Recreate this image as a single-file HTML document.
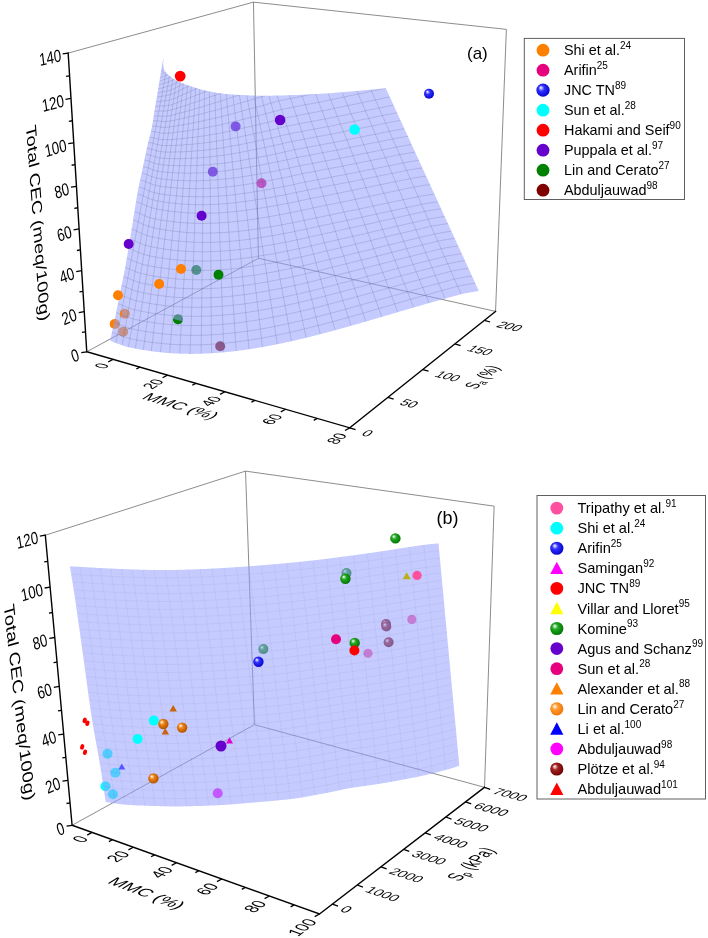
<!DOCTYPE html><html><head><meta charset="utf-8"><style>html,body{margin:0;padding:0;background:#fff;width:708px;height:938px;overflow:hidden;position:relative}</style></head><body><svg width="708" height="938" viewBox="0 0 708 938" style="position:absolute;left:0;top:0;will-change:transform">
<defs>
<radialGradient id="gBlue" cx="0.45" cy="0.45" r="0.6" fx="0.33" fy="0.3"><stop offset="0" stop-color="#fff"/><stop offset="0.38" stop-color="#3030ff"/><stop offset="1" stop-color="#0000c8"/></radialGradient>
<radialGradient id="gGreen" cx="0.45" cy="0.45" r="0.6" fx="0.33" fy="0.3"><stop offset="0" stop-color="#fff"/><stop offset="0.38" stop-color="#20a820"/><stop offset="1" stop-color="#007000"/></radialGradient>
<radialGradient id="gOrange" cx="0.45" cy="0.45" r="0.6" fx="0.33" fy="0.3"><stop offset="0" stop-color="#fff"/><stop offset="0.38" stop-color="#f08010"/><stop offset="1" stop-color="#a85000"/></radialGradient>
<radialGradient id="gDRed" cx="0.45" cy="0.45" r="0.6" fx="0.33" fy="0.3"><stop offset="0" stop-color="#fff"/><stop offset="0.38" stop-color="#a02020"/><stop offset="1" stop-color="#680000"/></radialGradient>
<radialGradient id="gOrangeL" cx="0.45" cy="0.45" r="0.6" fx="0.33" fy="0.3"><stop offset="0" stop-color="#fff"/><stop offset="0.38" stop-color="#ff9a30"/><stop offset="1" stop-color="#ee7000"/></radialGradient>
</defs>
<path d="M68.17,53.09 L253.45,2.15 L506.37,29.37 L495.56,311.39 M258.42,258.28 L253.45,2.15 M86.75,351.78 L258.42,258.28 L495.56,311.39" fill="none" stroke="#666666" stroke-width="0.75"/>
<circle cx="235.60" cy="126.40" r="5.00" fill="#6600cc" />
<circle cx="212.80" cy="171.80" r="5.00" fill="#6600cc" />
<circle cx="261.50" cy="183.30" r="5.00" fill="#e6007e" />
<circle cx="196.30" cy="270.00" r="5.00" fill="#008000" />
<circle cx="124.80" cy="313.80" r="5.00" fill="#ff8000" />
<circle cx="114.80" cy="324.00" r="5.00" fill="#ff8000" />
<circle cx="123.20" cy="331.80" r="5.00" fill="#ff8000" />
<circle cx="178.00" cy="319.20" r="5.00" fill="#008000" />
<circle cx="220.20" cy="346.20" r="5.00" fill="#800000" />
<clipPath id="clipA"><path d="M110.1,340.7 110.4,340.8 110.8,341.0 111.2,341.1 111.7,341.3 112.2,341.5 112.7,341.7 113.3,342.0 113.9,342.2 114.5,342.4 115.1,342.7 115.8,342.9 116.5,343.2 117.2,343.5 117.9,343.7 118.6,344.0 119.3,344.3 120.0,344.6 120.7,344.8 121.4,345.1 122.1,345.3 122.8,345.6 123.5,345.8 124.2,346.0 124.8,346.2 125.5,346.4 126.1,346.6 126.7,346.7 127.3,346.9 127.9,347.1 128.5,347.2 129.2,347.3 129.8,347.5 130.4,347.6 131.0,347.8 131.6,347.9 132.2,348.0 132.8,348.1 133.5,348.3 134.1,348.4 134.7,348.5 135.3,348.6 135.9,348.7 136.5,348.8 137.1,348.9 137.8,349.0 138.4,349.2 139.0,349.3 139.6,349.4 140.2,349.5 140.8,349.6 141.4,349.7 142.1,349.8 142.7,349.9 143.3,350.0 143.9,350.1 144.5,350.2 145.1,350.3 145.8,350.4 146.4,350.5 147.0,350.6 147.6,350.7 148.2,350.8 148.8,350.9 149.4,351.0 150.1,351.1 150.7,351.1 151.3,351.2 151.9,351.3 152.5,351.4 153.1,351.5 153.7,351.5 154.4,351.6 155.0,351.7 155.6,351.8 156.2,351.8 156.8,351.9 157.4,352.0 158.0,352.1 158.7,352.1 159.3,352.2 159.9,352.3 160.5,352.3 161.1,352.4 161.7,352.4 162.3,352.5 163.0,352.6 163.6,352.6 164.2,352.7 164.8,352.7 165.4,352.8 166.0,352.8 166.6,352.9 167.3,352.9 167.9,353.0 168.5,353.0 169.1,353.1 169.7,353.1 170.3,353.2 171.0,353.2 171.6,353.2 172.2,353.3 172.8,353.3 173.4,353.4 174.0,353.4 174.6,353.4 175.3,353.5 175.9,353.5 176.5,353.5 177.1,353.5 177.7,353.6 178.3,353.6 178.9,353.6 179.6,353.6 180.2,353.7 180.8,353.7 181.4,353.7 182.0,353.7 182.6,353.7 183.2,353.8 183.9,353.8 184.5,353.8 185.1,353.8 185.7,353.8 186.3,353.8 186.9,353.8 187.5,353.8 188.2,353.8 188.8,353.9 189.4,353.9 190.0,353.9 190.6,353.9 191.2,353.9 191.9,353.9 192.5,353.9 193.1,353.9 193.7,353.9 194.3,353.8 194.9,353.8 195.5,353.8 196.2,353.8 196.8,353.8 197.4,353.8 198.0,353.8 198.6,353.8 199.2,353.8 199.8,353.7 200.5,353.7 201.1,353.7 201.7,353.7 202.3,353.7 202.9,353.7 203.5,353.6 204.1,353.6 204.8,353.6 205.4,353.6 206.0,353.5 206.6,353.5 207.2,353.5 207.8,353.5 208.4,353.4 209.1,353.4 209.7,353.4 210.3,353.3 210.9,353.3 211.5,353.3 212.1,353.2 212.7,353.2 213.4,353.1 214.0,353.1 214.6,353.1 215.2,353.0 215.8,353.0 216.4,352.9 217.1,352.9 217.7,352.8 218.3,352.8 218.9,352.7 219.5,352.7 220.1,352.6 220.7,352.6 221.4,352.5 222.0,352.5 222.6,352.4 223.2,352.4 223.8,352.3 224.4,352.3 225.0,352.2 225.7,352.2 226.3,352.1 226.9,352.0 227.5,352.0 228.1,351.9 228.7,351.8 229.3,351.8 230.0,351.7 230.6,351.7 231.2,351.6 231.8,351.5 232.4,351.5 233.0,351.4 233.6,351.3 234.3,351.2 234.9,351.2 235.5,351.1 236.1,351.0 236.7,350.9 237.3,350.9 238.0,350.8 238.6,350.7 239.2,350.6 239.8,350.6 240.4,350.5 241.0,350.4 241.6,350.3 242.3,350.2 242.9,350.2 243.5,350.1 244.1,350.0 244.7,349.9 245.3,349.8 245.9,349.7 246.6,349.6 247.2,349.5 247.8,349.5 248.4,349.4 249.0,349.3 249.6,349.2 250.2,349.1 250.9,349.0 251.5,348.9 252.1,348.8 252.7,348.7 253.3,348.6 253.9,348.5 254.5,348.4 255.2,348.3 255.8,348.2 256.4,348.1 257.0,348.0 257.6,347.9 258.2,347.8 258.8,347.7 259.5,347.6 260.1,347.5 260.7,347.4 261.3,347.3 261.9,347.2 262.5,347.1 263.2,347.0 263.8,346.9 264.4,346.7 265.0,346.6 265.6,346.5 266.2,346.4 266.8,346.3 267.5,346.2 268.1,346.1 268.7,345.9 269.3,345.8 269.9,345.7 270.5,345.6 271.1,345.5 271.8,345.4 272.4,345.2 273.0,345.1 273.6,345.0 274.2,344.9 274.8,344.8 275.4,344.6 276.1,344.5 276.7,344.4 277.3,344.3 277.9,344.1 278.5,344.0 279.1,343.9 279.7,343.8 280.4,343.6 281.0,343.5 281.6,343.4 282.2,343.3 282.8,343.1 283.4,343.0 284.1,342.9 284.7,342.7 285.3,342.6 285.9,342.5 286.5,342.3 287.1,342.2 287.7,342.1 288.4,341.9 289.0,341.8 289.6,341.7 290.2,341.5 290.8,341.4 291.4,341.2 292.0,341.1 292.7,341.0 293.3,340.8 293.9,340.7 294.5,340.5 295.1,340.4 295.7,340.3 296.3,340.1 297.0,340.0 297.6,339.8 298.2,339.7 298.8,339.5 299.4,339.4 300.0,339.3 300.6,339.1 301.3,339.0 301.9,338.8 302.5,338.7 303.1,338.5 303.7,338.4 304.3,338.2 304.9,338.1 305.6,337.9 306.2,337.8 306.8,337.6 307.4,337.5 308.0,337.3 308.6,337.2 309.3,337.0 309.9,336.9 310.5,336.7 311.1,336.6 311.7,336.4 312.3,336.3 312.9,336.1 313.6,335.9 314.2,335.8 314.8,335.6 315.4,335.5 316.0,335.3 316.6,335.2 317.2,335.0 317.9,334.8 318.5,334.7 319.1,334.5 319.7,334.4 320.3,334.2 320.9,334.0 321.5,333.9 322.2,333.7 322.8,333.6 323.4,333.4 324.0,333.2 324.6,333.1 325.2,332.9 325.8,332.8 326.5,332.6 327.1,332.4 327.7,332.3 328.3,332.1 328.9,331.9 329.5,331.8 330.2,331.6 330.8,331.4 331.4,331.3 332.0,331.1 332.6,330.9 333.2,330.8 333.8,330.6 334.5,330.4 335.1,330.3 335.7,330.1 336.3,329.9 336.9,329.8 337.5,329.6 338.1,329.4 338.8,329.3 339.4,329.1 340.0,328.9 340.6,328.7 341.2,328.6 341.8,328.4 342.4,328.2 343.1,328.1 343.7,327.9 344.3,327.7 344.9,327.5 345.5,327.4 346.1,327.2 346.7,327.0 347.4,326.9 348.0,326.7 348.6,326.5 349.2,326.3 349.8,326.2 350.4,326.0 351.0,325.8 351.7,325.6 352.3,325.5 352.9,325.3 353.5,325.1 354.1,324.9 354.7,324.8 355.4,324.6 356.0,324.4 356.6,324.2 357.2,324.1 357.8,323.9 358.4,323.7 359.0,323.5 359.7,323.4 360.3,323.2 360.9,323.0 361.5,322.8 362.1,322.6 362.7,322.5 363.3,322.3 364.0,322.1 364.6,321.9 365.2,321.7 365.8,321.6 366.4,321.4 367.0,321.2 367.6,321.0 368.3,320.9 368.9,320.7 369.5,320.5 370.1,320.3 370.7,320.1 371.3,320.0 371.9,319.8 372.6,319.6 373.2,319.4 373.8,319.2 374.4,319.1 375.0,318.9 375.6,318.7 376.3,318.5 376.9,318.3 377.5,318.2 378.1,318.0 378.7,317.8 379.3,317.6 379.9,317.4 380.6,317.3 381.2,317.1 381.8,316.9 382.4,316.7 383.0,316.5 383.6,316.3 384.2,316.2 384.9,316.0 385.5,315.8 386.1,315.6 386.7,315.4 387.3,315.3 387.9,315.1 388.5,314.9 389.2,314.7 389.8,314.5 390.4,314.4 391.0,314.2 391.6,314.0 392.2,313.8 392.8,313.6 393.5,313.5 394.1,313.3 394.7,313.1 395.3,312.9 395.9,312.7 396.5,312.5 397.1,312.4 397.8,312.2 398.4,312.0 399.0,311.8 399.6,311.6 400.2,311.5 400.8,311.3 401.5,311.1 402.1,310.9 402.7,310.7 403.3,310.6 403.9,310.4 404.5,310.2 405.1,310.0 405.8,309.8 406.4,309.7 407.0,309.5 407.6,309.3 408.2,309.1 408.8,308.9 409.4,308.8 410.1,308.6 410.7,308.4 411.3,308.2 411.9,308.0 412.5,307.9 413.1,307.7 413.7,307.5 414.4,307.3 415.0,307.1 415.6,307.0 416.2,306.8 416.8,306.6 417.4,306.4 418.0,306.2 418.7,306.1 419.3,305.9 419.9,305.7 420.5,305.5 421.1,305.4 421.7,305.2 422.4,305.0 423.0,304.8 423.6,304.7 424.2,304.5 424.8,304.3 425.4,304.1 426.0,303.9 426.7,303.8 427.3,303.6 427.9,303.4 428.5,303.2 429.1,303.1 429.7,302.9 430.3,302.7 431.0,302.5 431.6,302.4 432.2,302.2 432.8,302.0 433.4,301.8 434.0,301.7 434.6,301.5 435.3,301.3 435.9,301.2 436.5,301.0 437.1,300.8 437.7,300.6 438.3,300.5 438.9,300.3 439.6,300.1 440.2,300.0 440.8,299.8 441.4,299.6 442.0,299.4 442.6,299.3 443.2,299.1 443.9,298.9 444.5,298.8 445.1,298.6 445.7,298.4 446.3,298.3 446.9,298.1 447.6,297.9 448.2,297.8 448.8,297.6 449.4,297.4 450.0,297.2 450.6,297.1 451.2,296.9 451.9,296.7 452.5,296.6 453.1,296.4 453.7,296.2 454.3,296.0 454.9,295.9 455.5,295.7 456.2,295.5 456.8,295.4 457.4,295.2 458.0,295.0 458.6,294.9 459.2,294.7 459.8,294.5 460.5,294.4 461.1,294.2 461.7,294.1 462.3,293.9 462.9,293.8 463.5,293.7 464.2,293.5 464.8,293.4 465.5,293.3 466.2,293.1 466.9,293.0 467.6,292.9 468.3,292.7 469.0,292.6 469.7,292.5 470.4,292.4 471.1,292.2 471.8,292.1 472.5,292.0 473.2,291.9 473.9,291.8 474.5,291.7 475.1,291.6 475.7,291.5 476.3,291.4 476.8,291.3 477.3,291.3 477.8,291.2 478.2,291.1 478.6,291.1 478.9,291.0 478.7,290.7 478.6,290.3 478.4,290.0 478.3,289.6 478.1,289.2 477.9,288.9 477.7,288.5 477.6,288.1 477.4,287.7 477.2,287.3 477.0,286.9 476.8,286.5 476.6,286.1 476.4,285.6 476.2,285.2 476.0,284.8 475.8,284.3 475.6,283.9 475.4,283.4 475.2,283.0 475.0,282.5 474.8,282.0 474.6,281.6 474.3,281.1 474.1,280.6 473.9,280.1 473.7,279.6 473.4,279.1 473.2,278.6 473.0,278.1 472.7,277.6 472.5,277.0 472.2,276.5 472.0,276.0 471.7,275.4 471.5,274.9 471.2,274.3 471.0,273.8 470.7,273.2 470.5,272.6 470.2,272.1 469.9,271.5 469.7,270.9 469.4,270.3 469.1,269.7 468.9,269.1 468.6,268.5 468.3,267.9 468.0,267.3 467.7,266.7 467.5,266.1 467.2,265.4 466.9,264.8 466.6,264.2 466.3,263.6 466.0,262.9 465.7,262.3 465.4,261.6 465.1,261.0 464.8,260.3 464.5,259.6 464.2,259.0 463.9,258.3 463.6,257.6 463.3,257.0 463.0,256.3 462.6,255.6 462.3,254.9 462.0,254.2 461.7,253.5 461.4,252.8 461.0,252.1 460.7,251.4 460.4,250.7 460.1,250.0 459.7,249.3 459.4,248.5 459.1,247.8 458.7,247.1 458.4,246.4 458.1,245.6 457.7,244.9 457.4,244.2 457.1,243.4 456.7,242.7 456.4,241.9 456.0,241.2 455.7,240.4 455.3,239.7 455.0,238.9 454.6,238.1 454.3,237.4 453.9,236.6 453.6,235.8 453.2,235.1 452.9,234.3 452.5,233.5 452.2,232.7 451.8,232.0 451.4,231.2 451.1,230.4 450.7,229.6 450.3,228.8 450.0,228.0 449.6,227.2 449.3,226.4 448.9,225.6 448.5,224.8 448.2,224.0 447.8,223.2 447.4,222.4 447.0,221.6 446.7,220.8 446.3,220.0 445.9,219.2 445.5,218.4 445.2,217.5 444.8,216.7 444.4,215.9 444.0,215.1 443.7,214.3 443.3,213.4 442.9,212.6 442.5,211.8 442.2,211.0 441.8,210.1 441.4,209.3 441.0,208.5 440.6,207.6 440.2,206.8 439.9,206.0 439.5,205.1 439.1,204.3 438.7,203.5 438.3,202.6 437.9,201.8 437.6,201.0 437.2,200.1 436.8,199.3 436.4,198.4 436.0,197.6 435.6,196.8 435.2,195.9 434.9,195.1 434.5,194.2 434.1,193.4 433.7,192.5 433.3,191.7 432.9,190.9 432.5,190.0 432.2,189.2 431.8,188.3 431.4,187.5 431.0,186.7 430.6,185.8 430.2,185.0 429.8,184.1 429.5,183.3 429.1,182.4 428.7,181.6 428.3,180.8 427.9,179.9 427.5,179.1 427.1,178.2 426.8,177.4 426.4,176.6 426.0,175.7 425.6,174.9 425.2,174.1 424.8,173.2 424.5,172.4 424.1,171.6 423.7,170.7 423.3,169.9 422.9,169.1 422.5,168.2 422.2,167.4 421.8,166.6 421.4,165.8 421.0,164.9 420.7,164.1 420.3,163.3 419.9,162.5 419.5,161.7 419.2,160.8 418.8,160.0 418.4,159.2 418.0,158.4 417.7,157.6 417.3,156.8 416.9,156.0 416.5,155.2 416.2,154.4 415.8,153.6 415.4,152.8 415.1,152.0 414.7,151.2 414.4,150.4 414.0,149.6 413.6,148.8 413.3,148.0 412.9,147.2 412.5,146.5 412.2,145.7 411.8,144.9 411.5,144.1 411.1,143.4 410.8,142.6 410.4,141.8 410.1,141.1 409.7,140.3 409.4,139.5 409.0,138.8 408.7,138.0 408.3,137.3 408.0,136.5 407.6,135.8 407.3,135.0 407.0,134.3 406.6,133.6 406.3,132.8 406.0,132.1 405.6,131.4 405.3,130.7 405.0,129.9 404.6,129.2 404.3,128.5 404.0,127.8 403.7,127.1 403.3,126.4 403.0,125.7 402.7,125.0 402.4,124.3 402.1,123.6 401.7,122.9 401.4,122.2 401.1,121.6 400.8,120.9 400.5,120.2 400.2,119.6 399.9,118.9 399.6,118.2 399.3,117.6 399.0,116.9 398.7,116.3 398.4,115.6 398.1,115.0 397.8,114.4 397.5,113.8 397.2,113.1 397.0,112.5 396.7,111.9 396.4,111.3 396.1,110.7 395.8,110.1 395.6,109.5 395.3,108.9 395.0,108.3 394.8,107.7 394.5,107.1 394.2,106.6 394.0,106.0 393.7,105.4 393.5,104.9 393.2,104.3 393.0,103.8 392.7,103.2 392.5,102.7 392.2,102.2 392.0,101.6 391.7,101.1 391.5,100.6 391.3,100.1 391.0,99.6 390.8,99.1 390.6,98.6 390.4,98.1 390.1,97.6 389.9,97.2 389.7,96.7 389.5,96.2 389.3,95.8 389.1,95.3 388.9,94.9 388.7,94.4 388.5,94.0 388.3,93.6 388.1,93.1 387.9,92.7 387.7,92.3 387.5,91.9 387.3,91.5 387.1,91.1 387.0,90.7 386.8,90.3 386.6,90.0 386.4,89.6 386.3,89.2 386.1,88.9 386.0,88.5 385.8,88.2 385.0,88.3 384.0,88.4 383.0,88.4 381.9,88.5 380.8,88.7 379.5,88.8 378.2,88.9 376.9,89.0 375.5,89.2 374.0,89.3 372.5,89.4 370.9,89.6 369.3,89.7 367.6,89.9 365.9,90.1 364.2,90.2 362.4,90.4 360.6,90.5 358.8,90.7 357.0,90.9 355.2,91.0 353.3,91.2 351.4,91.4 349.6,91.5 347.7,91.7 345.8,91.9 344.0,92.0 342.1,92.2 340.3,92.3 338.5,92.5 336.7,92.6 334.9,92.8 333.2,92.9 331.5,93.0 329.8,93.2 328.1,93.3 326.5,93.4 325.0,93.5 323.5,93.6 321.9,93.7 320.4,93.8 318.8,93.9 317.3,94.0 315.7,94.1 314.1,94.1 312.6,94.2 311.0,94.3 309.4,94.4 307.9,94.4 306.3,94.5 304.7,94.6 303.2,94.7 301.6,94.7 300.1,94.8 298.5,94.9 297.0,94.9 295.5,95.0 294.0,95.0 292.5,95.1 291.0,95.1 289.5,95.2 288.0,95.2 286.6,95.3 285.2,95.3 283.8,95.4 282.4,95.4 281.1,95.4 279.7,95.5 278.4,95.5 277.1,95.5 275.9,95.6 274.6,95.6 273.4,95.6 272.3,95.7 271.1,95.7 270.0,95.7 268.9,95.7 267.9,95.7 266.8,95.7 265.9,95.8 264.9,95.8 264.0,95.8 263.0,95.8 262.1,95.8 261.3,95.7 260.4,95.7 259.6,95.7 258.8,95.7 258.0,95.7 257.2,95.7 256.5,95.7 255.8,95.6 255.0,95.6 254.3,95.6 253.7,95.6 253.0,95.5 252.3,95.5 251.6,95.5 251.0,95.5 250.4,95.4 249.7,95.4 249.1,95.4 248.5,95.3 247.9,95.3 247.3,95.3 246.7,95.2 246.1,95.2 245.5,95.2 244.9,95.1 244.2,95.1 243.6,95.1 243.0,95.1 242.4,95.0 241.8,95.0 241.2,95.0 240.6,94.9 240.0,94.9 239.4,94.9 238.8,94.9 238.2,94.8 237.7,94.8 237.1,94.8 236.5,94.7 236.0,94.7 235.4,94.7 234.9,94.6 234.4,94.6 233.9,94.6 233.3,94.5 232.8,94.5 232.3,94.5 231.8,94.4 231.3,94.4 230.9,94.4 230.4,94.3 229.9,94.3 229.4,94.2 229.0,94.2 228.5,94.2 228.0,94.1 227.6,94.1 227.1,94.0 226.7,94.0 226.2,94.0 225.8,93.9 225.4,93.9 224.9,93.8 224.5,93.8 224.1,93.7 223.6,93.7 223.2,93.6 222.8,93.6 222.4,93.6 222.0,93.5 221.6,93.5 221.2,93.4 220.8,93.4 220.4,93.3 220.0,93.3 219.6,93.2 219.3,93.1 218.9,93.1 218.5,93.0 218.2,93.0 217.8,92.9 217.5,92.9 217.1,92.8 216.8,92.8 216.4,92.7 216.1,92.6 215.8,92.6 215.4,92.5 215.1,92.5 214.8,92.4 214.5,92.4 214.2,92.3 213.8,92.2 213.5,92.2 213.2,92.1 212.9,92.1 212.6,92.0 212.3,91.9 212.0,91.9 211.7,91.8 211.4,91.8 211.1,91.7 210.9,91.7 210.6,91.6 210.3,91.6 210.0,91.5 209.7,91.4 209.4,91.4 209.2,91.3 208.9,91.3 208.6,91.2 208.4,91.2 208.1,91.1 207.9,91.1 207.6,91.0 207.4,91.0 207.2,90.9 206.9,90.9 206.7,90.8 206.5,90.8 206.3,90.7 206.0,90.7 205.8,90.6 205.6,90.6 205.4,90.5 205.2,90.5 204.9,90.4 204.7,90.4 204.5,90.3 204.3,90.3 204.1,90.2 203.9,90.2 203.7,90.1 203.4,90.1 203.2,90.0 203.0,90.0 202.8,89.9 202.6,89.9 202.3,89.8 202.1,89.7 201.9,89.7 201.7,89.6 201.4,89.6 201.2,89.5 201.0,89.4 200.7,89.4 200.5,89.3 200.2,89.2 200.0,89.2 199.8,89.1 199.5,89.0 199.3,89.0 199.0,88.9 198.8,88.8 198.6,88.7 198.3,88.7 198.1,88.6 197.8,88.5 197.6,88.5 197.3,88.4 197.1,88.3 196.8,88.2 196.6,88.1 196.3,88.1 196.1,88.0 195.9,87.9 195.6,87.8 195.4,87.8 195.1,87.7 194.9,87.6 194.7,87.5 194.4,87.5 194.2,87.4 193.9,87.3 193.7,87.2 193.5,87.2 193.2,87.1 193.0,87.0 192.8,86.9 192.6,86.8 192.3,86.8 192.1,86.7 191.9,86.6 191.7,86.6 191.4,86.5 191.2,86.4 191.0,86.3 190.8,86.3 190.6,86.2 190.3,86.1 190.1,86.0 189.9,86.0 189.7,85.9 189.5,85.8 189.3,85.7 189.0,85.7 188.8,85.6 188.6,85.5 188.4,85.4 188.2,85.4 188.0,85.3 187.8,85.2 187.6,85.2 187.4,85.1 187.2,85.0 187.0,84.9 186.8,84.9 186.6,84.8 186.4,84.7 186.2,84.6 186.0,84.6 185.8,84.5 185.6,84.4 185.4,84.3 185.2,84.3 185.0,84.2 184.8,84.1 184.6,84.0 184.4,84.0 184.2,83.9 184.0,83.8 183.8,83.8 183.6,83.7 183.4,83.6 183.3,83.5 183.1,83.5 182.9,83.4 182.7,83.3 182.5,83.2 182.3,83.2 182.1,83.1 182.0,83.0 181.8,83.0 181.6,82.9 181.4,82.8 181.2,82.8 181.1,82.7 180.9,82.6 180.7,82.5 180.5,82.5 180.4,82.4 180.2,82.3 180.0,82.2 179.8,82.2 179.7,82.1 179.5,82.0 179.3,82.0 179.2,81.9 179.0,81.8 178.8,81.7 178.7,81.7 178.5,81.6 178.3,81.5 178.2,81.4 178.0,81.3 177.8,81.3 177.7,81.2 177.5,81.1 177.3,81.0 177.2,80.9 177.0,80.9 176.9,80.8 176.7,80.7 176.5,80.6 176.4,80.5 176.2,80.4 176.1,80.3 175.9,80.3 175.7,80.2 175.6,80.1 175.4,80.0 175.3,79.9 175.1,79.8 175.0,79.7 174.8,79.6 174.7,79.6 174.5,79.5 174.4,79.4 174.2,79.3 174.1,79.2 173.9,79.1 173.8,79.0 173.6,78.9 173.5,78.8 173.3,78.7 173.2,78.6 173.0,78.5 172.9,78.5 172.8,78.4 172.6,78.3 172.5,78.2 172.3,78.1 172.2,78.0 172.1,77.9 171.9,77.8 171.8,77.7 171.7,77.6 171.5,77.5 171.4,77.4 171.3,77.3 171.1,77.2 171.0,77.1 170.9,77.0 170.7,76.9 170.6,76.8 170.5,76.7 170.4,76.6 170.2,76.5 170.1,76.4 170.0,76.3 169.9,76.2 169.7,76.1 169.6,76.0 169.5,75.9 169.4,75.8 169.2,75.7 169.1,75.6 169.0,75.5 168.9,75.4 168.8,75.3 168.7,75.2 168.5,75.1 168.4,75.0 168.3,74.9 168.2,74.8 168.1,74.7 168.0,74.6 167.9,74.5 167.8,74.4 167.7,74.3 167.6,74.2 167.5,74.1 167.4,74.0 167.3,73.9 167.2,73.8 167.1,73.7 167.0,73.6 166.9,73.5 166.8,73.5 166.8,73.4 166.7,73.3 166.6,73.2 166.5,73.1 166.4,73.1 166.3,73.0 166.3,72.9 166.2,72.8 166.1,72.7 166.0,72.7 166.0,72.6 165.9,72.5 165.8,72.4 165.7,72.3 165.7,72.3 165.6,72.2 165.5,72.1 165.5,72.0 165.4,72.0 165.3,71.9 165.3,71.8 165.2,71.7 165.2,71.6 165.1,71.6 165.0,71.5 165.0,71.4 164.9,71.3 164.9,71.2 164.8,71.2 164.8,71.1 164.7,71.0 164.7,70.9 164.6,70.8 164.5,70.7 164.5,70.6 164.5,70.5 164.4,70.4 164.4,70.3 164.3,70.3 164.3,70.2 164.2,70.1 164.2,70.0 164.1,69.9 164.1,69.8 164.1,69.7 164.0,69.6 164.0,69.5 164.0,69.4 163.9,69.3 163.9,69.2 163.9,69.1 163.8,69.0 163.8,68.9 163.8,68.8 163.8,68.7 163.7,68.6 163.7,68.5 163.7,68.4 163.6,68.3 163.6,68.2 163.6,68.1 163.6,68.0 163.6,67.9 163.5,67.8 163.5,67.7 163.5,67.6 163.5,67.5 163.5,67.3 163.4,67.2 163.4,67.1 163.4,67.0 163.4,66.9 163.4,66.8 163.4,66.6 163.3,66.5 163.3,66.4 163.3,66.3 163.3,66.2 163.3,66.0 163.3,65.9 163.3,65.8 163.3,65.7 163.3,65.5 163.2,65.4 163.2,65.3 163.2,65.2 163.2,65.0 163.2,64.9 163.2,64.8 163.2,64.6 163.2,64.5 163.2,64.4 163.2,64.2 163.2,64.1 163.2,64.0 163.2,63.8 163.2,63.7 163.2,63.5 163.2,63.4 163.2,63.3 163.2,63.1 163.2,63.0 163.3,62.9 163.3,62.7 163.3,62.6 163.3,62.4 163.3,62.3 163.3,62.1 163.3,62.0 163.3,61.9 163.3,61.7 163.3,61.5 163.4,61.4 163.4,61.2 163.4,61.1 163.4,60.9 163.4,60.7 163.4,60.5 163.5,60.4 163.5,60.2 163.5,60.0 163.5,59.8 163.6,59.6 163.6,59.5 163.6,59.3 163.6,59.1 163.7,58.9 163.7,58.7 163.7,58.6 163.7,58.4 163.8,58.2 163.8,58.0 163.8,57.9 163.9,57.7 163.9,57.6 163.9,57.4 163.9,57.3 163.9,57.1 164.0,57.0 164.0,56.8 164.0,56.7 164.0,56.6 164.0,56.5 164.1,56.4 164.1,56.3 164.1,56.2 164.1,56.1 164.1,56.2 164.1,56.3 164.0,56.4 164.0,56.5 164.0,56.6 163.9,56.8 163.9,56.9 163.9,57.0 163.8,57.1 163.8,57.3 163.8,57.4 163.7,57.6 163.7,57.7 163.6,57.9 163.6,58.1 163.5,58.2 163.5,58.4 163.5,58.6 163.4,58.8 163.4,58.9 163.3,59.1 163.3,59.3 163.2,59.5 163.2,59.7 163.1,59.9 163.1,60.1 163.0,60.3 163.0,60.5 162.9,60.8 162.9,61.0 162.8,61.2 162.8,61.4 162.7,61.7 162.7,61.9 162.6,62.1 162.6,62.4 162.5,62.6 162.5,62.8 162.4,63.1 162.3,63.3 162.3,63.6 162.2,63.8 162.2,64.1 162.2,64.4 162.1,64.6 162.1,64.9 162.0,65.2 162.0,65.4 161.9,65.7 161.9,66.0 161.8,66.3 161.8,66.6 161.7,66.9 161.7,67.2 161.6,67.5 161.6,67.8 161.5,68.1 161.4,68.5 161.4,68.8 161.3,69.1 161.3,69.4 161.2,69.8 161.2,70.1 161.1,70.4 161.1,70.8 161.0,71.1 161.0,71.4 160.9,71.8 160.9,72.1 160.8,72.5 160.8,72.8 160.7,73.2 160.6,73.5 160.6,73.9 160.5,74.2 160.5,74.6 160.4,75.0 160.4,75.3 160.3,75.7 160.3,76.0 160.2,76.4 160.1,76.8 160.1,77.1 160.0,77.5 160.0,77.8 159.9,78.2 159.8,78.6 159.8,78.9 159.7,79.3 159.7,79.7 159.6,80.0 159.5,80.4 159.5,80.8 159.4,81.2 159.3,81.6 159.3,82.0 159.2,82.3 159.2,82.7 159.1,83.1 159.0,83.5 159.0,83.9 158.9,84.3 158.8,84.7 158.8,85.1 158.7,85.5 158.6,85.9 158.6,86.3 158.5,86.7 158.4,87.1 158.4,87.5 158.3,87.9 158.2,88.3 158.2,88.8 158.1,89.2 158.0,89.6 158.0,90.0 157.9,90.4 157.8,90.8 157.8,91.2 157.7,91.6 157.6,92.0 157.6,92.4 157.5,92.8 157.4,93.2 157.4,93.6 157.3,94.0 157.2,94.4 157.2,94.8 157.1,95.2 157.0,95.6 157.0,96.0 156.9,96.4 156.8,96.8 156.8,97.2 156.7,97.6 156.6,98.0 156.6,98.3 156.5,98.7 156.4,99.1 156.4,99.5 156.3,99.9 156.3,100.3 156.2,100.7 156.1,101.1 156.1,101.5 156.0,101.9 155.9,102.3 155.9,102.7 155.8,103.1 155.7,103.5 155.7,103.8 155.6,104.2 155.5,104.6 155.5,105.0 155.4,105.4 155.3,105.8 155.3,106.2 155.2,106.6 155.1,107.0 155.1,107.4 155.0,107.8 155.0,108.2 154.9,108.6 154.8,109.0 154.8,109.3 154.7,109.7 154.6,110.1 154.6,110.5 154.5,110.9 154.4,111.3 154.4,111.7 154.3,112.1 154.2,112.5 154.2,112.9 154.1,113.3 154.0,113.7 154.0,114.1 153.9,114.5 153.9,114.9 153.8,115.3 153.7,115.7 153.7,116.1 153.6,116.5 153.5,116.9 153.5,117.3 153.4,117.7 153.4,118.1 153.3,118.5 153.2,118.9 153.2,119.3 153.1,119.7 153.0,120.1 153.0,120.5 152.9,120.9 152.9,121.3 152.8,121.7 152.7,122.1 152.7,122.5 152.6,122.9 152.5,123.3 152.5,123.7 152.4,124.1 152.3,124.5 152.3,124.9 152.2,125.3 152.1,125.7 152.1,126.1 152.0,126.5 151.9,126.8 151.9,127.2 151.8,127.6 151.7,128.0 151.6,128.4 151.6,128.7 151.5,129.1 151.4,129.5 151.3,129.8 151.3,130.2 151.2,130.5 151.1,130.8 151.1,131.2 151.0,131.5 150.9,131.8 150.8,132.1 150.8,132.4 150.7,132.7 150.6,133.0 150.5,133.3 150.5,133.6 150.4,133.9 150.3,134.1 150.2,134.4 150.2,134.7 150.1,135.0 150.0,135.3 149.9,135.6 149.8,135.9 149.8,136.2 149.7,136.5 149.6,136.8 149.5,137.1 149.4,137.4 149.3,137.8 149.2,138.1 149.1,138.5 149.1,138.8 149.0,139.2 148.9,139.5 148.8,139.9 148.7,140.3 148.6,140.7 148.5,141.2 148.4,141.6 148.3,142.0 148.1,142.5 148.0,143.0 147.9,143.5 147.8,144.0 147.7,144.5 147.6,145.1 147.4,145.7 147.3,146.2 147.2,146.9 147.0,147.5 146.9,148.1 146.7,148.8 146.6,149.4 146.5,150.1 146.3,150.8 146.2,151.5 146.0,152.2 145.8,153.0 145.7,153.7 145.5,154.4 145.4,155.2 145.2,155.9 145.0,156.7 144.9,157.5 144.7,158.2 144.6,159.0 144.4,159.8 144.2,160.5 144.1,161.3 143.9,162.1 143.7,162.8 143.6,163.6 143.4,164.4 143.3,165.1 143.1,165.9 143.0,166.6 142.8,167.3 142.6,168.0 142.5,168.8 142.4,169.5 142.2,170.2 142.1,170.8 141.9,171.5 141.8,172.1 141.7,172.8 141.5,173.4 141.4,174.0 141.3,174.6 141.2,175.1 141.0,175.7 140.9,176.2 140.8,176.7 140.7,177.2 140.6,177.7 140.5,178.2 140.4,178.6 140.3,179.1 140.2,179.5 140.1,179.9 140.0,180.4 139.9,180.8 139.8,181.2 139.7,181.6 139.7,182.0 139.6,182.4 139.5,182.8 139.4,183.2 139.3,183.6 139.2,184.0 139.1,184.4 139.0,184.8 139.0,185.2 138.9,185.7 138.8,186.1 138.7,186.5 138.6,187.0 138.5,187.4 138.4,187.9 138.3,188.4 138.2,188.9 138.1,189.4 138.0,190.0 137.9,190.5 137.8,191.1 137.7,191.7 137.6,192.3 137.5,192.9 137.3,193.6 137.2,194.3 137.1,195.0 137.0,195.7 136.8,196.5 136.7,197.3 136.6,198.1 136.4,198.9 136.3,199.8 136.1,200.7 136.0,201.5 135.9,202.5 135.7,203.4 135.6,204.3 135.4,205.3 135.2,206.3 135.1,207.2 134.9,208.2 134.8,209.2 134.6,210.2 134.5,211.3 134.3,212.3 134.1,213.3 134.0,214.4 133.8,215.4 133.6,216.5 133.5,217.5 133.3,218.6 133.2,219.6 133.0,220.7 132.8,221.7 132.7,222.7 132.5,223.8 132.3,224.8 132.2,225.8 132.0,226.8 131.9,227.8 131.7,228.8 131.5,229.8 131.4,230.8 131.2,231.7 131.1,232.7 130.9,233.6 130.8,234.5 130.6,235.4 130.5,236.3 130.4,237.2 130.2,238.0 130.1,238.9 129.9,239.7 129.8,240.6 129.7,241.4 129.5,242.2 129.4,243.1 129.2,243.9 129.1,244.7 129.0,245.6 128.8,246.4 128.7,247.2 128.6,248.0 128.4,248.8 128.3,249.6 128.1,250.4 128.0,251.2 127.9,251.9 127.7,252.7 127.6,253.5 127.5,254.3 127.4,255.0 127.2,255.8 127.1,256.5 127.0,257.3 126.8,258.0 126.7,258.8 126.6,259.5 126.4,260.3 126.3,261.0 126.2,261.7 126.1,262.4 125.9,263.2 125.8,263.9 125.7,264.6 125.6,265.3 125.4,266.0 125.3,266.7 125.2,267.4 125.0,268.0 124.9,268.7 124.8,269.4 124.7,270.1 124.6,270.7 124.4,271.4 124.3,272.0 124.2,272.7 124.1,273.3 123.9,273.9 123.8,274.5 123.7,275.1 123.6,275.7 123.5,276.3 123.4,276.9 123.2,277.5 123.1,278.1 123.0,278.7 122.9,279.2 122.8,279.8 122.7,280.4 122.5,280.9 122.4,281.5 122.3,282.0 122.2,282.6 122.1,283.1 122.0,283.7 121.9,284.2 121.7,284.8 121.6,285.3 121.5,285.9 121.4,286.4 121.3,287.0 121.2,287.5 121.1,288.1 120.9,288.6 120.8,289.2 120.7,289.7 120.6,290.3 120.5,290.8 120.4,291.4 120.3,291.9 120.1,292.5 120.0,293.1 119.9,293.6 119.8,294.2 119.7,294.8 119.6,295.4 119.5,295.9 119.3,296.5 119.2,297.1 119.1,297.7 119.0,298.3 118.9,298.9 118.7,299.4 118.6,300.0 118.5,300.6 118.4,301.2 118.3,301.8 118.2,302.4 118.0,303.0 117.9,303.6 117.8,304.2 117.7,304.7 117.6,305.3 117.5,305.9 117.3,306.5 117.2,307.1 117.1,307.7 117.0,308.3 116.9,308.8 116.8,309.4 116.6,310.0 116.5,310.6 116.4,311.2 116.3,311.7 116.2,312.3 116.1,312.9 115.9,313.4 115.8,314.0 115.7,314.6 115.6,315.1 115.5,315.7 115.4,316.3 115.3,316.8 115.1,317.4 115.0,317.9 114.9,318.5 114.8,319.0 114.7,319.5 114.6,320.1 114.5,320.7 114.3,321.2 114.2,321.8 114.1,322.4 114.0,323.0 113.8,323.5 113.7,324.1 113.6,324.7 113.5,325.3 113.3,325.9 113.2,326.5 113.1,327.1 113.0,327.7 112.8,328.2 112.7,328.8 112.6,329.4 112.4,330.0 112.3,330.6 112.2,331.1 112.1,331.7 112.0,332.2 111.8,332.8 111.7,333.3 111.6,333.8 111.5,334.4 111.4,334.9 111.3,335.4 111.2,335.8 111.1,336.3 111.0,336.8 110.9,337.2 110.8,337.6 110.7,338.0 110.6,338.4 110.5,338.8 110.4,339.2 110.4,339.5 110.3,339.8 110.2,340.2 110.2,340.4 110.1,340.7 Z"/></clipPath>
<path d="M110.1,340.7 110.4,340.8 110.8,341.0 111.2,341.1 111.7,341.3 112.2,341.5 112.7,341.7 113.3,342.0 113.9,342.2 114.5,342.4 115.1,342.7 115.8,342.9 116.5,343.2 117.2,343.5 117.9,343.7 118.6,344.0 119.3,344.3 120.0,344.6 120.7,344.8 121.4,345.1 122.1,345.3 122.8,345.6 123.5,345.8 124.2,346.0 124.8,346.2 125.5,346.4 126.1,346.6 126.7,346.7 127.3,346.9 127.9,347.1 128.5,347.2 129.2,347.3 129.8,347.5 130.4,347.6 131.0,347.8 131.6,347.9 132.2,348.0 132.8,348.1 133.5,348.3 134.1,348.4 134.7,348.5 135.3,348.6 135.9,348.7 136.5,348.8 137.1,348.9 137.8,349.0 138.4,349.2 139.0,349.3 139.6,349.4 140.2,349.5 140.8,349.6 141.4,349.7 142.1,349.8 142.7,349.9 143.3,350.0 143.9,350.1 144.5,350.2 145.1,350.3 145.8,350.4 146.4,350.5 147.0,350.6 147.6,350.7 148.2,350.8 148.8,350.9 149.4,351.0 150.1,351.1 150.7,351.1 151.3,351.2 151.9,351.3 152.5,351.4 153.1,351.5 153.7,351.5 154.4,351.6 155.0,351.7 155.6,351.8 156.2,351.8 156.8,351.9 157.4,352.0 158.0,352.1 158.7,352.1 159.3,352.2 159.9,352.3 160.5,352.3 161.1,352.4 161.7,352.4 162.3,352.5 163.0,352.6 163.6,352.6 164.2,352.7 164.8,352.7 165.4,352.8 166.0,352.8 166.6,352.9 167.3,352.9 167.9,353.0 168.5,353.0 169.1,353.1 169.7,353.1 170.3,353.2 171.0,353.2 171.6,353.2 172.2,353.3 172.8,353.3 173.4,353.4 174.0,353.4 174.6,353.4 175.3,353.5 175.9,353.5 176.5,353.5 177.1,353.5 177.7,353.6 178.3,353.6 178.9,353.6 179.6,353.6 180.2,353.7 180.8,353.7 181.4,353.7 182.0,353.7 182.6,353.7 183.2,353.8 183.9,353.8 184.5,353.8 185.1,353.8 185.7,353.8 186.3,353.8 186.9,353.8 187.5,353.8 188.2,353.8 188.8,353.9 189.4,353.9 190.0,353.9 190.6,353.9 191.2,353.9 191.9,353.9 192.5,353.9 193.1,353.9 193.7,353.9 194.3,353.8 194.9,353.8 195.5,353.8 196.2,353.8 196.8,353.8 197.4,353.8 198.0,353.8 198.6,353.8 199.2,353.8 199.8,353.7 200.5,353.7 201.1,353.7 201.7,353.7 202.3,353.7 202.9,353.7 203.5,353.6 204.1,353.6 204.8,353.6 205.4,353.6 206.0,353.5 206.6,353.5 207.2,353.5 207.8,353.5 208.4,353.4 209.1,353.4 209.7,353.4 210.3,353.3 210.9,353.3 211.5,353.3 212.1,353.2 212.7,353.2 213.4,353.1 214.0,353.1 214.6,353.1 215.2,353.0 215.8,353.0 216.4,352.9 217.1,352.9 217.7,352.8 218.3,352.8 218.9,352.7 219.5,352.7 220.1,352.6 220.7,352.6 221.4,352.5 222.0,352.5 222.6,352.4 223.2,352.4 223.8,352.3 224.4,352.3 225.0,352.2 225.7,352.2 226.3,352.1 226.9,352.0 227.5,352.0 228.1,351.9 228.7,351.8 229.3,351.8 230.0,351.7 230.6,351.7 231.2,351.6 231.8,351.5 232.4,351.5 233.0,351.4 233.6,351.3 234.3,351.2 234.9,351.2 235.5,351.1 236.1,351.0 236.7,350.9 237.3,350.9 238.0,350.8 238.6,350.7 239.2,350.6 239.8,350.6 240.4,350.5 241.0,350.4 241.6,350.3 242.3,350.2 242.9,350.2 243.5,350.1 244.1,350.0 244.7,349.9 245.3,349.8 245.9,349.7 246.6,349.6 247.2,349.5 247.8,349.5 248.4,349.4 249.0,349.3 249.6,349.2 250.2,349.1 250.9,349.0 251.5,348.9 252.1,348.8 252.7,348.7 253.3,348.6 253.9,348.5 254.5,348.4 255.2,348.3 255.8,348.2 256.4,348.1 257.0,348.0 257.6,347.9 258.2,347.8 258.8,347.7 259.5,347.6 260.1,347.5 260.7,347.4 261.3,347.3 261.9,347.2 262.5,347.1 263.2,347.0 263.8,346.9 264.4,346.7 265.0,346.6 265.6,346.5 266.2,346.4 266.8,346.3 267.5,346.2 268.1,346.1 268.7,345.9 269.3,345.8 269.9,345.7 270.5,345.6 271.1,345.5 271.8,345.4 272.4,345.2 273.0,345.1 273.6,345.0 274.2,344.9 274.8,344.8 275.4,344.6 276.1,344.5 276.7,344.4 277.3,344.3 277.9,344.1 278.5,344.0 279.1,343.9 279.7,343.8 280.4,343.6 281.0,343.5 281.6,343.4 282.2,343.3 282.8,343.1 283.4,343.0 284.1,342.9 284.7,342.7 285.3,342.6 285.9,342.5 286.5,342.3 287.1,342.2 287.7,342.1 288.4,341.9 289.0,341.8 289.6,341.7 290.2,341.5 290.8,341.4 291.4,341.2 292.0,341.1 292.7,341.0 293.3,340.8 293.9,340.7 294.5,340.5 295.1,340.4 295.7,340.3 296.3,340.1 297.0,340.0 297.6,339.8 298.2,339.7 298.8,339.5 299.4,339.4 300.0,339.3 300.6,339.1 301.3,339.0 301.9,338.8 302.5,338.7 303.1,338.5 303.7,338.4 304.3,338.2 304.9,338.1 305.6,337.9 306.2,337.8 306.8,337.6 307.4,337.5 308.0,337.3 308.6,337.2 309.3,337.0 309.9,336.9 310.5,336.7 311.1,336.6 311.7,336.4 312.3,336.3 312.9,336.1 313.6,335.9 314.2,335.8 314.8,335.6 315.4,335.5 316.0,335.3 316.6,335.2 317.2,335.0 317.9,334.8 318.5,334.7 319.1,334.5 319.7,334.4 320.3,334.2 320.9,334.0 321.5,333.9 322.2,333.7 322.8,333.6 323.4,333.4 324.0,333.2 324.6,333.1 325.2,332.9 325.8,332.8 326.5,332.6 327.1,332.4 327.7,332.3 328.3,332.1 328.9,331.9 329.5,331.8 330.2,331.6 330.8,331.4 331.4,331.3 332.0,331.1 332.6,330.9 333.2,330.8 333.8,330.6 334.5,330.4 335.1,330.3 335.7,330.1 336.3,329.9 336.9,329.8 337.5,329.6 338.1,329.4 338.8,329.3 339.4,329.1 340.0,328.9 340.6,328.7 341.2,328.6 341.8,328.4 342.4,328.2 343.1,328.1 343.7,327.9 344.3,327.7 344.9,327.5 345.5,327.4 346.1,327.2 346.7,327.0 347.4,326.9 348.0,326.7 348.6,326.5 349.2,326.3 349.8,326.2 350.4,326.0 351.0,325.8 351.7,325.6 352.3,325.5 352.9,325.3 353.5,325.1 354.1,324.9 354.7,324.8 355.4,324.6 356.0,324.4 356.6,324.2 357.2,324.1 357.8,323.9 358.4,323.7 359.0,323.5 359.7,323.4 360.3,323.2 360.9,323.0 361.5,322.8 362.1,322.6 362.7,322.5 363.3,322.3 364.0,322.1 364.6,321.9 365.2,321.7 365.8,321.6 366.4,321.4 367.0,321.2 367.6,321.0 368.3,320.9 368.9,320.7 369.5,320.5 370.1,320.3 370.7,320.1 371.3,320.0 371.9,319.8 372.6,319.6 373.2,319.4 373.8,319.2 374.4,319.1 375.0,318.9 375.6,318.7 376.3,318.5 376.9,318.3 377.5,318.2 378.1,318.0 378.7,317.8 379.3,317.6 379.9,317.4 380.6,317.3 381.2,317.1 381.8,316.9 382.4,316.7 383.0,316.5 383.6,316.3 384.2,316.2 384.9,316.0 385.5,315.8 386.1,315.6 386.7,315.4 387.3,315.3 387.9,315.1 388.5,314.9 389.2,314.7 389.8,314.5 390.4,314.4 391.0,314.2 391.6,314.0 392.2,313.8 392.8,313.6 393.5,313.5 394.1,313.3 394.7,313.1 395.3,312.9 395.9,312.7 396.5,312.5 397.1,312.4 397.8,312.2 398.4,312.0 399.0,311.8 399.6,311.6 400.2,311.5 400.8,311.3 401.5,311.1 402.1,310.9 402.7,310.7 403.3,310.6 403.9,310.4 404.5,310.2 405.1,310.0 405.8,309.8 406.4,309.7 407.0,309.5 407.6,309.3 408.2,309.1 408.8,308.9 409.4,308.8 410.1,308.6 410.7,308.4 411.3,308.2 411.9,308.0 412.5,307.9 413.1,307.7 413.7,307.5 414.4,307.3 415.0,307.1 415.6,307.0 416.2,306.8 416.8,306.6 417.4,306.4 418.0,306.2 418.7,306.1 419.3,305.9 419.9,305.7 420.5,305.5 421.1,305.4 421.7,305.2 422.4,305.0 423.0,304.8 423.6,304.7 424.2,304.5 424.8,304.3 425.4,304.1 426.0,303.9 426.7,303.8 427.3,303.6 427.9,303.4 428.5,303.2 429.1,303.1 429.7,302.9 430.3,302.7 431.0,302.5 431.6,302.4 432.2,302.2 432.8,302.0 433.4,301.8 434.0,301.7 434.6,301.5 435.3,301.3 435.9,301.2 436.5,301.0 437.1,300.8 437.7,300.6 438.3,300.5 438.9,300.3 439.6,300.1 440.2,300.0 440.8,299.8 441.4,299.6 442.0,299.4 442.6,299.3 443.2,299.1 443.9,298.9 444.5,298.8 445.1,298.6 445.7,298.4 446.3,298.3 446.9,298.1 447.6,297.9 448.2,297.8 448.8,297.6 449.4,297.4 450.0,297.2 450.6,297.1 451.2,296.9 451.9,296.7 452.5,296.6 453.1,296.4 453.7,296.2 454.3,296.0 454.9,295.9 455.5,295.7 456.2,295.5 456.8,295.4 457.4,295.2 458.0,295.0 458.6,294.9 459.2,294.7 459.8,294.5 460.5,294.4 461.1,294.2 461.7,294.1 462.3,293.9 462.9,293.8 463.5,293.7 464.2,293.5 464.8,293.4 465.5,293.3 466.2,293.1 466.9,293.0 467.6,292.9 468.3,292.7 469.0,292.6 469.7,292.5 470.4,292.4 471.1,292.2 471.8,292.1 472.5,292.0 473.2,291.9 473.9,291.8 474.5,291.7 475.1,291.6 475.7,291.5 476.3,291.4 476.8,291.3 477.3,291.3 477.8,291.2 478.2,291.1 478.6,291.1 478.9,291.0 478.7,290.7 478.6,290.3 478.4,290.0 478.3,289.6 478.1,289.2 477.9,288.9 477.7,288.5 477.6,288.1 477.4,287.7 477.2,287.3 477.0,286.9 476.8,286.5 476.6,286.1 476.4,285.6 476.2,285.2 476.0,284.8 475.8,284.3 475.6,283.9 475.4,283.4 475.2,283.0 475.0,282.5 474.8,282.0 474.6,281.6 474.3,281.1 474.1,280.6 473.9,280.1 473.7,279.6 473.4,279.1 473.2,278.6 473.0,278.1 472.7,277.6 472.5,277.0 472.2,276.5 472.0,276.0 471.7,275.4 471.5,274.9 471.2,274.3 471.0,273.8 470.7,273.2 470.5,272.6 470.2,272.1 469.9,271.5 469.7,270.9 469.4,270.3 469.1,269.7 468.9,269.1 468.6,268.5 468.3,267.9 468.0,267.3 467.7,266.7 467.5,266.1 467.2,265.4 466.9,264.8 466.6,264.2 466.3,263.6 466.0,262.9 465.7,262.3 465.4,261.6 465.1,261.0 464.8,260.3 464.5,259.6 464.2,259.0 463.9,258.3 463.6,257.6 463.3,257.0 463.0,256.3 462.6,255.6 462.3,254.9 462.0,254.2 461.7,253.5 461.4,252.8 461.0,252.1 460.7,251.4 460.4,250.7 460.1,250.0 459.7,249.3 459.4,248.5 459.1,247.8 458.7,247.1 458.4,246.4 458.1,245.6 457.7,244.9 457.4,244.2 457.1,243.4 456.7,242.7 456.4,241.9 456.0,241.2 455.7,240.4 455.3,239.7 455.0,238.9 454.6,238.1 454.3,237.4 453.9,236.6 453.6,235.8 453.2,235.1 452.9,234.3 452.5,233.5 452.2,232.7 451.8,232.0 451.4,231.2 451.1,230.4 450.7,229.6 450.3,228.8 450.0,228.0 449.6,227.2 449.3,226.4 448.9,225.6 448.5,224.8 448.2,224.0 447.8,223.2 447.4,222.4 447.0,221.6 446.7,220.8 446.3,220.0 445.9,219.2 445.5,218.4 445.2,217.5 444.8,216.7 444.4,215.9 444.0,215.1 443.7,214.3 443.3,213.4 442.9,212.6 442.5,211.8 442.2,211.0 441.8,210.1 441.4,209.3 441.0,208.5 440.6,207.6 440.2,206.8 439.9,206.0 439.5,205.1 439.1,204.3 438.7,203.5 438.3,202.6 437.9,201.8 437.6,201.0 437.2,200.1 436.8,199.3 436.4,198.4 436.0,197.6 435.6,196.8 435.2,195.9 434.9,195.1 434.5,194.2 434.1,193.4 433.7,192.5 433.3,191.7 432.9,190.9 432.5,190.0 432.2,189.2 431.8,188.3 431.4,187.5 431.0,186.7 430.6,185.8 430.2,185.0 429.8,184.1 429.5,183.3 429.1,182.4 428.7,181.6 428.3,180.8 427.9,179.9 427.5,179.1 427.1,178.2 426.8,177.4 426.4,176.6 426.0,175.7 425.6,174.9 425.2,174.1 424.8,173.2 424.5,172.4 424.1,171.6 423.7,170.7 423.3,169.9 422.9,169.1 422.5,168.2 422.2,167.4 421.8,166.6 421.4,165.8 421.0,164.9 420.7,164.1 420.3,163.3 419.9,162.5 419.5,161.7 419.2,160.8 418.8,160.0 418.4,159.2 418.0,158.4 417.7,157.6 417.3,156.8 416.9,156.0 416.5,155.2 416.2,154.4 415.8,153.6 415.4,152.8 415.1,152.0 414.7,151.2 414.4,150.4 414.0,149.6 413.6,148.8 413.3,148.0 412.9,147.2 412.5,146.5 412.2,145.7 411.8,144.9 411.5,144.1 411.1,143.4 410.8,142.6 410.4,141.8 410.1,141.1 409.7,140.3 409.4,139.5 409.0,138.8 408.7,138.0 408.3,137.3 408.0,136.5 407.6,135.8 407.3,135.0 407.0,134.3 406.6,133.6 406.3,132.8 406.0,132.1 405.6,131.4 405.3,130.7 405.0,129.9 404.6,129.2 404.3,128.5 404.0,127.8 403.7,127.1 403.3,126.4 403.0,125.7 402.7,125.0 402.4,124.3 402.1,123.6 401.7,122.9 401.4,122.2 401.1,121.6 400.8,120.9 400.5,120.2 400.2,119.6 399.9,118.9 399.6,118.2 399.3,117.6 399.0,116.9 398.7,116.3 398.4,115.6 398.1,115.0 397.8,114.4 397.5,113.8 397.2,113.1 397.0,112.5 396.7,111.9 396.4,111.3 396.1,110.7 395.8,110.1 395.6,109.5 395.3,108.9 395.0,108.3 394.8,107.7 394.5,107.1 394.2,106.6 394.0,106.0 393.7,105.4 393.5,104.9 393.2,104.3 393.0,103.8 392.7,103.2 392.5,102.7 392.2,102.2 392.0,101.6 391.7,101.1 391.5,100.6 391.3,100.1 391.0,99.6 390.8,99.1 390.6,98.6 390.4,98.1 390.1,97.6 389.9,97.2 389.7,96.7 389.5,96.2 389.3,95.8 389.1,95.3 388.9,94.9 388.7,94.4 388.5,94.0 388.3,93.6 388.1,93.1 387.9,92.7 387.7,92.3 387.5,91.9 387.3,91.5 387.1,91.1 387.0,90.7 386.8,90.3 386.6,90.0 386.4,89.6 386.3,89.2 386.1,88.9 386.0,88.5 385.8,88.2 385.0,88.3 384.0,88.4 383.0,88.4 381.9,88.5 380.8,88.7 379.5,88.8 378.2,88.9 376.9,89.0 375.5,89.2 374.0,89.3 372.5,89.4 370.9,89.6 369.3,89.7 367.6,89.9 365.9,90.1 364.2,90.2 362.4,90.4 360.6,90.5 358.8,90.7 357.0,90.9 355.2,91.0 353.3,91.2 351.4,91.4 349.6,91.5 347.7,91.7 345.8,91.9 344.0,92.0 342.1,92.2 340.3,92.3 338.5,92.5 336.7,92.6 334.9,92.8 333.2,92.9 331.5,93.0 329.8,93.2 328.1,93.3 326.5,93.4 325.0,93.5 323.5,93.6 321.9,93.7 320.4,93.8 318.8,93.9 317.3,94.0 315.7,94.1 314.1,94.1 312.6,94.2 311.0,94.3 309.4,94.4 307.9,94.4 306.3,94.5 304.7,94.6 303.2,94.7 301.6,94.7 300.1,94.8 298.5,94.9 297.0,94.9 295.5,95.0 294.0,95.0 292.5,95.1 291.0,95.1 289.5,95.2 288.0,95.2 286.6,95.3 285.2,95.3 283.8,95.4 282.4,95.4 281.1,95.4 279.7,95.5 278.4,95.5 277.1,95.5 275.9,95.6 274.6,95.6 273.4,95.6 272.3,95.7 271.1,95.7 270.0,95.7 268.9,95.7 267.9,95.7 266.8,95.7 265.9,95.8 264.9,95.8 264.0,95.8 263.0,95.8 262.1,95.8 261.3,95.7 260.4,95.7 259.6,95.7 258.8,95.7 258.0,95.7 257.2,95.7 256.5,95.7 255.8,95.6 255.0,95.6 254.3,95.6 253.7,95.6 253.0,95.5 252.3,95.5 251.6,95.5 251.0,95.5 250.4,95.4 249.7,95.4 249.1,95.4 248.5,95.3 247.9,95.3 247.3,95.3 246.7,95.2 246.1,95.2 245.5,95.2 244.9,95.1 244.2,95.1 243.6,95.1 243.0,95.1 242.4,95.0 241.8,95.0 241.2,95.0 240.6,94.9 240.0,94.9 239.4,94.9 238.8,94.9 238.2,94.8 237.7,94.8 237.1,94.8 236.5,94.7 236.0,94.7 235.4,94.7 234.9,94.6 234.4,94.6 233.9,94.6 233.3,94.5 232.8,94.5 232.3,94.5 231.8,94.4 231.3,94.4 230.9,94.4 230.4,94.3 229.9,94.3 229.4,94.2 229.0,94.2 228.5,94.2 228.0,94.1 227.6,94.1 227.1,94.0 226.7,94.0 226.2,94.0 225.8,93.9 225.4,93.9 224.9,93.8 224.5,93.8 224.1,93.7 223.6,93.7 223.2,93.6 222.8,93.6 222.4,93.6 222.0,93.5 221.6,93.5 221.2,93.4 220.8,93.4 220.4,93.3 220.0,93.3 219.6,93.2 219.3,93.1 218.9,93.1 218.5,93.0 218.2,93.0 217.8,92.9 217.5,92.9 217.1,92.8 216.8,92.8 216.4,92.7 216.1,92.6 215.8,92.6 215.4,92.5 215.1,92.5 214.8,92.4 214.5,92.4 214.2,92.3 213.8,92.2 213.5,92.2 213.2,92.1 212.9,92.1 212.6,92.0 212.3,91.9 212.0,91.9 211.7,91.8 211.4,91.8 211.1,91.7 210.9,91.7 210.6,91.6 210.3,91.6 210.0,91.5 209.7,91.4 209.4,91.4 209.2,91.3 208.9,91.3 208.6,91.2 208.4,91.2 208.1,91.1 207.9,91.1 207.6,91.0 207.4,91.0 207.2,90.9 206.9,90.9 206.7,90.8 206.5,90.8 206.3,90.7 206.0,90.7 205.8,90.6 205.6,90.6 205.4,90.5 205.2,90.5 204.9,90.4 204.7,90.4 204.5,90.3 204.3,90.3 204.1,90.2 203.9,90.2 203.7,90.1 203.4,90.1 203.2,90.0 203.0,90.0 202.8,89.9 202.6,89.9 202.3,89.8 202.1,89.7 201.9,89.7 201.7,89.6 201.4,89.6 201.2,89.5 201.0,89.4 200.7,89.4 200.5,89.3 200.2,89.2 200.0,89.2 199.8,89.1 199.5,89.0 199.3,89.0 199.0,88.9 198.8,88.8 198.6,88.7 198.3,88.7 198.1,88.6 197.8,88.5 197.6,88.5 197.3,88.4 197.1,88.3 196.8,88.2 196.6,88.1 196.3,88.1 196.1,88.0 195.9,87.9 195.6,87.8 195.4,87.8 195.1,87.7 194.9,87.6 194.7,87.5 194.4,87.5 194.2,87.4 193.9,87.3 193.7,87.2 193.5,87.2 193.2,87.1 193.0,87.0 192.8,86.9 192.6,86.8 192.3,86.8 192.1,86.7 191.9,86.6 191.7,86.6 191.4,86.5 191.2,86.4 191.0,86.3 190.8,86.3 190.6,86.2 190.3,86.1 190.1,86.0 189.9,86.0 189.7,85.9 189.5,85.8 189.3,85.7 189.0,85.7 188.8,85.6 188.6,85.5 188.4,85.4 188.2,85.4 188.0,85.3 187.8,85.2 187.6,85.2 187.4,85.1 187.2,85.0 187.0,84.9 186.8,84.9 186.6,84.8 186.4,84.7 186.2,84.6 186.0,84.6 185.8,84.5 185.6,84.4 185.4,84.3 185.2,84.3 185.0,84.2 184.8,84.1 184.6,84.0 184.4,84.0 184.2,83.9 184.0,83.8 183.8,83.8 183.6,83.7 183.4,83.6 183.3,83.5 183.1,83.5 182.9,83.4 182.7,83.3 182.5,83.2 182.3,83.2 182.1,83.1 182.0,83.0 181.8,83.0 181.6,82.9 181.4,82.8 181.2,82.8 181.1,82.7 180.9,82.6 180.7,82.5 180.5,82.5 180.4,82.4 180.2,82.3 180.0,82.2 179.8,82.2 179.7,82.1 179.5,82.0 179.3,82.0 179.2,81.9 179.0,81.8 178.8,81.7 178.7,81.7 178.5,81.6 178.3,81.5 178.2,81.4 178.0,81.3 177.8,81.3 177.7,81.2 177.5,81.1 177.3,81.0 177.2,80.9 177.0,80.9 176.9,80.8 176.7,80.7 176.5,80.6 176.4,80.5 176.2,80.4 176.1,80.3 175.9,80.3 175.7,80.2 175.6,80.1 175.4,80.0 175.3,79.9 175.1,79.8 175.0,79.7 174.8,79.6 174.7,79.6 174.5,79.5 174.4,79.4 174.2,79.3 174.1,79.2 173.9,79.1 173.8,79.0 173.6,78.9 173.5,78.8 173.3,78.7 173.2,78.6 173.0,78.5 172.9,78.5 172.8,78.4 172.6,78.3 172.5,78.2 172.3,78.1 172.2,78.0 172.1,77.9 171.9,77.8 171.8,77.7 171.7,77.6 171.5,77.5 171.4,77.4 171.3,77.3 171.1,77.2 171.0,77.1 170.9,77.0 170.7,76.9 170.6,76.8 170.5,76.7 170.4,76.6 170.2,76.5 170.1,76.4 170.0,76.3 169.9,76.2 169.7,76.1 169.6,76.0 169.5,75.9 169.4,75.8 169.2,75.7 169.1,75.6 169.0,75.5 168.9,75.4 168.8,75.3 168.7,75.2 168.5,75.1 168.4,75.0 168.3,74.9 168.2,74.8 168.1,74.7 168.0,74.6 167.9,74.5 167.8,74.4 167.7,74.3 167.6,74.2 167.5,74.1 167.4,74.0 167.3,73.9 167.2,73.8 167.1,73.7 167.0,73.6 166.9,73.5 166.8,73.5 166.8,73.4 166.7,73.3 166.6,73.2 166.5,73.1 166.4,73.1 166.3,73.0 166.3,72.9 166.2,72.8 166.1,72.7 166.0,72.7 166.0,72.6 165.9,72.5 165.8,72.4 165.7,72.3 165.7,72.3 165.6,72.2 165.5,72.1 165.5,72.0 165.4,72.0 165.3,71.9 165.3,71.8 165.2,71.7 165.2,71.6 165.1,71.6 165.0,71.5 165.0,71.4 164.9,71.3 164.9,71.2 164.8,71.2 164.8,71.1 164.7,71.0 164.7,70.9 164.6,70.8 164.5,70.7 164.5,70.6 164.5,70.5 164.4,70.4 164.4,70.3 164.3,70.3 164.3,70.2 164.2,70.1 164.2,70.0 164.1,69.9 164.1,69.8 164.1,69.7 164.0,69.6 164.0,69.5 164.0,69.4 163.9,69.3 163.9,69.2 163.9,69.1 163.8,69.0 163.8,68.9 163.8,68.8 163.8,68.7 163.7,68.6 163.7,68.5 163.7,68.4 163.6,68.3 163.6,68.2 163.6,68.1 163.6,68.0 163.6,67.9 163.5,67.8 163.5,67.7 163.5,67.6 163.5,67.5 163.5,67.3 163.4,67.2 163.4,67.1 163.4,67.0 163.4,66.9 163.4,66.8 163.4,66.6 163.3,66.5 163.3,66.4 163.3,66.3 163.3,66.2 163.3,66.0 163.3,65.9 163.3,65.8 163.3,65.7 163.3,65.5 163.2,65.4 163.2,65.3 163.2,65.2 163.2,65.0 163.2,64.9 163.2,64.8 163.2,64.6 163.2,64.5 163.2,64.4 163.2,64.2 163.2,64.1 163.2,64.0 163.2,63.8 163.2,63.7 163.2,63.5 163.2,63.4 163.2,63.3 163.2,63.1 163.2,63.0 163.3,62.9 163.3,62.7 163.3,62.6 163.3,62.4 163.3,62.3 163.3,62.1 163.3,62.0 163.3,61.9 163.3,61.7 163.3,61.5 163.4,61.4 163.4,61.2 163.4,61.1 163.4,60.9 163.4,60.7 163.4,60.5 163.5,60.4 163.5,60.2 163.5,60.0 163.5,59.8 163.6,59.6 163.6,59.5 163.6,59.3 163.6,59.1 163.7,58.9 163.7,58.7 163.7,58.6 163.7,58.4 163.8,58.2 163.8,58.0 163.8,57.9 163.9,57.7 163.9,57.6 163.9,57.4 163.9,57.3 163.9,57.1 164.0,57.0 164.0,56.8 164.0,56.7 164.0,56.6 164.0,56.5 164.1,56.4 164.1,56.3 164.1,56.2 164.1,56.1 164.1,56.2 164.1,56.3 164.0,56.4 164.0,56.5 164.0,56.6 163.9,56.8 163.9,56.9 163.9,57.0 163.8,57.1 163.8,57.3 163.8,57.4 163.7,57.6 163.7,57.7 163.6,57.9 163.6,58.1 163.5,58.2 163.5,58.4 163.5,58.6 163.4,58.8 163.4,58.9 163.3,59.1 163.3,59.3 163.2,59.5 163.2,59.7 163.1,59.9 163.1,60.1 163.0,60.3 163.0,60.5 162.9,60.8 162.9,61.0 162.8,61.2 162.8,61.4 162.7,61.7 162.7,61.9 162.6,62.1 162.6,62.4 162.5,62.6 162.5,62.8 162.4,63.1 162.3,63.3 162.3,63.6 162.2,63.8 162.2,64.1 162.2,64.4 162.1,64.6 162.1,64.9 162.0,65.2 162.0,65.4 161.9,65.7 161.9,66.0 161.8,66.3 161.8,66.6 161.7,66.9 161.7,67.2 161.6,67.5 161.6,67.8 161.5,68.1 161.4,68.5 161.4,68.8 161.3,69.1 161.3,69.4 161.2,69.8 161.2,70.1 161.1,70.4 161.1,70.8 161.0,71.1 161.0,71.4 160.9,71.8 160.9,72.1 160.8,72.5 160.8,72.8 160.7,73.2 160.6,73.5 160.6,73.9 160.5,74.2 160.5,74.6 160.4,75.0 160.4,75.3 160.3,75.7 160.3,76.0 160.2,76.4 160.1,76.8 160.1,77.1 160.0,77.5 160.0,77.8 159.9,78.2 159.8,78.6 159.8,78.9 159.7,79.3 159.7,79.7 159.6,80.0 159.5,80.4 159.5,80.8 159.4,81.2 159.3,81.6 159.3,82.0 159.2,82.3 159.2,82.7 159.1,83.1 159.0,83.5 159.0,83.9 158.9,84.3 158.8,84.7 158.8,85.1 158.7,85.5 158.6,85.9 158.6,86.3 158.5,86.7 158.4,87.1 158.4,87.5 158.3,87.9 158.2,88.3 158.2,88.8 158.1,89.2 158.0,89.6 158.0,90.0 157.9,90.4 157.8,90.8 157.8,91.2 157.7,91.6 157.6,92.0 157.6,92.4 157.5,92.8 157.4,93.2 157.4,93.6 157.3,94.0 157.2,94.4 157.2,94.8 157.1,95.2 157.0,95.6 157.0,96.0 156.9,96.4 156.8,96.8 156.8,97.2 156.7,97.6 156.6,98.0 156.6,98.3 156.5,98.7 156.4,99.1 156.4,99.5 156.3,99.9 156.3,100.3 156.2,100.7 156.1,101.1 156.1,101.5 156.0,101.9 155.9,102.3 155.9,102.7 155.8,103.1 155.7,103.5 155.7,103.8 155.6,104.2 155.5,104.6 155.5,105.0 155.4,105.4 155.3,105.8 155.3,106.2 155.2,106.6 155.1,107.0 155.1,107.4 155.0,107.8 155.0,108.2 154.9,108.6 154.8,109.0 154.8,109.3 154.7,109.7 154.6,110.1 154.6,110.5 154.5,110.9 154.4,111.3 154.4,111.7 154.3,112.1 154.2,112.5 154.2,112.9 154.1,113.3 154.0,113.7 154.0,114.1 153.9,114.5 153.9,114.9 153.8,115.3 153.7,115.7 153.7,116.1 153.6,116.5 153.5,116.9 153.5,117.3 153.4,117.7 153.4,118.1 153.3,118.5 153.2,118.9 153.2,119.3 153.1,119.7 153.0,120.1 153.0,120.5 152.9,120.9 152.9,121.3 152.8,121.7 152.7,122.1 152.7,122.5 152.6,122.9 152.5,123.3 152.5,123.7 152.4,124.1 152.3,124.5 152.3,124.9 152.2,125.3 152.1,125.7 152.1,126.1 152.0,126.5 151.9,126.8 151.9,127.2 151.8,127.6 151.7,128.0 151.6,128.4 151.6,128.7 151.5,129.1 151.4,129.5 151.3,129.8 151.3,130.2 151.2,130.5 151.1,130.8 151.1,131.2 151.0,131.5 150.9,131.8 150.8,132.1 150.8,132.4 150.7,132.7 150.6,133.0 150.5,133.3 150.5,133.6 150.4,133.9 150.3,134.1 150.2,134.4 150.2,134.7 150.1,135.0 150.0,135.3 149.9,135.6 149.8,135.9 149.8,136.2 149.7,136.5 149.6,136.8 149.5,137.1 149.4,137.4 149.3,137.8 149.2,138.1 149.1,138.5 149.1,138.8 149.0,139.2 148.9,139.5 148.8,139.9 148.7,140.3 148.6,140.7 148.5,141.2 148.4,141.6 148.3,142.0 148.1,142.5 148.0,143.0 147.9,143.5 147.8,144.0 147.7,144.5 147.6,145.1 147.4,145.7 147.3,146.2 147.2,146.9 147.0,147.5 146.9,148.1 146.7,148.8 146.6,149.4 146.5,150.1 146.3,150.8 146.2,151.5 146.0,152.2 145.8,153.0 145.7,153.7 145.5,154.4 145.4,155.2 145.2,155.9 145.0,156.7 144.9,157.5 144.7,158.2 144.6,159.0 144.4,159.8 144.2,160.5 144.1,161.3 143.9,162.1 143.7,162.8 143.6,163.6 143.4,164.4 143.3,165.1 143.1,165.9 143.0,166.6 142.8,167.3 142.6,168.0 142.5,168.8 142.4,169.5 142.2,170.2 142.1,170.8 141.9,171.5 141.8,172.1 141.7,172.8 141.5,173.4 141.4,174.0 141.3,174.6 141.2,175.1 141.0,175.7 140.9,176.2 140.8,176.7 140.7,177.2 140.6,177.7 140.5,178.2 140.4,178.6 140.3,179.1 140.2,179.5 140.1,179.9 140.0,180.4 139.9,180.8 139.8,181.2 139.7,181.6 139.7,182.0 139.6,182.4 139.5,182.8 139.4,183.2 139.3,183.6 139.2,184.0 139.1,184.4 139.0,184.8 139.0,185.2 138.9,185.7 138.8,186.1 138.7,186.5 138.6,187.0 138.5,187.4 138.4,187.9 138.3,188.4 138.2,188.9 138.1,189.4 138.0,190.0 137.9,190.5 137.8,191.1 137.7,191.7 137.6,192.3 137.5,192.9 137.3,193.6 137.2,194.3 137.1,195.0 137.0,195.7 136.8,196.5 136.7,197.3 136.6,198.1 136.4,198.9 136.3,199.8 136.1,200.7 136.0,201.5 135.9,202.5 135.7,203.4 135.6,204.3 135.4,205.3 135.2,206.3 135.1,207.2 134.9,208.2 134.8,209.2 134.6,210.2 134.5,211.3 134.3,212.3 134.1,213.3 134.0,214.4 133.8,215.4 133.6,216.5 133.5,217.5 133.3,218.6 133.2,219.6 133.0,220.7 132.8,221.7 132.7,222.7 132.5,223.8 132.3,224.8 132.2,225.8 132.0,226.8 131.9,227.8 131.7,228.8 131.5,229.8 131.4,230.8 131.2,231.7 131.1,232.7 130.9,233.6 130.8,234.5 130.6,235.4 130.5,236.3 130.4,237.2 130.2,238.0 130.1,238.9 129.9,239.7 129.8,240.6 129.7,241.4 129.5,242.2 129.4,243.1 129.2,243.9 129.1,244.7 129.0,245.6 128.8,246.4 128.7,247.2 128.6,248.0 128.4,248.8 128.3,249.6 128.1,250.4 128.0,251.2 127.9,251.9 127.7,252.7 127.6,253.5 127.5,254.3 127.4,255.0 127.2,255.8 127.1,256.5 127.0,257.3 126.8,258.0 126.7,258.8 126.6,259.5 126.4,260.3 126.3,261.0 126.2,261.7 126.1,262.4 125.9,263.2 125.8,263.9 125.7,264.6 125.6,265.3 125.4,266.0 125.3,266.7 125.2,267.4 125.0,268.0 124.9,268.7 124.8,269.4 124.7,270.1 124.6,270.7 124.4,271.4 124.3,272.0 124.2,272.7 124.1,273.3 123.9,273.9 123.8,274.5 123.7,275.1 123.6,275.7 123.5,276.3 123.4,276.9 123.2,277.5 123.1,278.1 123.0,278.7 122.9,279.2 122.8,279.8 122.7,280.4 122.5,280.9 122.4,281.5 122.3,282.0 122.2,282.6 122.1,283.1 122.0,283.7 121.9,284.2 121.7,284.8 121.6,285.3 121.5,285.9 121.4,286.4 121.3,287.0 121.2,287.5 121.1,288.1 120.9,288.6 120.8,289.2 120.7,289.7 120.6,290.3 120.5,290.8 120.4,291.4 120.3,291.9 120.1,292.5 120.0,293.1 119.9,293.6 119.8,294.2 119.7,294.8 119.6,295.4 119.5,295.9 119.3,296.5 119.2,297.1 119.1,297.7 119.0,298.3 118.9,298.9 118.7,299.4 118.6,300.0 118.5,300.6 118.4,301.2 118.3,301.8 118.2,302.4 118.0,303.0 117.9,303.6 117.8,304.2 117.7,304.7 117.6,305.3 117.5,305.9 117.3,306.5 117.2,307.1 117.1,307.7 117.0,308.3 116.9,308.8 116.8,309.4 116.6,310.0 116.5,310.6 116.4,311.2 116.3,311.7 116.2,312.3 116.1,312.9 115.9,313.4 115.8,314.0 115.7,314.6 115.6,315.1 115.5,315.7 115.4,316.3 115.3,316.8 115.1,317.4 115.0,317.9 114.9,318.5 114.8,319.0 114.7,319.5 114.6,320.1 114.5,320.7 114.3,321.2 114.2,321.8 114.1,322.4 114.0,323.0 113.8,323.5 113.7,324.1 113.6,324.7 113.5,325.3 113.3,325.9 113.2,326.5 113.1,327.1 113.0,327.7 112.8,328.2 112.7,328.8 112.6,329.4 112.4,330.0 112.3,330.6 112.2,331.1 112.1,331.7 112.0,332.2 111.8,332.8 111.7,333.3 111.6,333.8 111.5,334.4 111.4,334.9 111.3,335.4 111.2,335.8 111.1,336.3 111.0,336.8 110.9,337.2 110.8,337.6 110.7,338.0 110.6,338.4 110.5,338.8 110.4,339.2 110.4,339.5 110.3,339.8 110.2,340.2 110.2,340.4 110.1,340.7 Z" fill="#96a0ff" fill-opacity="0.550"/>
<path d="M115.8,342.9 120.4,318.4 124.9,293.8 129.5,269.2 134.1,244.7 138.6,220.1 143.2,195.5 147.8,170.9 152.3,146.4 156.9,121.8 161.5,97.2 166.0,72.7 M122.1,345.3 126.5,320.8 130.8,296.3 135.1,271.8 139.4,247.3 143.7,222.8 148.0,198.4 152.3,173.9 156.6,149.4 160.9,124.9 165.2,100.4 169.5,75.9 M128.5,347.2 132.6,322.8 136.6,298.4 140.7,273.9 144.7,249.5 148.8,225.1 152.8,200.7 156.9,176.2 160.9,151.8 165.0,127.4 169.0,103.0 173.0,78.5 M135.3,348.6 139.0,324.2 142.8,299.9 146.5,275.5 150.3,251.2 154.0,226.8 157.8,202.4 161.5,178.1 165.3,153.7 169.0,129.3 172.8,105.0 176.5,80.6 M143.3,350.0 146.6,325.7 150.0,301.3 153.3,277.0 156.6,252.6 160.0,228.3 163.3,204.0 166.7,179.6 170.0,155.3 173.3,130.9 176.7,106.6 180.0,82.2 M151.3,351.2 154.2,326.9 157.1,302.6 160.1,278.2 163.0,253.9 165.9,229.6 168.8,205.3 171.7,180.9 174.7,156.6 177.6,132.3 180.5,107.9 183.4,83.6 M160.5,352.3 163.0,328.0 165.4,303.7 167.9,279.5 170.4,255.2 172.8,230.9 175.3,206.6 177.7,182.3 180.2,158.0 182.7,133.7 185.1,109.4 187.6,85.2 M169.7,353.1 171.7,328.9 173.7,304.6 175.6,280.4 177.6,256.2 179.6,231.9 181.6,207.7 183.5,183.4 185.5,159.2 187.5,135.0 189.5,110.7 191.4,86.5 M179.6,353.6 181.0,329.5 182.5,305.3 183.9,281.2 185.4,257.0 186.9,232.8 188.3,208.7 189.8,184.5 191.2,160.3 192.7,136.2 194.2,112.0 195.6,87.8 M190.0,353.9 190.9,329.8 191.8,305.7 192.7,281.7 193.6,257.6 194.4,233.5 195.3,209.4 196.2,185.4 197.1,161.3 198.0,137.2 198.9,113.2 199.8,89.1 M201.1,353.7 201.4,329.8 201.7,305.8 202.0,281.9 202.3,257.9 202.6,234.0 202.9,210.1 203.3,186.1 203.6,162.2 203.9,138.2 204.2,114.3 204.5,90.3 M211.5,353.3 211.3,329.4 211.1,305.6 211.0,281.8 210.8,258.0 210.6,234.2 210.4,210.4 210.2,186.6 210.0,162.8 209.8,139.0 209.6,115.2 209.4,91.4 M223.8,352.3 223.0,328.7 222.2,305.1 221.4,281.4 220.5,257.8 219.7,234.2 218.9,210.6 218.1,186.9 217.3,163.3 216.4,139.7 215.6,116.0 214.8,92.4 M236.1,351.0 234.7,327.6 233.2,304.2 231.8,280.7 230.4,257.3 229.0,233.9 227.5,210.5 226.1,187.0 224.7,163.6 223.2,140.2 221.8,116.7 220.4,93.3 M249.0,349.3 246.9,326.1 244.9,302.9 242.8,279.6 240.7,256.4 238.7,233.2 236.6,210.0 234.5,186.8 232.4,163.6 230.4,140.4 228.3,117.2 226.2,94.0 M262.5,347.1 259.8,324.1 257.1,301.1 254.4,278.2 251.7,255.2 249.0,232.3 246.3,209.3 243.6,186.3 240.9,163.4 238.2,140.4 235.5,117.5 232.8,94.5 M277.3,344.3 273.8,321.6 270.4,298.9 267.0,276.3 263.5,253.6 260.1,230.9 256.6,208.2 253.2,185.6 249.7,162.9 246.3,140.2 242.8,117.6 239.4,94.9 M291.4,341.2 287.4,318.9 283.3,296.5 279.2,274.2 275.1,251.8 271.1,229.4 267.0,207.1 262.9,184.7 258.9,162.3 254.8,140.0 250.7,117.6 246.7,95.2 M306.2,337.8 301.4,315.8 296.6,293.7 291.9,271.7 287.1,249.7 282.3,227.7 277.5,205.7 272.8,183.6 268.0,161.6 263.2,139.6 258.4,117.6 253.7,95.6 M320.3,334.2 314.9,312.5 309.6,290.9 304.2,269.2 298.8,247.5 293.5,225.8 288.1,204.1 282.7,182.5 277.4,160.8 272.0,139.1 266.6,117.4 261.3,95.7 M335.1,330.3 329.1,308.9 323.0,287.6 317.0,266.3 311.0,245.0 305.0,223.7 299.0,202.3 293.0,181.0 287.0,159.7 280.9,138.4 274.9,117.0 268.9,95.7 M351.0,325.8 344.3,304.9 337.6,283.9 330.9,263.0 324.2,242.1 317.4,221.1 310.7,200.2 304.0,179.3 297.3,158.3 290.6,137.4 283.8,116.5 277.1,95.5 M365.8,321.6 358.9,301.0 351.9,280.4 345.0,259.8 338.1,239.2 331.1,218.7 324.2,198.1 317.2,177.5 310.3,156.9 303.4,136.3 296.4,115.8 289.5,95.2 M381.8,316.9 374.5,296.7 367.2,276.5 359.9,256.3 352.6,236.1 345.3,215.9 338.1,195.7 330.8,175.5 323.5,155.3 316.2,135.1 308.9,114.9 301.6,94.7 M397.8,312.2 390.3,292.4 382.8,272.5 375.4,252.7 367.9,232.9 360.5,213.0 353.0,193.2 345.5,173.4 338.1,153.5 330.6,133.7 323.2,113.9 315.7,94.1 M413.7,307.5 406.0,288.0 398.2,268.6 390.4,249.1 382.6,229.6 374.8,210.1 367.1,190.7 359.3,171.2 351.5,151.7 343.7,132.2 335.9,112.8 328.1,93.3 M429.1,303.1 421.2,283.9 413.3,264.7 405.4,245.6 397.5,226.4 389.6,207.2 381.7,188.0 373.8,168.9 365.9,149.7 358.0,130.5 350.0,111.4 342.1,92.2 M445.1,298.6 437.1,279.7 429.1,260.8 421.1,241.9 413.1,223.1 405.1,204.2 397.0,185.3 389.0,166.4 381.0,147.5 373.0,128.6 365.0,109.8 357.0,90.9 M461.1,294.2 452.9,275.6 444.7,257.0 436.5,238.4 428.3,219.8 420.1,201.2 411.9,182.6 403.7,164.0 395.5,145.4 387.3,126.8 379.1,108.2 370.9,89.6 M111.7,332.2 113.6,332.9 115.5,333.7 117.5,334.4 119.6,335.2 121.7,336.0 123.8,336.8 125.9,337.5 128.0,338.1 130.2,338.6 132.4,339.1 134.7,339.6 137.0,340.0 139.6,340.4 142.3,340.9 144.9,341.3 147.6,341.7 150.2,342.1 153.0,342.5 156.0,342.9 159.1,343.2 162.1,343.5 165.2,343.8 168.2,344.1 171.3,344.3 174.6,344.5 177.8,344.6 181.1,344.7 184.6,344.8 188.0,344.9 191.6,344.9 195.2,344.8 198.9,344.8 202.5,344.7 205.9,344.5 209.4,344.4 213.1,344.1 217.1,343.9 221.2,343.5 225.3,343.1 229.3,342.7 233.4,342.3 237.6,341.8 241.8,341.2 246.1,340.6 250.5,340.0 254.9,339.2 259.4,338.5 264.1,337.7 269.0,336.7 273.8,335.8 278.6,334.8 283.3,333.8 288.0,332.8 292.7,331.7 297.6,330.6 302.5,329.4 307.2,328.3 311.9,327.1 316.6,325.9 321.4,324.7 326.3,323.4 331.2,322.1 336.3,320.7 341.6,319.2 346.9,317.7 351.9,316.3 356.9,314.9 361.8,313.5 367.1,312.0 372.4,310.4 377.7,308.9 383.1,307.3 388.4,305.8 393.8,304.2 399.1,302.7 404.4,301.1 409.8,299.6 415.0,298.1 420.1,296.6 425.3,295.2 430.6,293.7 436.0,292.2 441.3,290.7 446.7,289.2 452.0,287.8 457.4,286.4 463.3,285.1 469.3,284.1 475.3,283.1 M113.6,322.3 115.5,323.0 117.4,323.8 119.3,324.5 121.4,325.4 123.4,326.2 125.5,326.9 127.6,327.6 129.7,328.3 131.8,328.8 134.0,329.3 136.2,329.8 138.5,330.2 141.1,330.7 143.7,331.2 146.3,331.6 148.8,332.0 151.4,332.4 154.1,332.8 157.1,333.2 160.1,333.5 163.1,333.9 166.1,334.1 169.0,334.4 172.1,334.6 175.3,334.8 178.4,335.0 181.7,335.1 185.1,335.2 188.4,335.3 191.9,335.3 195.5,335.3 199.0,335.3 202.6,335.2 205.9,335.1 209.3,334.9 213.0,334.7 216.9,334.5 220.9,334.2 224.9,333.8 228.9,333.4 232.9,333.0 236.9,332.6 241.1,332.0 245.3,331.5 249.6,330.8 254.0,330.2 258.4,329.4 263.0,328.6 267.8,327.8 272.5,326.9 277.2,325.9 281.8,325.0 286.4,324.0 291.1,323.0 295.9,321.9 300.7,320.8 305.3,319.7 309.9,318.6 314.5,317.4 319.3,316.2 324.1,315.0 328.9,313.7 333.9,312.4 339.1,311.0 344.3,309.5 349.3,308.2 354.2,306.8 359.1,305.5 364.3,304.0 369.6,302.5 374.9,301.0 380.2,299.5 385.6,298.0 390.9,296.5 396.2,295.0 401.5,293.5 406.8,292.0 411.9,290.6 417.1,289.2 422.2,287.7 427.5,286.3 432.9,284.8 438.3,283.4 443.6,282.0 448.9,280.5 454.2,279.2 460.1,277.9 466.1,276.9 472.0,276.0 M115.5,312.4 117.4,313.1 119.2,313.9 121.1,314.7 123.2,315.5 125.2,316.3 127.3,317.1 129.3,317.8 131.4,318.4 133.4,319.0 135.6,319.5 137.8,319.9 140.0,320.4 142.5,320.9 145.1,321.3 147.6,321.8 150.1,322.2 152.7,322.6 155.3,322.9 158.2,323.3 161.1,323.7 164.1,324.0 167.0,324.3 169.9,324.5 172.9,324.8 176.0,325.0 179.1,325.2 182.3,325.3 185.6,325.4 188.9,325.5 192.2,325.5 195.7,325.5 199.2,325.5 202.7,325.4 206.0,325.3 209.3,325.2 212.9,325.0 216.7,324.8 220.6,324.5 224.5,324.2 228.4,323.8 232.3,323.4 236.3,323.0 240.4,322.5 244.5,321.9 248.7,321.3 253.0,320.7 257.3,320.0 261.8,319.2 266.5,318.4 271.1,317.5 275.7,316.7 280.2,315.7 284.7,314.8 289.4,313.8 294.0,312.8 298.7,311.7 303.3,310.7 307.8,309.6 312.3,308.5 317.0,307.3 321.7,306.1 326.4,304.9 331.4,303.6 336.5,302.2 341.6,300.9 346.5,299.5 351.4,298.2 356.3,296.9 361.4,295.5 366.6,294.1 371.9,292.6 377.2,291.2 382.5,289.7 387.8,288.3 393.1,286.8 398.3,285.4 403.5,283.9 408.7,282.5 413.8,281.1 418.9,279.8 424.2,278.3 429.6,276.9 434.9,275.5 440.2,274.2 445.5,272.8 450.8,271.4 456.7,270.2 462.6,269.2 468.5,268.3 M117.2,303.3 119.1,304.0 121.0,304.8 122.8,305.5 124.8,306.4 126.8,307.2 128.9,307.9 130.9,308.6 132.9,309.3 135.0,309.8 137.1,310.3 139.2,310.8 141.4,311.2 143.9,311.7 146.4,312.1 148.8,312.6 151.3,313.0 153.8,313.4 156.4,313.7 159.2,314.1 162.1,314.5 165.0,314.8 167.8,315.1 170.7,315.3 173.6,315.5 176.6,315.7 179.7,315.9 182.8,316.1 186.0,316.2 189.2,316.3 192.5,316.3 196.0,316.3 199.4,316.3 202.8,316.2 206.0,316.1 209.3,316.0 212.7,315.8 216.6,315.6 220.4,315.3 224.2,315.0 228.0,314.7 231.8,314.3 235.7,313.9 239.7,313.4 243.7,312.8 247.9,312.3 252.1,311.6 256.3,311.0 260.7,310.2 265.3,309.4 269.8,308.6 274.3,307.7 278.8,306.9 283.2,306.0 287.7,305.0 292.3,304.0 296.9,303.0 301.4,301.9 305.8,300.9 310.2,299.8 314.8,298.7 319.4,297.6 324.0,296.4 328.9,295.1 333.9,293.8 338.9,292.5 343.8,291.2 348.6,289.9 353.5,288.6 358.6,287.3 363.8,285.9 368.9,284.5 374.2,283.1 379.5,281.7 384.8,280.2 390.0,278.8 395.2,277.4 400.4,276.0 405.5,274.6 410.6,273.3 415.7,271.9 421.0,270.5 426.3,269.2 431.6,267.8 436.9,266.5 442.2,265.1 447.5,263.8 453.3,262.6 459.1,261.6 465.0,260.7 M118.9,294.2 120.8,294.9 122.7,295.7 124.5,296.4 126.5,297.3 128.5,298.1 130.4,298.9 132.4,299.6 134.4,300.2 136.4,300.8 138.5,301.3 140.6,301.7 142.8,302.2 145.2,302.6 147.6,303.1 150.1,303.5 152.5,303.9 154.9,304.3 157.4,304.7 160.3,305.0 163.1,305.4 165.9,305.7 168.7,306.0 171.5,306.2 174.3,306.5 177.3,306.7 180.3,306.9 183.3,307.0 186.5,307.1 189.6,307.2 192.8,307.3 196.2,307.3 199.6,307.3 202.8,307.2 206.0,307.1 209.2,307.0 212.6,306.9 216.4,306.7 220.1,306.4 223.8,306.1 227.6,305.8 231.3,305.4 235.1,305.0 239.1,304.6 243.0,304.1 247.0,303.5 251.2,302.9 255.3,302.3 259.6,301.6 264.1,300.8 268.6,300.0 273.0,299.2 277.3,298.3 281.7,297.5 286.1,296.6 290.6,295.6 295.1,294.6 299.5,293.6 303.9,292.6 308.2,291.6 312.7,290.5 317.2,289.4 321.8,288.2 326.6,287.0 331.5,285.8 336.4,284.5 341.2,283.2 346.0,282.0 350.8,280.8 355.9,279.5 361.0,278.1 366.2,276.8 371.4,275.4 376.7,274.0 381.9,272.6 387.1,271.3 392.3,269.9 397.4,268.5 402.5,267.2 407.6,265.9 412.7,264.6 418.0,263.2 423.3,261.9 428.6,260.5 433.8,259.2 439.1,257.9 444.3,256.6 450.1,255.5 455.9,254.5 461.7,253.6 M120.7,285.1 122.5,285.8 124.4,286.6 126.2,287.3 128.1,288.1 130.1,288.9 132.1,289.7 134.0,290.4 136.0,291.1 138.0,291.6 140.0,292.1 142.1,292.6 144.2,293.0 146.6,293.5 148.9,293.9 151.3,294.3 153.7,294.7 156.1,295.1 158.5,295.4 161.3,295.8 164.1,296.1 166.8,296.5 169.5,296.7 172.3,297.0 175.1,297.2 178.0,297.4 180.9,297.6 183.9,297.7 186.9,297.9 190.0,297.9 193.2,298.0 196.4,298.0 199.7,298.0 202.9,298.0 206.1,297.9 209.2,297.8 212.5,297.6 216.2,297.4 219.8,297.2 223.5,296.9 227.1,296.6 230.8,296.2 234.5,295.9 238.4,295.4 242.2,294.9 246.2,294.4 250.2,293.8 254.3,293.2 258.5,292.5 262.9,291.8 267.2,291.0 271.6,290.2 275.8,289.4 280.1,288.5 284.4,287.7 288.8,286.7 293.2,285.8 297.5,284.8 301.8,283.9 306.1,282.9 310.5,281.8 314.9,280.7 319.4,279.6 324.1,278.5 328.9,277.2 333.7,276.0 338.5,274.8 343.2,273.6 348.0,272.4 353.0,271.1 358.1,269.8 363.2,268.5 368.4,267.2 373.6,265.8 378.9,264.5 384.0,263.2 389.1,261.9 394.2,260.5 399.3,259.2 404.3,257.9 409.4,256.7 414.7,255.3 420.0,254.0 425.3,252.7 430.5,251.4 435.7,250.1 440.9,248.9 446.6,247.7 452.4,246.8 458.2,245.9 M122.4,276.0 124.2,276.7 126.1,277.5 127.9,278.2 129.8,279.0 131.7,279.8 133.7,280.6 135.6,281.3 137.5,281.9 139.5,282.5 141.5,283.0 143.5,283.4 145.6,283.9 147.9,284.3 150.2,284.7 152.6,285.1 154.9,285.5 157.2,285.9 159.6,286.2 162.3,286.6 165.0,286.9 167.7,287.2 170.4,287.5 173.1,287.7 175.8,288.0 178.6,288.2 181.5,288.3 184.4,288.5 187.4,288.6 190.4,288.7 193.5,288.8 196.7,288.8 199.9,288.8 203.0,288.7 206.1,288.7 209.2,288.6 212.4,288.4 216.0,288.2 219.6,288.0 223.1,287.7 226.7,287.4 230.3,287.1 234.0,286.7 237.7,286.3 241.5,285.8 245.3,285.3 249.3,284.8 253.3,284.2 257.4,283.5 261.7,282.8 265.9,282.1 270.2,281.3 274.3,280.5 278.5,279.7 282.8,278.8 287.1,278.0 291.4,277.0 295.6,276.1 299.8,275.2 304.0,274.2 308.3,273.2 312.6,272.2 317.0,271.1 321.6,270.0 326.3,268.8 331.0,267.6 335.7,266.4 340.5,265.3 345.2,264.1 350.2,262.9 355.2,261.6 360.3,260.3 365.4,259.1 370.7,257.8 375.9,256.5 380.9,255.2 386.0,253.9 391.1,252.6 396.1,251.3 401.1,250.1 406.2,248.8 411.4,247.5 416.7,246.3 422.0,245.0 427.2,243.7 432.3,242.5 437.5,241.2 443.2,240.1 449.0,239.2 454.7,238.3 M124.1,266.9 126.0,267.6 127.8,268.4 129.6,269.1 131.5,269.9 133.3,270.7 135.2,271.5 137.1,272.2 139.0,272.8 141.0,273.4 142.9,273.9 144.9,274.4 147.0,274.8 149.2,275.2 151.5,275.7 153.8,276.1 156.1,276.5 158.4,276.8 160.7,277.1 163.4,277.5 166.0,277.9 168.6,278.2 171.2,278.4 173.9,278.7 176.5,278.9 179.3,279.1 182.1,279.3 184.9,279.4 187.9,279.6 190.8,279.7 193.8,279.7 196.9,279.8 200.1,279.8 203.1,279.8 206.1,279.7 209.1,279.6 212.3,279.5 215.8,279.3 219.3,279.1 222.8,278.9 226.3,278.6 229.8,278.3 233.4,277.9 237.0,277.5 240.7,277.1 244.5,276.6 248.4,276.0 252.3,275.5 256.3,274.9 260.5,274.2 264.7,273.5 268.8,272.7 272.9,272.0 277.0,271.2 281.2,270.4 285.4,269.5 289.6,268.7 293.7,267.8 297.9,266.9 302.0,266.0 306.2,265.0 310.5,264.0 314.7,263.0 319.2,261.9 323.9,260.7 328.5,259.6 333.2,258.5 337.9,257.4 342.6,256.3 347.5,255.1 352.5,253.8 357.5,252.6 362.6,251.4 367.8,250.1 373.0,248.9 378.1,247.6 383.1,246.4 388.1,245.1 393.1,243.9 398.1,242.7 403.2,241.5 408.4,240.2 413.6,239.0 418.9,237.7 424.1,236.5 429.2,235.3 434.4,234.1 440.0,233.0 445.7,232.1 451.4,231.2 M125.9,257.8 127.7,258.5 129.5,259.2 131.3,260.0 133.1,260.8 135.0,261.6 136.9,262.4 138.7,263.1 140.6,263.7 142.5,264.3 144.4,264.8 146.4,265.2 148.4,265.6 150.6,266.1 152.8,266.5 155.1,266.9 157.3,267.2 159.5,267.6 161.8,267.9 164.4,268.3 167.0,268.6 169.6,268.9 172.1,269.2 174.7,269.4 177.3,269.6 180.0,269.8 182.7,270.0 185.5,270.2 188.3,270.3 191.2,270.4 194.1,270.5 197.2,270.5 200.2,270.5 203.2,270.5 206.2,270.4 209.1,270.3 212.2,270.2 215.6,270.1 219.0,269.9 222.4,269.6 225.9,269.4 229.3,269.1 232.8,268.7 236.4,268.3 239.9,267.9 243.6,267.4 247.4,266.9 251.2,266.4 255.2,265.8 259.3,265.1 263.3,264.4 267.4,263.7 271.4,263.0 275.4,262.3 279.5,261.5 283.6,260.7 287.7,259.8 291.8,259.0 295.8,258.1 299.8,257.3 304.0,256.3 308.2,255.4 312.3,254.4 316.7,253.3 321.3,252.2 325.8,251.1 330.4,250.0 335.1,249.0 339.8,247.9 344.7,246.7 349.6,245.6 354.5,244.4 359.6,243.2 364.8,242.0 370.0,240.7 375.0,239.5 379.9,238.3 384.9,237.1 389.9,235.9 394.9,234.7 399.9,233.6 405.1,232.3 410.3,231.1 415.6,229.9 420.7,228.7 425.8,227.5 431.0,226.3 436.6,225.3 442.2,224.4 447.9,223.5 M127.8,247.9 129.5,248.6 131.3,249.4 133.1,250.1 134.9,250.9 136.7,251.8 138.6,252.6 140.4,253.3 142.2,253.9 144.1,254.5 146.0,255.0 147.9,255.5 149.9,255.9 152.0,256.4 154.2,256.8 156.4,257.2 158.6,257.6 160.7,257.9 163.0,258.2 165.5,258.6 168.0,259.0 170.5,259.3 173.0,259.5 175.5,259.8 178.0,260.0 180.7,260.3 183.3,260.4 186.0,260.6 188.8,260.8 191.6,260.9 194.4,261.0 197.4,261.0 200.4,261.1 203.3,261.1 206.2,261.0 209.1,261.0 212.1,260.9 215.4,260.7 218.7,260.6 222.1,260.4 225.4,260.1 228.8,259.9 232.2,259.6 235.7,259.2 239.2,258.8 242.8,258.4 246.5,257.9 250.2,257.4 254.1,256.9 258.1,256.2 262.0,255.6 266.0,254.9 269.9,254.3 273.9,253.6 277.8,252.8 281.9,252.1 285.9,251.3 289.9,250.5 293.8,249.7 297.8,248.8 301.8,248.0 305.9,247.1 310.0,246.1 314.4,245.1 318.8,244.1 323.2,243.0 327.8,242.0 332.5,241.0 337.1,239.9 342.0,238.8 346.9,237.7 351.7,236.6 356.8,235.5 362.0,234.3 367.1,233.1 372.1,232.0 377.0,230.8 381.9,229.7 386.9,228.5 391.9,227.4 396.9,226.2 402.1,225.1 407.3,223.9 412.5,222.7 417.6,221.6 422.7,220.4 427.8,219.3 433.4,218.2 439.1,217.3 444.7,216.5 M129.5,238.8 131.3,239.5 133.0,240.2 134.8,241.0 136.6,241.8 138.4,242.6 140.2,243.4 142.0,244.1 143.8,244.8 145.6,245.3 147.5,245.9 149.3,246.3 151.3,246.7 153.4,247.2 155.5,247.6 157.6,248.0 159.8,248.3 161.9,248.7 164.1,249.0 166.5,249.4 169.0,249.7 171.4,250.0 173.9,250.3 176.3,250.5 178.8,250.8 181.3,251.0 183.9,251.2 186.6,251.3 189.3,251.5 192.0,251.6 194.7,251.7 197.7,251.7 200.6,251.8 203.4,251.8 206.2,251.8 209.0,251.7 212.0,251.6 215.2,251.5 218.5,251.3 221.7,251.2 225.0,250.9 228.2,250.7 231.6,250.4 235.0,250.0 238.4,249.7 241.9,249.3 245.6,248.8 249.2,248.3 253.0,247.8 256.8,247.2 260.7,246.6 264.6,246.0 268.4,245.3 272.3,244.6 276.2,243.9 280.1,243.2 284.0,242.5 287.9,241.7 291.8,240.9 295.7,240.1 299.6,239.3 303.6,238.4 307.6,237.5 311.9,236.5 316.2,235.5 320.5,234.5 325.1,233.5 329.7,232.6 334.3,231.6 339.1,230.5 343.9,229.4 348.8,228.3 353.8,227.2 358.9,226.1 364.0,225.0 369.0,223.9 373.8,222.8 378.7,221.6 383.7,220.5 388.6,219.4 393.6,218.3 398.8,217.2 404.0,216.0 409.2,214.9 414.3,213.8 419.4,212.6 424.4,211.5 430.0,210.5 435.6,209.6 441.2,208.8 M131.4,228.9 133.1,229.6 134.9,230.4 136.6,231.1 138.4,232.0 140.1,232.8 141.9,233.6 143.6,234.3 145.4,235.0 147.2,235.6 149.0,236.1 150.9,236.6 152.8,237.0 154.8,237.5 156.9,237.9 159.0,238.3 161.0,238.7 163.1,239.0 165.2,239.3 167.6,239.7 170.0,240.1 172.4,240.4 174.8,240.7 177.1,240.9 179.5,241.2 182.0,241.4 184.6,241.6 187.1,241.8 189.7,241.9 192.4,242.1 195.1,242.2 197.9,242.3 200.7,242.3 203.5,242.4 206.3,242.4 209.0,242.3 211.9,242.3 215.1,242.2 218.2,242.0 221.4,241.9 224.5,241.7 227.7,241.5 231.0,241.2 234.3,240.9 237.6,240.6 241.1,240.2 244.6,239.8 248.2,239.4 251.9,238.9 255.6,238.3 259.4,237.7 263.2,237.1 267.0,236.5 270.7,235.9 274.5,235.3 278.4,234.6 282.2,233.9 286.0,233.2 289.8,232.5 293.6,231.7 297.5,230.9 301.4,230.1 305.3,229.3 309.5,228.3 313.7,227.4 317.9,226.4 322.4,225.5 327.0,224.6 331.6,223.6 336.4,222.6 341.2,221.6 346.0,220.6 351.0,219.5 356.1,218.5 361.2,217.4 366.1,216.3 370.9,215.3 375.8,214.2 380.7,213.1 385.6,212.1 390.6,211.0 395.8,209.9 401.0,208.8 406.2,207.7 411.2,206.6 416.3,205.5 421.3,204.4 426.8,203.4 432.4,202.6 438.0,201.8 M133.1,219.8 134.9,220.5 136.6,221.2 138.3,222.0 140.0,222.8 141.8,223.7 143.5,224.5 145.2,225.2 147.0,225.8 148.7,226.4 150.5,226.9 152.3,227.4 154.2,227.9 156.2,228.3 158.2,228.7 160.2,229.1 162.2,229.4 164.2,229.8 166.3,230.1 168.7,230.5 171.0,230.8 173.3,231.1 175.6,231.4 177.9,231.6 180.3,231.9 182.7,232.1 185.2,232.3 187.6,232.5 190.2,232.7 192.8,232.8 195.4,232.9 198.1,233.0 200.9,233.1 203.6,233.1 206.3,233.1 209.0,233.1 211.8,233.0 214.9,232.9 217.9,232.8 221.0,232.7 224.1,232.5 227.2,232.3 230.4,232.0 233.6,231.8 236.9,231.4 240.2,231.1 243.7,230.7 247.2,230.3 250.7,229.8 254.4,229.3 258.1,228.7 261.8,228.2 265.5,227.6 269.1,227.0 272.8,226.4 276.6,225.7 280.3,225.1 284.0,224.4 287.8,223.7 291.5,223.0 295.3,222.2 299.1,221.4 302.9,220.6 307.0,219.8 311.1,218.9 315.2,218.0 319.7,217.1 324.3,216.2 328.8,215.3 333.5,214.3 338.3,213.3 343.0,212.3 348.0,211.3 353.1,210.3 358.1,209.3 363.0,208.2 367.8,207.2 372.6,206.2 377.5,205.1 382.4,204.1 387.3,203.1 392.5,202.0 397.7,200.9 402.8,199.8 407.9,198.8 412.9,197.7 417.9,196.7 423.4,195.7 428.9,194.9 434.4,194.1 M134.7,211.5 136.4,212.2 138.2,212.9 139.9,213.5 141.6,214.4 143.3,215.2 145.0,215.9 146.7,216.6 148.4,217.2 150.2,217.7 151.9,218.2 153.7,218.6 155.5,219.0 157.5,219.4 159.5,219.8 161.4,220.1 163.4,220.4 165.4,220.7 167.4,221.0 169.7,221.3 172.0,221.6 174.3,221.9 176.5,222.1 178.7,222.3 181.0,222.5 183.4,222.7 185.8,222.9 188.2,223.0 190.7,223.1 193.2,223.2 195.7,223.3 198.4,223.4 201.1,223.4 203.7,223.4 206.3,223.4 208.9,223.3 211.7,223.2 214.7,223.1 217.6,223.0 220.6,222.8 223.6,222.6 226.6,222.4 229.7,222.1 232.9,221.8 236.0,221.5 239.3,221.1 242.7,220.7 246.0,220.3 249.5,219.8 253.1,219.3 256.6,218.7 260.2,218.2 263.8,217.6 267.3,217.0 271.0,216.4 274.6,215.7 278.2,215.1 281.8,214.4 285.4,213.7 289.0,213.0 292.7,212.3 296.5,211.5 300.2,210.7 304.1,209.9 308.1,209.0 312.1,208.1 316.5,207.2 321.0,206.3 325.5,205.4 330.2,204.5 334.8,203.5 339.5,202.5 344.5,201.6 349.5,200.6 354.5,199.5 359.3,198.5 364.0,197.5 368.7,196.5 373.6,195.5 378.5,194.5 383.4,193.4 388.5,192.4 393.6,191.3 398.8,190.2 403.8,189.2 408.7,188.1 413.7,187.1 419.1,186.2 424.6,185.3 430.0,184.5 M136.6,201.6 138.3,202.3 140.0,202.9 141.8,203.6 143.4,204.4 145.1,205.2 146.7,206.0 148.4,206.6 150.1,207.2 151.8,207.8 153.5,208.2 155.3,208.7 157.0,209.1 158.9,209.4 160.9,209.8 162.8,210.1 164.7,210.4 166.6,210.7 168.6,211.0 170.8,211.3 173.0,211.5 175.3,211.8 177.4,212.0 179.6,212.2 181.8,212.4 184.1,212.6 186.4,212.8 188.8,212.9 191.2,213.0 193.6,213.1 196.1,213.2 198.7,213.3 201.3,213.3 203.8,213.3 206.4,213.3 208.9,213.2 211.6,213.1 214.5,213.0 217.3,212.9 220.2,212.8 223.2,212.6 226.1,212.4 229.1,212.1 232.1,211.8 235.2,211.5 238.4,211.2 241.6,210.8 244.9,210.4 248.3,209.9 251.7,209.4 255.2,208.9 258.7,208.4 262.1,207.8 265.6,207.3 269.1,206.7 272.6,206.1 276.1,205.5 279.7,204.8 283.2,204.2 286.7,203.5 290.3,202.8 293.9,202.1 297.6,201.3 301.4,200.5 305.3,199.7 309.2,198.8 313.5,198.0 318.0,197.1 322.5,196.3 327.1,195.4 331.7,194.5 336.3,193.6 341.2,192.6 346.2,191.6 351.2,190.7 355.9,189.7 360.6,188.7 365.2,187.8 370.1,186.8 374.9,185.8 379.8,184.8 384.9,183.8 390.0,182.7 395.2,181.7 400.1,180.7 405.0,179.7 410.0,178.7 415.3,177.7 420.7,176.9 426.2,176.1 M138.0,194.0 139.7,194.6 141.5,195.3 143.2,195.9 144.8,196.7 146.5,197.5 148.1,198.2 149.8,198.8 151.4,199.4 153.1,199.9 154.8,200.3 156.5,200.7 158.3,201.1 160.1,201.4 162.0,201.8 163.9,202.0 165.8,202.3 167.6,202.5 169.6,202.8 171.7,203.0 173.9,203.3 176.1,203.5 178.2,203.7 180.3,203.9 182.5,204.0 184.7,204.2 187.0,204.3 189.3,204.4 191.6,204.5 194.0,204.6 196.4,204.7 198.9,204.7 201.4,204.7 203.9,204.7 206.4,204.7 208.9,204.6 211.5,204.5 214.3,204.4 217.1,204.2 219.9,204.1 222.8,203.9 225.6,203.7 228.5,203.4 231.5,203.1 234.4,202.8 237.5,202.4 240.7,202.0 243.9,201.6 247.2,201.2 250.6,200.7 253.9,200.2 257.3,199.6 260.7,199.1 264.1,198.5 267.5,198.0 270.9,197.4 274.3,196.8 277.7,196.1 281.2,195.5 284.6,194.9 288.1,194.2 291.6,193.4 295.2,192.7 298.9,191.9 302.7,191.1 306.4,190.3 310.7,189.4 315.2,188.6 319.6,187.8 324.1,186.9 328.7,186.0 333.2,185.1 338.1,184.2 343.1,183.2 348.0,182.3 352.7,181.4 357.3,180.4 361.9,179.5 366.7,178.5 371.6,177.5 376.4,176.5 381.5,175.5 386.6,174.5 391.7,173.5 396.6,172.5 401.5,171.5 406.4,170.5 411.7,169.5 417.0,168.7 422.4,167.9 M139.3,187.0 141.1,187.6 142.8,188.2 144.5,188.8 146.1,189.6 147.7,190.3 149.4,191.0 151.0,191.6 152.6,192.2 154.3,192.6 156.0,193.0 157.7,193.4 159.4,193.7 161.2,194.0 163.1,194.3 164.9,194.6 166.7,194.8 168.6,195.0 170.5,195.2 172.6,195.5 174.7,195.7 176.8,195.9 178.9,196.0 181.0,196.2 183.1,196.3 185.3,196.4 187.5,196.5 189.7,196.6 192.0,196.7 194.3,196.7 196.6,196.8 199.1,196.8 201.6,196.8 204.0,196.8 206.4,196.7 208.8,196.6 211.4,196.5 214.1,196.4 216.8,196.2 219.6,196.0 222.4,195.8 225.1,195.6 228.0,195.3 230.9,195.0 233.8,194.7 236.8,194.3 239.9,193.9 243.0,193.5 246.2,193.1 249.5,192.6 252.7,192.1 256.0,191.5 259.3,191.0 262.6,190.5 265.9,189.9 269.3,189.3 272.6,188.7 275.9,188.1 279.3,187.5 282.7,186.8 286.1,186.2 289.5,185.5 292.9,184.7 296.6,183.9 300.2,183.1 303.9,182.3 308.2,181.5 312.6,180.7 317.0,179.9 321.4,179.1 325.9,178.2 330.4,177.3 335.3,176.4 340.2,175.5 345.1,174.5 349.7,173.6 354.3,172.7 358.8,171.8 363.6,170.8 368.4,169.8 373.2,168.9 378.3,167.9 383.4,166.9 388.4,165.9 393.3,164.9 398.2,163.9 403.0,162.9 408.3,162.0 413.6,161.1 418.9,160.3 M140.7,180.0 142.4,180.6 144.1,181.1 145.8,181.7 147.4,182.4 149.0,183.1 150.6,183.8 152.2,184.3 153.9,184.9 155.5,185.3 157.2,185.7 158.8,186.0 160.5,186.3 162.3,186.6 164.1,186.8 165.9,187.0 167.7,187.2 169.5,187.4 171.4,187.5 173.5,187.7 175.6,187.9 177.6,188.1 179.6,188.2 181.7,188.3 183.7,188.4 185.9,188.5 188.0,188.5 190.2,188.6 192.4,188.6 194.6,188.6 196.9,188.6 199.3,188.6 201.7,188.6 204.1,188.5 206.4,188.4 208.8,188.3 211.3,188.2 213.9,188.0 216.6,187.9 219.3,187.7 222.0,187.5 224.7,187.2 227.4,186.9 230.2,186.6 233.0,186.2 236.0,185.9 239.0,185.5 242.0,185.0 245.1,184.6 248.3,184.1 251.5,183.6 254.7,183.0 257.9,182.5 261.1,182.0 264.3,181.4 267.6,180.8 270.8,180.2 274.0,179.6 277.3,179.0 280.6,178.4 283.9,177.7 287.2,177.0 290.6,176.3 294.1,175.5 297.7,174.7 301.3,173.9 305.4,173.1 309.8,172.3 314.1,171.5 318.6,170.7 323.0,169.8 327.4,169.0 332.2,168.1 337.1,167.2 342.0,166.3 346.6,165.3 351.1,164.4 355.6,163.5 360.3,162.6 365.1,161.6 369.9,160.7 374.9,159.7 379.9,158.7 385.0,157.7 389.8,156.7 394.6,155.7 399.4,154.7 404.6,153.8 409.9,152.9 415.1,152.1 M142.0,173.0 143.7,173.5 145.4,174.1 147.1,174.6 148.7,175.3 150.3,176.0 151.9,176.6 153.5,177.1 155.1,177.6 156.7,178.0 158.3,178.4 160.0,178.7 161.6,178.9 163.4,179.2 165.2,179.4 167.0,179.6 168.7,179.7 170.5,179.8 172.3,180.0 174.3,180.1 176.4,180.3 178.4,180.4 180.4,180.5 182.3,180.6 184.3,180.6 186.4,180.7 188.5,180.8 190.7,180.8 192.8,180.8 195.0,180.8 197.2,180.8 199.5,180.7 201.8,180.7 204.2,180.6 206.5,180.5 208.8,180.3 211.2,180.2 213.8,180.0 216.4,179.8 219.0,179.6 221.6,179.4 224.2,179.1 226.9,178.9 229.6,178.5 232.4,178.2 235.2,177.8 238.2,177.4 241.1,176.9 244.1,176.5 247.2,176.0 250.3,175.5 253.4,174.9 256.5,174.4 259.7,173.9 262.8,173.3 265.9,172.8 269.1,172.2 272.2,171.6 275.4,171.0 278.6,170.3 281.9,169.7 285.1,169.0 288.4,168.3 291.8,167.5 295.3,166.8 298.7,166.0 302.9,165.2 307.2,164.4 311.5,163.7 315.9,162.8 320.3,162.0 324.6,161.1 329.4,160.3 334.2,159.4 339.1,158.5 343.6,157.6 348.0,156.7 352.5,155.8 357.2,154.9 362.0,153.9 366.7,153.0 371.7,152.0 376.7,151.0 381.7,150.0 386.5,149.1 391.3,148.1 396.1,147.1 401.3,146.2 406.4,145.3 411.6,144.5 M143.2,166.5 145.0,167.0 146.7,167.5 148.4,168.0 149.9,168.6 151.5,169.2 153.1,169.8 154.7,170.3 156.2,170.8 157.9,171.1 159.5,171.4 161.1,171.7 162.7,171.9 164.5,172.1 166.2,172.3 167.9,172.4 169.7,172.5 171.4,172.6 173.1,172.6 175.1,172.8 177.1,172.9 179.1,173.0 181.1,173.0 183.0,173.0 184.9,173.1 187.0,173.1 189.0,173.1 191.1,173.1 193.2,173.0 195.3,173.0 197.4,172.9 199.7,172.9 202.0,172.8 204.3,172.7 206.5,172.5 208.7,172.4 211.1,172.2 213.6,172.0 216.1,171.8 218.6,171.5 221.2,171.3 223.8,171.0 226.4,170.7 229.0,170.3 231.7,169.9 234.4,169.5 237.3,169.1 240.2,168.7 243.1,168.2 246.1,167.7 249.1,167.2 252.1,166.6 255.1,166.1 258.2,165.5 261.2,165.0 264.3,164.4 267.3,163.8 270.4,163.2 273.5,162.6 276.6,162.0 279.7,161.3 282.9,160.7 286.0,160.0 289.4,159.2 292.7,158.5 296.1,157.7 300.2,156.9 304.4,156.2 308.7,155.4 313.0,154.6 317.4,153.7 321.7,152.9 326.4,152.0 331.2,151.2 336.0,150.3 340.5,149.4 344.8,148.5 349.2,147.6 353.9,146.7 358.6,145.8 363.3,144.8 368.3,143.8 373.3,142.9 378.3,141.9 383.0,140.9 387.8,139.9 392.5,139.0 397.6,138.0 402.7,137.1 407.9,136.3 M144.5,160.0 146.2,160.4 147.9,160.9 149.6,161.3 151.1,162.0 152.7,162.6 154.3,163.1 155.8,163.6 157.4,164.0 159.0,164.3 160.6,164.6 162.2,164.8 163.8,165.0 165.5,165.1 167.2,165.3 168.9,165.4 170.6,165.4 172.3,165.5 174.0,165.5 176.0,165.6 177.9,165.7 179.9,165.7 181.7,165.7 183.6,165.7 185.5,165.7 187.5,165.7 189.5,165.7 191.5,165.6 193.6,165.6 195.6,165.5 197.7,165.4 199.9,165.3 202.1,165.2 204.3,165.0 206.5,164.9 208.7,164.7 211.0,164.5 213.5,164.2 215.9,164.0 218.3,163.8 220.8,163.5 223.3,163.2 225.8,162.9 228.4,162.5 231.0,162.1 233.7,161.7 236.5,161.3 239.3,160.8 242.1,160.3 245.0,159.8 247.9,159.3 250.8,158.7 253.8,158.2 256.8,157.7 259.8,157.1 262.7,156.5 265.6,156.0 268.6,155.4 271.7,154.8 274.7,154.1 277.7,153.5 280.8,152.8 283.8,152.1 287.1,151.4 290.4,150.6 293.6,149.9 297.6,149.1 301.9,148.4 306.1,147.6 310.4,146.8 314.6,146.0 318.9,145.2 323.6,144.3 328.3,143.5 333.1,142.6 337.5,141.7 341.9,140.9 346.2,140.0 350.8,139.1 355.5,138.1 360.2,137.2 365.1,136.2 370.1,135.2 375.0,134.3 379.8,133.3 384.5,132.3 389.1,131.4 394.2,130.5 399.3,129.6 404.4,128.7 M145.6,154.1 147.3,154.5 149.0,154.9 150.7,155.3 152.3,155.8 153.8,156.4 155.4,156.9 156.9,157.3 158.5,157.7 160.1,158.0 161.6,158.2 163.2,158.3 164.8,158.5 166.5,158.5 168.1,158.6 169.8,158.7 171.5,158.7 173.1,158.6 174.8,158.6 176.7,158.7 178.7,158.7 180.6,158.7 182.4,158.6 184.2,158.6 186.1,158.5 188.0,158.4 190.0,158.4 192.0,158.3 193.9,158.2 195.9,158.0 197.9,157.9 200.1,157.8 202.3,157.6 204.4,157.4 206.6,157.2 208.7,157.0 210.9,156.7 213.3,156.5 215.7,156.2 218.0,155.9 220.5,155.6 222.9,155.3 225.3,154.9 227.8,154.5 230.3,154.1 232.9,153.7 235.7,153.2 238.4,152.7 241.1,152.2 243.9,151.7 246.7,151.1 249.5,150.6 252.4,150.0 255.3,149.5 258.2,148.9 261.0,148.3 263.9,147.7 266.8,147.1 269.7,146.5 272.7,145.9 275.6,145.2 278.6,144.6 281.6,143.9 284.7,143.1 287.8,142.4 291.0,141.6 294.9,140.9 299.1,140.1 303.3,139.3 307.5,138.5 311.7,137.7 315.9,136.9 320.6,136.1 325.3,135.2 330.0,134.4 334.4,133.5 338.6,132.6 342.9,131.8 347.5,130.8 352.2,129.9 356.8,129.0 361.7,128.0 366.6,127.0 371.6,126.0 376.2,125.1 380.9,124.1 385.5,123.1 390.5,122.2 395.6,121.3 400.6,120.4 M146.7,148.2 148.4,148.5 150.1,148.9 151.9,149.2 153.4,149.8 154.9,150.3 156.4,150.7 158.0,151.1 159.5,151.4 161.1,151.7 162.6,151.8 164.2,152.0 165.8,152.0 167.4,152.1 169.1,152.1 170.7,152.1 172.3,152.1 173.9,152.0 175.6,151.9 177.5,151.9 179.4,151.9 181.2,151.9 183.0,151.8 184.8,151.7 186.6,151.6 188.6,151.5 190.5,151.4 192.4,151.2 194.3,151.1 196.2,150.9 198.2,150.7 200.3,150.6 202.4,150.4 204.5,150.2 206.6,149.9 208.7,149.7 210.8,149.4 213.1,149.1 215.4,148.8 217.8,148.5 220.1,148.2 222.5,147.8 224.8,147.4 227.3,147.0 229.7,146.5 232.2,146.1 234.9,145.6 237.5,145.1 240.2,144.6 242.9,144.1 245.6,143.5 248.3,142.9 251.2,142.4 254.0,141.8 256.8,141.2 259.5,140.6 262.2,140.1 265.1,139.5 267.9,138.8 270.8,138.2 273.7,137.6 276.5,136.9 279.4,136.2 282.4,135.4 285.5,134.7 288.6,134.0 292.4,133.2 296.6,132.5 300.8,131.7 304.9,130.9 309.1,130.1 313.2,129.3 317.8,128.5 322.5,127.6 327.2,126.7 331.5,125.9 335.7,125.0 339.9,124.2 344.4,123.3 349.1,122.3 353.7,121.4 358.6,120.4 363.5,119.4 368.4,118.5 373.0,117.5 377.6,116.5 382.2,115.6 387.1,114.6 392.1,113.7 397.1,112.8 M147.8,142.3 149.6,142.6 151.3,142.9 153.0,143.2 154.5,143.7 156.0,144.2 157.5,144.6 159.0,144.9 160.6,145.2 162.1,145.4 163.6,145.5 165.2,145.6 166.7,145.6 168.4,145.6 170.0,145.6 171.6,145.6 173.2,145.5 174.8,145.4 176.4,145.3 178.2,145.2 180.1,145.1 181.9,145.1 183.7,144.9 185.4,144.8 187.2,144.6 189.1,144.5 190.9,144.3 192.8,144.2 194.6,144.0 196.5,143.8 198.4,143.6 200.5,143.4 202.5,143.1 204.6,142.9 206.6,142.6 208.6,142.3 210.7,142.0 213.0,141.7 215.2,141.4 217.5,141.0 219.8,140.7 222.0,140.3 224.3,139.9 226.7,139.5 229.1,139.0 231.5,138.5 234.1,138.0 236.7,137.5 239.3,137.0 241.9,136.4 244.5,135.8 247.1,135.3 249.9,134.7 252.6,134.1 255.3,133.6 258.0,133.0 260.6,132.4 263.4,131.8 266.1,131.2 268.9,130.5 271.7,129.9 274.5,129.2 277.3,128.5 280.2,127.8 283.2,127.0 286.1,126.3 290.0,125.6 294.1,124.8 298.2,124.0 302.3,123.2 306.4,122.5 310.5,121.7 315.0,120.8 319.7,120.0 324.3,119.1 328.6,118.3 332.7,117.5 336.9,116.6 341.4,115.7 346.0,114.8 350.6,113.8 355.4,112.9 360.3,111.9 365.1,110.9 369.7,109.9 374.3,109.0 378.9,108.0 383.8,107.1 388.7,106.1 393.6,105.2 M148.8,137.1 150.6,137.3 152.3,137.6 154.0,137.8 155.5,138.3 157.0,138.7 158.5,139.0 160.0,139.3 161.5,139.5 163.1,139.7 164.6,139.7 166.1,139.7 167.6,139.7 169.2,139.7 170.8,139.6 172.4,139.5 174.0,139.3 175.5,139.1 177.1,139.0 179.0,138.9 180.8,138.7 182.6,138.6 184.3,138.4 186.0,138.2 187.7,138.0 189.5,137.8 191.4,137.6 193.2,137.4 195.0,137.1 196.8,136.9 198.7,136.6 200.7,136.3 202.7,136.1 204.6,135.8 206.6,135.4 208.6,135.1 210.7,134.7 212.8,134.4 215.0,134.0 217.2,133.6 219.4,133.3 221.6,132.8 223.9,132.4 226.1,131.9 228.4,131.4 230.8,130.9 233.3,130.4 235.8,129.8 238.3,129.3 240.8,128.7 243.3,128.1 245.9,127.5 248.6,126.9 251.2,126.3 253.8,125.7 256.4,125.1 258.9,124.5 261.6,123.9 264.3,123.2 267.0,122.6 269.7,121.9 272.4,121.2 275.0,120.5 277.9,119.8 280.7,119.0 283.6,118.3 287.4,117.5 291.4,116.8 295.5,116.0 299.5,115.2 303.6,114.4 307.6,113.6 312.1,112.8 316.7,111.9 321.3,111.1 325.5,110.3 329.6,109.4 333.6,108.5 338.1,107.6 342.7,106.7 347.2,105.7 352.0,104.8 356.9,103.8 361.7,102.8 366.2,101.8 370.8,100.9 375.3,99.9 380.1,98.9 385.0,97.9 389.8,97.0 M150.0,131.2 151.7,131.4 153.4,131.6 155.1,131.7 156.6,132.1 158.1,132.4 159.6,132.8 161.1,133.0 162.6,133.1 164.1,133.2 165.6,133.2 167.1,133.2 168.7,133.1 170.2,133.0 171.8,132.8 173.4,132.7 174.9,132.4 176.4,132.2 178.0,132.0 179.8,131.8 181.5,131.6 183.3,131.4 185.0,131.2 186.6,130.9 188.3,130.6 190.1,130.4 191.8,130.1 193.6,129.8 195.4,129.5 197.1,129.2 198.9,128.9 200.9,128.6 202.8,128.3 204.7,127.9 206.7,127.6 208.6,127.2 210.6,126.8 212.7,126.4 214.8,125.9 216.9,125.5 219.0,125.1 221.2,124.6 223.3,124.1 225.5,123.6 227.7,123.1 230.0,122.5 232.4,122.0 234.8,121.4 237.3,120.8 239.7,120.2 242.1,119.6 244.6,119.0 247.1,118.3 249.7,117.7 252.2,117.1 254.7,116.5 257.1,115.9 259.7,115.3 262.3,114.6 264.9,113.9 267.5,113.3 270.1,112.6 272.6,111.8 275.3,111.1 278.1,110.4 280.9,109.6 284.5,108.9 288.6,108.1 292.6,107.3 296.6,106.5 300.5,105.7 304.4,104.9 308.9,104.1 313.5,103.3 318.0,102.4 322.2,101.6 326.2,100.7 330.2,99.9 334.6,98.9 339.1,98.0 343.7,97.1 348.4,96.1 353.2,95.1 358.0,94.1 362.5,93.1 367.0,92.1 371.4,91.2 376.2,90.2 381.0,89.2 385.8,88.2 M151.0,125.9 152.7,126.0 154.4,126.1 156.1,126.2 157.6,126.5 159.1,126.8 160.6,127.0 162.1,127.2 163.6,127.3 165.1,127.3 166.6,127.2 168.1,127.1 169.6,127.0 171.1,126.8 172.7,126.6 174.2,126.3 175.7,126.1 177.2,125.7 178.8,125.4 180.5,125.2 182.2,125.0 184.0,124.7 185.6,124.4 187.2,124.0 188.9,123.7 190.6,123.4 192.3,123.0 194.0,122.7 195.7,122.3 197.4,122.0 199.2,121.6 201.1,121.2 202.9,120.9 204.8,120.4 206.7,120.0 208.5,119.6 210.5,119.1 212.5,118.7 214.5,118.2 216.6,117.7 218.6,117.3 220.7,116.8 222.8,116.2 224.9,115.7 227.0,115.1 229.3,114.5 231.6,113.9 233.9,113.3 236.2,112.7 238.6,112.0 240.9,111.4 243.3,110.7 245.7,110.0 248.2,109.4 250.6,108.8 253.0,108.1 255.3,107.5 257.8,106.8 260.3,106.2 262.8,105.5 265.3,104.8 267.8,104.1 270.3,103.3 272.9,102.6 275.5,101.8 278.1,101.1 281.8,100.3 285.7,99.5 289.7,98.7 293.6,98.0 297.5,97.2 301.4,96.4 305.8,95.5 310.3,94.7 314.8,93.8 318.9,93.0 322.8,92.1 326.8,91.2 331.2,90.3 335.6,89.4 340.1,88.4 344.8,87.4 349.6,86.4 354.3,85.4 358.8,84.4 363.2,83.4 367.6,82.4 372.3,81.4 377.0,80.4 381.8,79.4 M152.0,120.7 153.7,120.7 155.4,120.8 157.1,120.8 158.6,121.1 160.1,121.3 161.6,121.4 163.0,121.5 164.6,121.5 166.1,121.5 167.5,121.4 169.0,121.2 170.5,121.0 172.0,120.7 173.5,120.4 175.1,120.1 176.5,119.7 178.0,119.4 179.5,119.0 181.2,118.7 182.9,118.4 184.6,118.0 186.2,117.6 187.8,117.2 189.4,116.8 191.1,116.4 192.8,116.1 194.4,115.6 196.1,115.2 197.7,114.8 199.4,114.4 201.3,113.9 203.1,113.5 204.9,113.0 206.7,112.5 208.5,112.0 210.4,111.5 212.4,111.0 214.3,110.5 216.3,110.0 218.3,109.5 220.3,108.9 222.3,108.3 224.3,107.7 226.4,107.1 228.5,106.5 230.8,105.8 233.0,105.2 235.2,104.5 237.5,103.8 239.6,103.2 242.0,102.5 244.4,101.8 246.7,101.1 249.0,100.5 251.3,99.8 253.6,99.1 255.9,98.5 258.3,97.8 260.7,97.1 263.1,96.4 265.5,95.6 267.9,94.9 270.4,94.1 272.9,93.4 275.4,92.6 279.0,91.8 282.9,91.0 286.8,90.2 290.7,89.4 294.5,88.6 298.3,87.8 302.6,87.0 307.1,86.1 311.6,85.2 315.6,84.4 319.5,83.5 323.3,82.6 327.7,81.7 332.1,80.7 336.5,79.8 341.2,78.8 345.9,77.7 350.7,76.7 355.0,75.7 359.4,74.7 363.7,73.7 368.4,72.7 373.1,71.6 377.7,70.6 M152.8,116.0 154.6,116.0 156.3,115.9 158.0,115.9 159.5,116.0 161.0,116.2 162.5,116.3 163.9,116.3 165.4,116.2 167.0,116.1 168.4,115.9 169.9,115.7 171.4,115.4 172.9,115.0 174.4,114.7 175.9,114.3 177.3,113.8 178.8,113.4 180.2,112.9 181.9,112.6 183.6,112.2 185.2,111.7 186.8,111.3 188.4,110.8 189.9,110.3 191.6,109.9 193.2,109.4 194.8,108.9 196.4,108.4 198.0,107.9 199.7,107.4 201.4,107.0 203.2,106.4 205.0,105.9 206.7,105.4 208.5,104.8 210.3,104.2 212.2,103.7 214.1,103.1 216.0,102.5 217.9,102.0 219.8,101.3 221.8,100.7 223.8,100.0 225.7,99.4 227.8,98.7 230.0,98.0 232.1,97.3 234.3,96.6 236.4,95.9 238.5,95.2 240.7,94.4 243.0,93.7 245.3,93.0 247.5,92.3 249.7,91.6 251.8,91.0 254.1,90.3 256.4,89.5 258.7,88.8 261.0,88.1 263.3,87.3 265.6,86.5 268.0,85.8 270.4,85.0 272.8,84.2 276.3,83.4 280.1,82.6 284.0,81.8 287.8,80.9 291.5,80.1 295.2,79.3 299.5,78.5 304.0,77.6 308.4,76.7 312.3,75.8 316.1,75.0 319.9,74.1 324.2,73.1 328.6,72.2 333.0,71.2 337.6,70.1 342.3,69.1 347.0,68.1 351.3,67.1 355.6,66.0 359.9,65.0 364.5,64.0 369.1,62.9 373.7,61.8 M153.7,111.3 155.5,111.2 157.2,111.1 159.0,111.0 160.4,111.0 161.9,111.1 163.4,111.1 164.8,111.1 166.3,110.9 167.9,110.7 169.3,110.5 170.8,110.1 172.2,109.8 173.7,109.4 175.2,108.9 176.6,108.5 178.1,107.9 179.5,107.4 181.0,106.9 182.6,106.4 184.3,106.0 185.9,105.5 187.4,104.9 188.9,104.4 190.4,103.8 192.0,103.3 193.6,102.8 195.2,102.2 196.8,101.7 198.3,101.1 199.9,100.5 201.6,100.0 203.3,99.4 205.0,98.8 206.7,98.2 208.5,97.6 210.2,96.9 212.1,96.3 213.9,95.7 215.7,95.1 217.6,94.4 219.4,93.8 221.3,93.1 223.2,92.4 225.1,91.6 227.0,90.9 229.1,90.2 231.2,89.4 233.3,88.7 235.3,87.9 237.3,87.2 239.4,86.4 241.7,85.7 243.9,84.9 246.0,84.2 248.0,83.5 250.1,82.8 252.2,82.0 254.5,81.3 256.7,80.5 258.9,79.8 261.1,79.0 263.3,78.2 265.5,77.4 267.8,76.6 270.1,75.8 273.5,75.0 277.4,74.2 281.2,73.3 284.9,72.5 288.5,71.7 292.2,70.8 296.4,70.0 300.8,69.1 305.2,68.2 309.0,67.3 312.8,66.4 316.5,65.5 320.8,64.6 325.1,63.6 329.4,62.6 334.1,61.5 338.7,60.5 343.3,59.4 347.6,58.4 351.8,57.4 356.1,56.3 360.6,55.2 365.1,54.1 369.6,53.0 M154.6,106.6 156.4,106.4 158.1,106.2 159.9,106.0 161.3,106.0 162.8,106.0 164.3,106.0 165.7,105.8 167.2,105.6 168.7,105.4 170.2,105.0 171.6,104.6 173.1,104.2 174.5,103.7 176.0,103.2 177.4,102.6 178.8,102.0 180.2,101.4 181.7,100.8 183.3,100.3 184.9,99.8 186.5,99.2 188.0,98.6 189.5,97.9 191.0,97.3 192.5,96.7 194.1,96.1 195.6,95.5 197.1,94.9 198.6,94.3 200.1,93.6 201.8,93.0 203.4,92.4 205.1,91.7 206.8,91.0 208.4,90.3 210.1,89.6 211.9,89.0 213.7,88.3 215.4,87.6 217.2,86.9 219.0,86.2 220.8,85.5 222.6,84.7 224.4,83.9 226.3,83.1 228.3,82.4 230.3,81.6 232.3,80.8 234.2,80.0 236.1,79.2 238.2,78.4 240.3,77.6 242.4,76.8 244.4,76.1 246.4,75.3 248.3,74.6 250.4,73.8 252.6,73.1 254.7,72.3 256.8,71.5 258.9,70.7 260.9,69.9 263.1,69.0 265.3,68.2 267.5,67.4 270.8,66.6 274.6,65.7 278.3,64.9 282.0,64.0 285.6,63.2 289.1,62.3 293.3,61.5 297.7,60.6 302.0,59.7 305.8,58.8 309.5,57.9 313.1,57.0 317.3,56.0 321.6,55.0 325.9,54.0 330.5,52.9 335.1,51.8 339.7,50.8 343.9,49.7 348.1,48.7 352.3,47.6 356.7,46.5 361.2,45.4 365.6,44.2 M155.5,101.9 157.3,101.6 159.1,101.4 160.8,101.1 162.2,101.0 163.7,101.0 165.2,100.8 166.6,100.6 168.1,100.3 169.6,100.0 171.1,99.6 172.5,99.1 173.9,98.6 175.4,98.0 176.8,97.4 178.2,96.8 179.6,96.1 181.0,95.5 182.4,94.8 184.0,94.2 185.6,93.5 187.1,92.9 188.6,92.2 190.0,91.5 191.5,90.8 193.0,90.2 194.5,89.5 196.0,88.8 197.4,88.1 198.9,87.4 200.4,86.7 202.0,86.0 203.6,85.3 205.2,84.6 206.8,83.9 208.4,83.1 210.1,82.3 211.8,81.6 213.4,80.9 215.1,80.1 216.9,79.4 218.6,78.6 220.3,77.8 222.0,77.0 223.8,76.2 225.6,75.4 227.5,74.5 229.5,73.7 231.3,72.9 233.1,72.0 235.0,71.2 236.9,70.4 238.9,69.5 241.0,68.7 242.9,67.9 244.8,67.2 246.6,66.4 248.6,65.6 250.6,64.8 252.7,64.0 254.7,63.2 256.7,62.4 258.6,61.5 260.7,60.7 262.7,59.9 264.8,59.0 268.1,58.2 271.8,57.3 275.5,56.4 279.1,55.6 282.6,54.7 286.1,53.9 290.2,53.0 294.5,52.1 298.8,51.2 302.5,50.3 306.1,49.4 309.7,48.4 313.9,47.4 318.1,46.4 322.4,45.4 326.9,44.3 331.4,43.2 336.0,42.1 340.2,41.0 344.3,40.0 348.4,38.9 352.8,37.8 357.2,36.6 361.6,35.4 M156.4,97.2 158.2,96.9 160.0,96.5 161.7,96.2 163.2,96.0 164.6,95.9 166.1,95.7 167.5,95.4 169.0,95.0 170.5,94.6 171.9,94.1 173.4,93.6 174.8,93.0 176.2,92.4 177.6,91.7 179.0,91.0 180.4,90.2 181.7,89.5 183.1,88.7 184.7,88.0 186.2,87.3 187.8,86.6 189.2,85.9 190.6,85.1 192.0,84.3 193.5,83.6 194.9,82.8 196.4,82.1 197.8,81.3 199.2,80.6 200.6,79.8 202.2,79.0 203.7,78.3 205.2,77.5 206.8,76.7 208.4,75.9 210.0,75.0 211.6,74.2 213.2,73.5 214.8,72.7 216.5,71.9 218.1,71.0 219.8,70.2 221.5,69.3 223.1,68.4 224.9,67.6 226.7,66.7 228.6,65.8 230.3,65.0 232.1,64.1 233.8,63.2 235.6,62.3 237.6,61.5 239.5,60.6 241.4,59.8 243.1,59.0 244.9,58.2 246.7,57.4 248.7,56.6 250.7,55.7 252.6,54.9 254.4,54.0 256.3,53.2 258.2,52.3 260.2,51.5 262.1,50.6 265.3,49.8 269.0,48.9 272.7,48.0 276.2,47.1 279.6,46.2 283.0,45.4 287.1,44.5 291.4,43.6 295.6,42.6 299.3,41.7 302.8,40.8 306.3,39.9 310.4,38.9 314.6,37.8 318.8,36.8 323.3,35.7 327.8,34.6 332.3,33.5 336.4,32.4 340.5,31.3 344.6,30.2 348.9,29.1 353.2,27.8 357.5,26.6 M157.2,93.1 159.0,92.7 160.8,92.2 162.5,91.8 164.0,91.6 165.4,91.4 166.9,91.1 168.3,90.7 169.8,90.3 171.3,89.8 172.7,89.2 174.1,88.6 175.6,87.9 177.0,87.2 178.4,86.5 179.8,85.7 181.1,84.8 182.4,84.0 183.8,83.1 185.3,82.4 186.8,81.6 188.3,80.8 189.7,80.0 191.1,79.1 192.5,78.3 193.9,77.4 195.3,76.6 196.7,75.8 198.1,74.9 199.5,74.1 200.8,73.3 202.3,72.4 203.8,71.6 205.3,70.7 206.8,69.9 208.4,69.0 209.9,68.1 211.5,67.2 213.0,66.4 214.6,65.5 216.2,64.7 217.7,63.8 219.3,62.9 220.9,61.9 222.5,61.0 224.1,60.1 225.9,59.2 227.7,58.2 229.4,57.3 231.0,56.4 232.6,55.5 234.4,54.5 236.3,53.6 238.1,52.7 239.9,51.9 241.5,51.1 243.2,50.2 244.9,49.4 246.8,48.5 248.7,47.6 250.5,46.8 252.3,45.9 254.0,45.0 255.8,44.1 257.7,43.3 259.5,42.4 262.6,41.5 266.3,40.6 269.9,39.7 273.3,38.8 276.7,37.9 280.0,37.0 284.1,36.1 288.3,35.2 292.4,34.2 296.0,33.3 299.5,32.4 302.9,31.4 307.0,30.4 311.1,29.3 315.3,28.2 319.7,27.1 324.2,26.0 328.7,24.8 332.7,23.7 336.8,22.6 340.8,21.5 345.0,20.3 349.3,19.1 353.5,17.8 M158.0,89.0 159.8,88.5 161.6,88.0 163.3,87.5 164.8,87.2 166.2,86.8 167.7,86.5 169.1,86.0 170.6,85.5 172.1,85.0 173.5,84.3 174.9,83.6 176.4,82.8 177.7,82.0 179.1,81.2 180.5,80.3 181.8,79.4 183.1,78.5 184.4,77.6 186.0,76.7 187.5,75.9 188.9,75.0 190.3,74.0 191.6,73.1 193.0,72.2 194.4,71.3 195.8,70.4 197.1,69.5 198.4,68.6 199.7,67.6 201.1,66.7 202.5,65.8 203.9,64.9 205.4,64.0 206.9,63.1 208.3,62.1 209.8,61.1 211.3,60.2 212.8,59.3 214.3,58.4 215.8,57.4 217.3,56.5 218.8,55.5 220.3,54.6 221.8,53.6 223.4,52.6 225.2,51.6 226.8,50.6 228.4,49.6 230.0,48.7 231.5,47.7 233.2,46.7 235.0,45.8 236.7,44.9 238.4,44.0 239.9,43.1 241.5,42.2 243.2,41.3 244.9,40.5 246.7,39.5 248.4,38.6 250.1,37.7 251.7,36.8 253.5,35.9 255.2,35.0 256.9,34.1 260.0,33.2 263.5,32.3 267.1,31.3 270.4,30.4 273.7,29.5 277.0,28.6 281.0,27.7 285.1,26.7 289.3,25.8 292.8,24.8 296.2,23.9 299.5,22.9 303.5,21.9 307.7,20.8 311.8,19.7 316.2,18.5 320.6,17.4 325.0,16.2 329.0,15.1 333.0,14.0 336.9,12.8 341.1,11.6 345.3,10.3 349.4,9.0 M158.8,84.9 160.6,84.3 162.4,83.7 164.1,83.1 165.6,82.7 167.0,82.3 168.5,81.9 170.0,81.4 171.4,80.8 172.9,80.1 174.3,79.4 175.7,78.6 177.1,77.8 178.5,76.9 179.9,76.0 181.2,75.0 182.5,74.0 183.8,73.0 185.1,72.0 186.6,71.0 188.1,70.1 189.5,69.1 190.8,68.1 192.1,67.1 193.4,66.1 194.8,65.1 196.2,64.2 197.5,63.2 198.7,62.2 200.0,61.2 201.3,60.2 202.7,59.2 204.1,58.3 205.5,57.3 206.9,56.2 208.3,55.2 209.7,54.2 211.2,53.2 212.6,52.2 214.0,51.2 215.5,50.2 216.9,49.2 218.3,48.2 219.8,47.2 221.2,46.1 222.7,45.1 224.4,44.0 226.0,43.0 227.5,42.0 228.9,41.0 230.4,40.0 231.9,38.9 233.6,37.9 235.3,37.0 236.9,36.1 238.3,35.1 239.8,34.2 241.4,33.3 243.1,32.4 244.7,31.5 246.3,30.5 247.9,29.6 249.5,28.6 251.1,27.7 252.7,26.8 254.3,25.9 257.3,24.9 260.8,24.0 264.3,23.0 267.6,22.1 270.8,21.2 274.0,20.2 277.9,19.3 282.0,18.3 286.1,17.3 289.6,16.4 292.9,15.4 296.1,14.4 300.1,13.4 304.2,12.2 308.2,11.1 312.6,10.0 317.0,8.8 321.4,7.6 325.3,6.5 329.2,5.3 333.1,4.2 337.2,2.9 341.3,1.6 345.4,0.2 M159.4,81.4 161.2,80.7 163.0,80.0 164.8,79.3 166.3,78.9 167.7,78.4 169.2,77.9 170.7,77.2 172.1,76.6 173.6,75.8 175.0,75.0 176.4,74.1 177.8,73.2 179.2,72.2 180.5,71.2 181.9,70.2 183.1,69.1 184.4,68.0 185.7,66.9 187.2,65.9 188.6,64.8 190.0,63.8 191.3,62.7 192.6,61.6 193.9,60.5 195.2,59.4 196.5,58.4 197.8,57.3 199.0,56.2 200.3,55.1 201.5,54.1 202.9,53.0 204.2,52.0 205.5,50.9 206.9,49.8 208.3,48.7 209.7,47.6 211.0,46.5 212.4,45.5 213.7,44.4 215.1,43.3 216.5,42.3 217.9,41.2 219.3,40.1 220.6,39.0 222.1,37.9 223.6,36.8 225.1,35.7 226.6,34.6 227.9,33.5 229.3,32.4 230.8,31.4 232.4,30.3 234.0,29.3 235.4,28.4 236.8,27.4 238.1,26.4 239.6,25.5 241.2,24.5 242.8,23.5 244.3,22.6 245.8,21.6 247.2,20.6 248.7,19.6 250.2,18.7 251.7,17.8 254.6,16.8 258.1,15.8 261.5,14.8 264.8,13.8 267.9,12.9 271.0,12.0 274.9,11.0 278.9,10.0 283.0,9.0 286.3,8.0 289.6,7.0 292.8,6.0 296.7,4.9 300.7,3.8 304.7,2.6 309.1,1.4 313.4,0.2 317.7,-1.0 321.6,-2.2 325.5,-3.3 329.3,-4.5 333.3,-5.8 337.4,-7.2 341.4,-8.6 M160.1,77.9 161.9,77.1 163.7,76.3 165.5,75.6 167.0,75.0 168.5,74.4 169.9,73.8 171.4,73.1 172.8,72.3 174.3,71.5 175.7,70.6 177.1,69.6 178.5,68.6 179.9,67.6 181.2,66.5 182.5,65.3 183.8,64.1 185.0,62.9 186.3,61.8 187.8,60.7 189.2,59.5 190.6,58.4 191.8,57.2 193.1,56.0 194.3,54.9 195.6,53.7 196.9,52.6 198.2,51.4 199.3,50.2 200.5,49.1 201.7,47.9 203.0,46.8 204.3,45.7 205.6,44.5 206.9,43.3 208.3,42.2 209.6,41.0 210.9,39.8 212.2,38.7 213.5,37.6 214.8,36.5 216.1,35.3 217.4,34.2 218.7,33.0 220.0,31.8 221.4,30.6 222.9,29.5 224.3,28.3 225.7,27.2 226.9,26.1 228.2,24.9 229.6,23.8 231.1,22.7 232.6,21.7 234.0,20.7 235.2,19.6 236.4,18.7 237.9,17.7 239.4,16.7 240.9,15.6 242.3,14.6 243.7,13.6 245.0,12.6 246.4,11.6 247.8,10.6 249.1,9.7 252.0,8.7 255.4,7.6 258.8,6.6 261.9,5.6 265.0,4.6 268.1,3.7 271.9,2.7 275.9,1.7 279.8,0.6 283.1,-0.4 286.3,-1.4 289.4,-2.4 293.3,-3.5 297.3,-4.7 301.2,-5.9 305.5,-7.1 309.8,-8.3 314.1,-9.6 317.9,-10.8 321.7,-12.0 325.5,-13.2 329.4,-14.5 333.4,-15.9 337.3,-17.4 M160.8,74.3 162.6,73.4 164.4,72.6 166.3,71.7 167.7,71.1 169.2,70.4 170.7,69.7 172.1,68.9 173.6,68.0 175.1,67.1 176.4,66.1 177.8,65.1 179.2,64.0 180.6,62.8 181.9,61.6 183.2,60.4 184.4,59.1 185.7,57.8 186.9,56.6 188.4,55.4 189.8,54.2 191.1,52.9 192.3,51.7 193.6,50.4 194.8,49.1 196.1,47.9 197.3,46.7 198.5,45.4 199.6,44.2 200.8,43.0 201.9,41.7 203.2,40.5 204.4,39.3 205.7,38.1 207.0,36.8 208.2,35.6 209.5,34.3 210.8,33.1 212.0,31.9 213.2,30.7 214.5,29.5 215.7,28.3 217.0,27.1 218.2,25.8 219.4,24.6 220.7,23.4 222.1,22.2 223.5,20.9 224.7,19.7 225.9,18.6 227.0,17.4 228.4,16.2 229.8,15.1 231.2,14.0 232.5,12.9 233.7,11.9 234.8,10.8 236.1,9.8 237.5,8.7 238.9,7.7 240.2,6.6 241.5,5.6 242.8,4.5 244.0,3.5 245.3,2.5 246.5,1.5 249.3,0.5 252.7,-0.6 256.0,-1.6 259.1,-2.6 262.1,-3.6 265.1,-4.6 268.8,-5.6 272.8,-6.7 276.7,-7.7 279.9,-8.8 283.0,-9.8 286.1,-10.8 289.9,-12.0 293.8,-13.2 297.7,-14.4 302.0,-15.7 306.2,-16.9 310.4,-18.2 314.2,-19.4 317.9,-20.6 321.6,-21.9 325.6,-23.2 329.4,-24.7 333.3,-26.2 M161.3,71.4 163.2,70.4 165.0,69.5 166.8,68.5 168.3,67.8 169.8,67.0 171.3,66.2 172.7,65.3 174.2,64.4 175.7,63.4 177.1,62.3 178.5,61.1 179.9,59.9 181.2,58.7 182.5,57.4 183.8,56.1 185.0,54.7 186.2,53.3 187.5,51.9 188.9,50.6 190.3,49.3 191.6,48.0 192.8,46.7 194.0,45.3 195.2,43.9 196.4,42.6 197.7,41.3 198.8,40.0 199.9,38.6 201.0,37.3 202.1,36.0 203.3,34.7 204.5,33.4 205.7,32.1 207.0,30.7 208.2,29.4 209.4,28.0 210.6,26.8 211.8,25.5 213.0,24.2 214.2,22.9 215.4,21.7 216.5,20.4 217.7,19.0 218.8,17.7 220.0,16.4 221.4,15.1 222.7,13.9 223.9,12.6 224.9,11.4 226.0,10.1 227.2,8.9 228.6,7.7 229.9,6.5 231.1,5.4 232.1,4.3 233.2,3.2 234.4,2.2 235.7,1.1 237.0,-0.0 238.3,-1.1 239.4,-2.2 240.6,-3.3 241.7,-4.4 242.9,-5.4 244.0,-6.4 246.7,-7.5 250.0,-8.6 253.3,-9.7 256.3,-10.8 259.2,-11.8 262.1,-12.8 265.8,-13.9 269.7,-14.9 273.6,-16.0 276.8,-17.1 279.8,-18.1 282.7,-19.2 286.5,-20.4 290.4,-21.6 294.2,-22.9 298.4,-24.1 302.6,-25.4 306.8,-26.7 310.5,-28.0 314.2,-29.2 317.8,-30.5 321.7,-31.9 325.5,-33.4 329.2,-35.0 M161.9,68.5 163.7,67.4 165.6,66.4 167.4,65.3 168.9,64.5 170.4,63.6 171.9,62.7 173.3,61.7 174.8,60.7 176.3,59.6 177.7,58.4 179.1,57.2 180.5,55.9 181.8,54.5 183.1,53.1 184.4,51.7 185.6,50.3 186.8,48.8 188.0,47.3 189.4,45.9 190.8,44.5 192.1,43.1 193.3,41.6 194.4,40.2 195.6,38.7 196.8,37.3 198.0,35.9 199.1,34.5 200.2,33.1 201.2,31.6 202.3,30.2 203.5,28.8 204.6,27.5 205.8,26.0 207.0,24.6 208.2,23.2 209.4,21.8 210.5,20.4 211.6,19.1 212.7,17.7 213.9,16.4 215.0,15.0 216.1,13.6 217.2,12.2 218.2,10.8 219.4,9.5 220.7,8.1 221.9,6.8 223.0,5.5 224.0,4.2 224.9,2.9 226.1,1.6 227.3,0.3 228.6,-0.9 229.7,-2.1 230.6,-3.2 231.6,-4.3 232.7,-5.5 233.9,-6.6 235.1,-7.8 236.3,-8.9 237.3,-10.1 238.4,-11.2 239.4,-12.3 240.5,-13.4 241.5,-14.4 244.1,-15.5 247.3,-16.7 250.6,-17.8 253.5,-18.9 256.4,-19.9 259.2,-21.0 262.8,-22.1 266.7,-23.2 270.5,-24.3 273.6,-25.4 276.5,-26.5 279.4,-27.6 283.1,-28.8 286.9,-30.0 290.8,-31.3 294.9,-32.6 299.0,-34.0 303.2,-35.3 306.8,-36.6 310.4,-37.9 314.0,-39.2 317.8,-40.6 321.5,-42.2 325.2,-43.8 M162.4,65.6 164.3,64.4 166.2,63.3 168.0,62.1 169.5,61.2 171.0,60.2 172.5,59.3 173.9,58.2 175.4,57.0 176.9,55.8 178.3,54.5 179.7,53.2 181.1,51.8 182.4,50.4 183.7,48.9 185.0,47.4 186.2,45.8 187.4,44.2 188.6,42.7 190.0,41.2 191.3,39.7 192.6,38.2 193.8,36.6 194.9,35.1 196.0,33.5 197.2,32.0 198.4,30.5 199.5,29.0 200.5,27.5 201.5,26.0 202.5,24.5 203.6,23.0 204.7,21.5 205.9,20.0 207.0,18.5 208.2,17.0 209.3,15.5 210.4,14.1 211.4,12.6 212.5,11.2 213.6,9.8 214.6,8.3 215.6,6.9 216.7,5.4 217.7,4.0 218.7,2.5 219.9,1.1 221.1,-0.3 222.1,-1.7 223.0,-3.0 223.8,-4.4 224.9,-5.7 226.1,-7.1 227.3,-8.3 228.3,-9.6 229.1,-10.8 229.9,-11.9 231.0,-13.1 232.1,-14.3 233.3,-15.5 234.3,-16.7 235.3,-17.9 236.2,-19.1 237.1,-20.2 238.0,-21.3 238.9,-22.4 241.5,-23.6 244.7,-24.7 247.9,-25.9 250.7,-27.0 253.5,-28.1 256.3,-29.2 259.8,-30.3 263.6,-31.4 267.4,-32.6 270.4,-33.7 273.2,-34.8 276.1,-35.9 279.7,-37.2 283.5,-38.5 287.3,-39.8 291.4,-41.1 295.5,-42.5 299.6,-43.8 303.1,-45.2 306.7,-46.5 310.2,-47.8 313.9,-49.3 317.5,-50.9 321.2,-52.6" fill="none" stroke="#5c5c88" stroke-width="0.55" stroke-opacity="0.42" clip-path="url(#clipA)"/>
<clipPath id="slA1"><path d="M105,300 L121.5,300 L121.5,340 L105,340 Z"/></clipPath>
<circle cx="124.80" cy="313.80" r="5.00" fill="#ff8000" clip-path="url(#slA1)"/>
<clipPath id="slA2"><path d="M100,315 L111.3,315 L111.3,335 L100,335 Z"/></clipPath>
<circle cx="114.80" cy="324.00" r="5.00" fill="#ff8000" clip-path="url(#slA2)"/>
<clipPath id="slA3"><path d="M170,318 L185,322 L185,330 L170,330 Z"/></clipPath>
<circle cx="178.00" cy="319.20" r="5.00" fill="#008000" clip-path="url(#slA3)"/>
<circle cx="180.20" cy="76.10" r="5.40" fill="#ff0000" />
<circle cx="280.10" cy="120.00" r="5.30" fill="#6600cc" />
<circle cx="354.60" cy="129.50" r="5.30" fill="#00ffff" />
<circle cx="201.60" cy="215.70" r="5.00" fill="#6600cc" />
<circle cx="128.70" cy="244.00" r="5.00" fill="#6600cc" />
<circle cx="181.00" cy="269.00" r="5.00" fill="#ff8000" />
<circle cx="218.50" cy="274.70" r="5.00" fill="#008000" />
<circle cx="159.20" cy="284.00" r="5.00" fill="#ff8000" />
<circle cx="118.00" cy="295.30" r="5.00" fill="#ff8000" />
<circle cx="429.00" cy="93.70" r="5.00" fill="url(#gBlue)" />
<path d="M68.17,53.09 L86.75,351.78 M86.75,351.78 L349.79,427.84 L495.56,311.39" fill="none" stroke="#000" stroke-width="1.40" stroke-linecap="square"/>
<path d="M112.95,359.36 L108.12,361.99 M139.84,367.13 L136.33,369.04 M167.44,375.12 L162.61,377.75 M195.79,383.31 L192.28,385.22 M224.91,391.73 L220.08,394.36 M254.83,400.38 L251.32,402.29 M285.60,409.28 L280.77,411.91 M317.24,418.43 L313.73,420.34 M349.79,427.84 L344.96,430.47 M349.79,427.84 L355.55,429.51 M387.89,397.40 L393.65,399.07 M422.77,369.54 L428.53,371.21 M454.82,343.93 L460.58,345.60 M484.37,320.33 L490.13,322.00 M86.75,351.78 L81.25,352.66 M85.51,331.82 L82.01,332.38 M84.25,311.65 L78.75,312.53 M82.99,291.28 L79.49,291.84 M81.71,270.71 L76.21,271.59 M80.41,249.93 L76.91,250.49 M79.11,228.95 L73.61,229.83 M77.79,207.74 L74.29,208.30 M76.46,186.33 L70.96,187.21 M75.11,164.69 L71.61,165.25 M73.75,142.83 L68.25,143.71 M72.38,120.74 L68.88,121.30 M70.99,98.43 L65.49,99.31 M69.59,75.87 L66.09,76.43 M68.17,53.09 L62.67,53.97" fill="none" stroke="#000" stroke-width="1.30"/>
<path d="M45.32,535.23 L245.52,471.12 L494.13,506.15 L484.50,787.33 M254.43,724.70 L245.52,471.12 M72.10,825.28 L254.43,724.70 L484.50,787.33" fill="none" stroke="#666666" stroke-width="0.75"/>
<circle cx="411.80" cy="619.40" r="4.60" fill="#ff50a0" />
<circle cx="368.00" cy="653.30" r="4.60" fill="#ff50a0" />
<circle cx="107.50" cy="753.70" r="5.00" fill="#00ffff" />
<circle cx="115.40" cy="772.70" r="5.00" fill="#00ffff" />
<circle cx="105.50" cy="786.30" r="5.00" fill="#00ffff" />
<circle cx="112.90" cy="794.20" r="5.00" fill="#00ffff" />
<circle cx="217.70" cy="793.20" r="5.00" fill="#ff00ff" />
<path d="M121.80,763.45 L125.30,769.54 L118.30,769.54 Z" fill="#0000ff"/>
<circle cx="346.50" cy="573.10" r="5.00" fill="url(#gGreen)" />
<circle cx="263.40" cy="649.10" r="5.00" fill="url(#gGreen)" />
<circle cx="386.00" cy="624.00" r="5.00" fill="url(#gDRed)" />
<circle cx="386.30" cy="626.50" r="5.00" fill="url(#gDRed)" />
<circle cx="388.60" cy="642.30" r="5.00" fill="url(#gDRed)" />
<clipPath id="clipB"><path d="M105.7,802.0 106.0,802.0 106.3,802.1 106.6,802.1 106.9,802.2 107.3,802.2 107.6,802.3 108.0,802.4 108.5,802.4 108.9,802.5 109.3,802.6 109.8,802.6 110.3,802.7 110.8,802.8 111.3,802.9 111.8,802.9 112.3,803.0 112.8,803.1 113.4,803.2 114.0,803.3 114.5,803.4 115.1,803.4 115.7,803.5 116.3,803.6 116.9,803.7 117.5,803.8 118.1,803.9 118.7,803.9 119.3,804.0 119.9,804.1 120.5,804.2 121.1,804.3 121.8,804.3 122.4,804.4 123.0,804.5 123.6,804.5 124.2,804.6 124.8,804.6 125.4,804.7 126.0,804.8 126.6,804.8 127.2,804.8 127.8,804.9 128.5,804.9 129.1,805.0 129.7,805.0 130.4,805.1 131.0,805.1 131.7,805.1 132.4,805.2 133.0,805.2 133.7,805.2 134.4,805.3 135.1,805.3 135.7,805.3 136.4,805.4 137.1,805.4 137.8,805.4 138.5,805.5 139.2,805.5 139.9,805.5 140.6,805.5 141.3,805.6 142.0,805.6 142.7,805.6 143.4,805.6 144.0,805.7 144.7,805.7 145.4,805.7 146.1,805.7 146.8,805.8 147.5,805.8 148.2,805.8 148.9,805.8 149.6,805.9 150.2,805.9 150.9,805.9 151.6,805.9 152.2,805.9 152.9,806.0 153.6,806.0 154.2,806.0 154.9,806.0 155.6,806.0 156.3,806.1 156.9,806.1 157.6,806.1 158.3,806.1 158.9,806.1 159.6,806.2 160.3,806.2 160.9,806.2 161.6,806.2 162.3,806.2 162.9,806.2 163.6,806.3 164.3,806.3 164.9,806.3 165.6,806.3 166.3,806.3 166.9,806.3 167.6,806.3 168.3,806.3 169.0,806.3 169.6,806.4 170.3,806.4 171.0,806.4 171.6,806.4 172.3,806.4 173.0,806.4 173.6,806.4 174.3,806.4 175.0,806.4 175.6,806.4 176.3,806.4 177.0,806.4 177.6,806.4 178.3,806.4 179.0,806.4 179.6,806.4 180.3,806.4 181.0,806.4 181.6,806.4 182.3,806.4 183.0,806.4 183.7,806.3 184.3,806.3 185.0,806.3 185.7,806.3 186.3,806.3 187.0,806.3 187.7,806.3 188.3,806.3 189.0,806.3 189.7,806.2 190.3,806.2 191.0,806.2 191.7,806.2 192.3,806.2 193.0,806.2 193.7,806.1 194.3,806.1 195.0,806.1 195.7,806.1 196.4,806.1 197.0,806.0 197.7,806.0 198.4,806.0 199.0,806.0 199.7,806.0 200.4,805.9 201.0,805.9 201.7,805.9 202.4,805.9 203.0,805.9 203.7,805.8 204.4,805.8 205.0,805.8 205.7,805.8 206.4,805.7 207.0,805.7 207.7,805.7 208.4,805.7 209.0,805.6 209.7,805.6 210.4,805.6 211.1,805.5 211.7,805.5 212.4,805.5 213.1,805.5 213.7,805.4 214.4,805.4 215.1,805.4 215.7,805.3 216.4,805.3 217.1,805.3 217.7,805.2 218.4,805.2 219.1,805.2 219.7,805.1 220.4,805.1 221.1,805.1 221.7,805.0 222.4,805.0 223.1,804.9 223.8,804.9 224.4,804.9 225.1,804.8 225.8,804.8 226.4,804.7 227.1,804.7 227.8,804.7 228.4,804.6 229.1,804.6 229.8,804.5 230.4,804.5 231.1,804.4 231.8,804.4 232.4,804.3 233.1,804.3 233.8,804.2 234.4,804.2 235.1,804.1 235.7,804.1 236.4,804.0 237.1,804.0 237.7,803.9 238.4,803.8 239.1,803.8 239.7,803.7 240.4,803.7 241.1,803.6 241.7,803.6 242.4,803.5 243.1,803.4 243.7,803.4 244.4,803.3 245.1,803.3 245.8,803.2 246.4,803.1 247.1,803.1 247.8,803.0 248.5,803.0 249.1,802.9 249.8,802.8 250.5,802.8 251.2,802.7 251.9,802.7 252.6,802.6 253.3,802.5 254.0,802.5 254.7,802.4 255.4,802.4 256.2,802.3 256.9,802.2 257.6,802.2 258.4,802.1 259.1,802.1 259.9,802.0 260.6,801.9 261.4,801.9 262.1,801.8 262.9,801.7 263.6,801.7 264.4,801.6 265.1,801.5 265.9,801.5 266.6,801.4 267.4,801.4 268.1,801.3 268.9,801.2 269.6,801.2 270.4,801.1 271.1,801.0 271.8,801.0 272.6,800.9 273.3,800.8 274.0,800.8 274.7,800.7 275.4,800.6 276.1,800.6 276.7,800.5 277.4,800.5 278.1,800.4 278.7,800.3 279.4,800.3 280.0,800.2 280.6,800.1 281.2,800.1 281.8,800.0 282.3,800.0 282.9,799.9 283.4,799.9 283.9,799.8 284.5,799.8 285.0,799.7 285.4,799.7 285.9,799.6 286.4,799.6 286.9,799.5 287.3,799.5 287.8,799.4 288.2,799.4 288.7,799.3 289.2,799.3 289.6,799.2 290.1,799.2 290.5,799.1 291.0,799.1 291.5,799.0 291.9,799.0 292.4,798.9 292.9,798.8 293.4,798.8 293.9,798.7 294.5,798.6 295.0,798.6 295.6,798.5 296.2,798.4 296.7,798.3 297.4,798.2 298.0,798.1 298.6,798.0 299.3,797.9 300.0,797.8 300.7,797.7 301.5,797.6 302.3,797.4 303.1,797.3 303.9,797.1 304.7,797.0 305.6,796.8 306.5,796.7 307.4,796.5 308.3,796.3 309.3,796.2 310.2,796.0 311.2,795.8 312.2,795.6 313.1,795.5 314.1,795.3 315.1,795.1 316.1,794.9 317.1,794.7 318.1,794.5 319.1,794.3 320.0,794.1 321.0,794.0 322.0,793.8 322.9,793.6 323.9,793.4 324.8,793.2 325.7,793.1 326.6,792.9 327.5,792.7 328.4,792.5 329.2,792.4 330.0,792.2 330.8,792.1 331.6,791.9 332.3,791.8 333.0,791.6 333.7,791.5 334.3,791.4 335.0,791.3 335.5,791.1 336.1,791.0 336.6,790.9 337.2,790.8 337.6,790.7 338.1,790.6 338.6,790.5 339.0,790.4 339.4,790.3 339.8,790.2 340.2,790.1 340.6,790.0 341.0,790.0 341.3,789.9 341.7,789.8 342.0,789.7 342.4,789.6 342.7,789.6 343.1,789.5 343.4,789.4 343.8,789.3 344.1,789.2 344.4,789.2 344.8,789.1 345.2,789.0 345.5,788.9 345.9,788.9 346.3,788.8 346.7,788.7 347.1,788.6 347.6,788.5 348.0,788.5 348.5,788.4 349.0,788.3 349.5,788.2 350.0,788.1 350.5,788.0 351.1,787.9 351.7,787.8 352.3,787.7 352.9,787.6 353.5,787.6 354.1,787.5 354.7,787.4 355.3,787.3 356.0,787.2 356.6,787.1 357.3,787.0 357.9,786.9 358.6,786.8 359.2,786.7 359.9,786.6 360.6,786.5 361.3,786.4 362.0,786.4 362.6,786.3 363.3,786.2 364.0,786.1 364.7,786.0 365.4,785.9 366.1,785.8 366.8,785.7 367.5,785.6 368.2,785.5 368.9,785.4 369.6,785.3 370.3,785.2 371.0,785.1 371.6,785.0 372.3,784.9 373.0,784.8 373.7,784.7 374.3,784.6 375.0,784.5 375.7,784.4 376.3,784.3 377.0,784.2 377.6,784.1 378.3,784.0 378.9,783.9 379.6,783.8 380.3,783.7 380.9,783.5 381.6,783.4 382.2,783.3 382.9,783.2 383.6,783.1 384.2,783.0 384.9,782.9 385.5,782.8 386.2,782.7 386.8,782.6 387.5,782.4 388.2,782.3 388.8,782.2 389.5,782.1 390.1,782.0 390.8,781.9 391.4,781.7 392.1,781.6 392.8,781.5 393.4,781.4 394.1,781.3 394.7,781.2 395.4,781.0 396.1,780.9 396.7,780.8 397.4,780.7 398.0,780.6 398.7,780.4 399.3,780.3 400.0,780.2 400.7,780.1 401.3,780.0 402.0,779.8 402.6,779.7 403.3,779.6 403.9,779.5 404.6,779.3 405.3,779.2 405.9,779.1 406.6,779.0 407.2,778.8 407.9,778.7 408.6,778.6 409.2,778.5 409.9,778.3 410.5,778.2 411.2,778.1 411.8,778.0 412.5,777.8 413.2,777.7 413.8,777.6 414.5,777.4 415.1,777.3 415.8,777.2 416.4,777.0 417.1,776.9 417.8,776.8 418.4,776.6 419.1,776.5 419.7,776.4 420.4,776.2 421.1,776.1 421.7,775.9 422.4,775.8 423.0,775.6 423.7,775.5 424.3,775.3 425.0,775.2 425.7,775.0 426.3,774.9 427.0,774.7 427.7,774.6 428.4,774.4 429.1,774.2 429.8,774.1 430.5,773.9 431.3,773.7 432.0,773.5 432.7,773.4 433.4,773.2 434.2,773.0 434.9,772.8 435.6,772.6 436.3,772.4 437.1,772.3 437.8,772.1 438.5,771.9 439.2,771.7 439.9,771.5 440.6,771.3 441.3,771.2 441.9,771.0 442.6,770.8 443.3,770.6 443.9,770.5 444.5,770.3 445.2,770.1 445.8,770.0 446.4,769.8 446.9,769.6 447.5,769.5 448.0,769.3 448.6,769.2 449.1,769.1 449.5,768.9 450.0,768.8 450.4,768.7 450.9,768.6 451.3,768.4 451.7,768.3 452.1,768.2 452.4,768.1 452.8,768.0 453.2,767.9 453.5,767.8 453.8,767.6 454.1,767.5 454.4,767.4 454.7,767.3 455.0,767.2 455.2,767.2 455.5,767.1 455.7,767.0 456.0,766.9 456.2,766.8 456.4,766.7 456.6,766.6 456.8,766.6 457.0,766.5 457.2,766.4 457.4,766.3 457.6,766.3 457.8,766.2 457.9,766.1 458.1,766.1 458.2,766.0 458.4,765.9 458.5,765.9 458.7,765.8 458.8,765.8 458.9,765.7 459.1,765.7 459.2,765.6 459.3,765.6 459.3,765.2 459.2,764.8 459.2,764.5 459.2,764.1 459.1,763.7 459.1,763.3 459.0,762.8 459.0,762.4 459.0,762.0 458.9,761.5 458.9,761.1 458.8,760.7 458.8,760.2 458.8,759.7 458.7,759.3 458.7,758.8 458.6,758.3 458.6,757.8 458.5,757.3 458.5,756.8 458.4,756.3 458.4,755.8 458.3,755.3 458.3,754.7 458.2,754.2 458.2,753.7 458.1,753.1 458.1,752.6 458.0,752.0 458.0,751.4 457.9,750.9 457.9,750.3 457.8,749.7 457.8,749.1 457.7,748.5 457.6,747.9 457.6,747.3 457.5,746.7 457.5,746.1 457.4,745.5 457.4,744.8 457.3,744.2 457.2,743.6 457.2,742.9 457.1,742.3 457.1,741.6 457.0,741.0 456.9,740.3 456.9,739.6 456.8,739.0 456.7,738.3 456.7,737.6 456.6,736.9 456.6,736.2 456.5,735.5 456.4,734.8 456.4,734.1 456.3,733.4 456.2,732.7 456.2,732.0 456.1,731.2 456.0,730.5 455.9,729.8 455.9,729.0 455.8,728.3 455.7,727.6 455.7,726.8 455.6,726.1 455.5,725.3 455.5,724.5 455.4,723.8 455.3,723.0 455.2,722.2 455.2,721.4 455.1,720.7 455.0,719.9 454.9,719.1 454.9,718.3 454.8,717.5 454.7,716.7 454.6,715.9 454.6,715.1 454.5,714.3 454.4,713.5 454.3,712.7 454.3,711.8 454.2,711.0 454.1,710.2 454.0,709.4 454.0,708.5 453.9,707.7 453.8,706.9 453.7,706.0 453.6,705.2 453.6,704.3 453.5,703.5 453.4,702.6 453.3,701.8 453.2,700.9 453.2,700.0 453.1,699.2 453.0,698.3 452.9,697.5 452.8,696.6 452.8,695.7 452.7,694.8 452.6,694.0 452.5,693.1 452.4,692.2 452.3,691.3 452.3,690.4 452.2,689.6 452.1,688.7 452.0,687.8 451.9,686.9 451.8,686.0 451.8,685.1 451.7,684.2 451.6,683.3 451.5,682.4 451.4,681.5 451.3,680.6 451.3,679.7 451.2,678.8 451.1,677.9 451.0,677.0 450.9,676.1 450.8,675.2 450.7,674.3 450.7,673.3 450.6,672.4 450.5,671.5 450.4,670.6 450.3,669.7 450.2,668.8 450.2,667.9 450.1,666.9 450.0,666.0 449.9,665.1 449.8,664.2 449.7,663.3 449.6,662.3 449.5,661.4 449.5,660.5 449.4,659.6 449.3,658.7 449.2,657.7 449.1,656.8 449.0,655.9 448.9,655.0 448.9,654.0 448.8,653.1 448.7,652.2 448.6,651.3 448.5,650.3 448.4,649.4 448.3,648.5 448.3,647.6 448.2,646.7 448.1,645.7 448.0,644.8 447.9,643.9 447.8,643.0 447.7,642.1 447.6,641.1 447.6,640.2 447.5,639.3 447.4,638.4 447.3,637.5 447.2,636.6 447.1,635.7 447.1,634.7 447.0,633.8 446.9,632.9 446.8,632.0 446.7,631.1 446.6,630.2 446.5,629.3 446.5,628.4 446.4,627.5 446.3,626.6 446.2,625.7 446.1,624.8 446.0,623.9 446.0,623.0 445.9,622.1 445.8,621.2 445.7,620.3 445.6,619.4 445.5,618.6 445.5,617.7 445.4,616.8 445.3,615.9 445.2,615.0 445.1,614.2 445.0,613.3 445.0,612.4 444.9,611.5 444.8,610.7 444.7,609.8 444.6,609.0 444.6,608.1 444.5,607.2 444.4,606.4 444.3,605.5 444.2,604.7 444.2,603.8 444.1,603.0 444.0,602.1 443.9,601.3 443.8,600.5 443.8,599.6 443.7,598.8 443.6,598.0 443.5,597.2 443.5,596.3 443.4,595.5 443.3,594.7 443.2,593.9 443.2,593.1 443.1,592.3 443.0,591.5 442.9,590.7 442.9,589.9 442.8,589.1 442.7,588.3 442.6,587.6 442.6,586.8 442.5,586.0 442.4,585.2 442.3,584.5 442.3,583.7 442.2,582.9 442.1,582.2 442.1,581.4 442.0,580.7 441.9,580.0 441.9,579.2 441.8,578.5 441.7,577.8 441.6,577.0 441.6,576.3 441.5,575.6 441.4,574.9 441.4,574.2 441.3,573.5 441.2,572.8 441.2,572.1 441.1,571.4 441.1,570.7 441.0,570.0 440.9,569.4 440.9,568.7 440.8,568.0 440.7,567.4 440.7,566.7 440.6,566.1 440.6,565.4 440.5,564.8 440.4,564.2 440.4,563.5 440.3,562.9 440.3,562.3 440.2,561.7 440.2,561.1 440.1,560.5 440.0,559.9 440.0,559.3 439.9,558.7 439.9,558.1 439.8,557.6 439.8,557.0 439.7,556.4 439.7,555.9 439.6,555.3 439.6,554.8 439.5,554.3 439.5,553.7 439.4,553.2 439.4,552.7 439.3,552.2 439.3,551.7 439.2,551.2 439.2,550.7 439.1,550.2 439.1,549.7 439.0,549.3 439.0,548.8 439.0,548.3 438.9,547.9 438.9,547.5 438.8,547.0 438.8,546.6 438.8,546.2 438.7,545.7 438.7,545.3 438.6,544.9 438.6,544.5 438.6,544.2 438.5,543.8 438.5,543.4 438.4,543.4 438.2,543.4 438.1,543.4 437.9,543.5 437.8,543.5 437.6,543.5 437.5,543.5 437.3,543.5 437.2,543.5 437.0,543.5 436.9,543.6 436.7,543.6 436.6,543.6 436.4,543.6 436.3,543.6 436.1,543.6 435.9,543.6 435.8,543.6 435.6,543.7 435.4,543.7 435.2,543.7 435.0,543.7 434.8,543.7 434.6,543.7 434.4,543.8 434.2,543.8 434.0,543.8 433.8,543.8 433.6,543.8 433.4,543.8 433.1,543.9 432.9,543.9 432.7,543.9 432.4,543.9 432.2,544.0 431.9,544.0 431.6,544.0 431.3,544.0 431.1,544.1 430.8,544.1 430.5,544.1 430.2,544.2 429.9,544.2 429.5,544.2 429.2,544.3 428.9,544.3 428.5,544.3 428.2,544.4 427.8,544.4 427.4,544.5 427.0,544.5 426.7,544.6 426.2,544.6 425.8,544.7 425.4,544.7 425.0,544.8 424.5,544.8 424.1,544.9 423.6,544.9 423.1,545.0 422.7,545.1 422.2,545.1 421.7,545.2 421.1,545.3 420.6,545.3 420.1,545.4 419.5,545.5 418.9,545.6 418.3,545.7 417.7,545.8 417.1,545.8 416.5,545.9 415.8,546.0 415.2,546.1 414.5,546.2 413.8,546.3 413.1,546.4 412.4,546.5 411.6,546.7 410.9,546.8 410.1,546.9 409.4,547.0 408.6,547.1 407.8,547.2 407.0,547.4 406.2,547.5 405.4,547.6 404.6,547.7 403.7,547.9 402.9,548.0 402.0,548.1 401.2,548.3 400.3,548.4 399.4,548.5 398.5,548.7 397.7,548.8 396.8,548.9 395.9,549.1 395.0,549.2 394.0,549.4 393.1,549.5 392.2,549.7 391.3,549.8 390.4,549.9 389.4,550.1 388.5,550.2 387.6,550.4 386.7,550.5 385.7,550.7 384.8,550.8 383.8,550.9 382.9,551.1 382.0,551.2 381.0,551.4 380.1,551.5 379.2,551.6 378.2,551.8 377.3,551.9 376.4,552.1 375.5,552.2 374.5,552.3 373.6,552.5 372.7,552.6 371.8,552.7 370.9,552.9 370.0,553.0 369.1,553.1 368.2,553.3 367.3,553.4 366.4,553.5 365.6,553.6 364.7,553.8 363.8,553.9 363.0,554.0 362.2,554.1 361.3,554.2 360.5,554.3 359.6,554.5 358.8,554.6 357.9,554.7 357.1,554.8 356.3,554.9 355.4,555.0 354.6,555.2 353.7,555.3 352.9,555.4 352.0,555.5 351.2,555.6 350.4,555.7 349.5,555.8 348.7,555.9 347.8,556.1 347.0,556.2 346.1,556.3 345.3,556.4 344.4,556.5 343.6,556.6 342.8,556.7 341.9,556.8 341.1,556.9 340.2,557.1 339.4,557.2 338.5,557.3 337.7,557.4 336.9,557.5 336.0,557.6 335.2,557.7 334.3,557.8 333.5,557.9 332.6,558.0 331.8,558.1 331.0,558.2 330.1,558.3 329.3,558.5 328.4,558.6 327.6,558.7 326.7,558.8 325.9,558.9 325.1,559.0 324.2,559.1 323.4,559.2 322.5,559.3 321.7,559.4 320.8,559.5 320.0,559.6 319.1,559.7 318.3,559.8 317.5,559.9 316.6,560.0 315.8,560.1 314.9,560.2 314.1,560.3 313.2,560.4 312.4,560.4 311.6,560.5 310.7,560.6 309.9,560.7 309.0,560.8 308.2,560.9 307.3,561.0 306.5,561.1 305.7,561.2 304.8,561.3 304.0,561.4 303.1,561.5 302.3,561.6 301.4,561.6 300.6,561.7 299.7,561.8 298.9,561.9 298.0,562.0 297.1,562.1 296.3,562.2 295.4,562.2 294.6,562.3 293.7,562.4 292.8,562.5 292.0,562.6 291.1,562.7 290.3,562.8 289.4,562.8 288.5,562.9 287.7,563.0 286.8,563.1 285.9,563.2 285.1,563.2 284.2,563.3 283.4,563.4 282.5,563.5 281.6,563.6 280.8,563.6 279.9,563.7 279.1,563.8 278.2,563.9 277.3,564.0 276.5,564.0 275.6,564.1 274.8,564.2 273.9,564.3 273.1,564.3 272.2,564.4 271.4,564.5 270.5,564.5 269.7,564.6 268.8,564.7 268.0,564.8 267.1,564.8 266.3,564.9 265.5,565.0 264.6,565.0 263.8,565.1 263.0,565.2 262.1,565.2 261.3,565.3 260.5,565.4 259.7,565.4 258.8,565.5 258.0,565.6 257.2,565.6 256.4,565.7 255.6,565.8 254.8,565.8 254.0,565.9 253.2,566.0 252.4,566.0 251.6,566.1 250.8,566.1 250.0,566.2 249.2,566.3 248.4,566.3 247.7,566.4 246.9,566.4 246.1,566.5 245.3,566.5 244.5,566.6 243.8,566.7 243.0,566.7 242.2,566.8 241.5,566.8 240.7,566.9 239.9,566.9 239.2,567.0 238.4,567.0 237.7,567.1 236.9,567.1 236.2,567.2 235.4,567.2 234.7,567.3 233.9,567.3 233.2,567.4 232.4,567.4 231.7,567.5 230.9,567.5 230.2,567.6 229.5,567.6 228.7,567.7 228.0,567.7 227.3,567.8 226.5,567.8 225.8,567.8 225.1,567.9 224.3,567.9 223.6,568.0 222.9,568.0 222.2,568.1 221.5,568.1 220.7,568.1 220.0,568.2 219.3,568.2 218.6,568.3 217.9,568.3 217.2,568.3 216.5,568.4 215.8,568.4 215.0,568.4 214.3,568.5 213.6,568.5 212.9,568.6 212.2,568.6 211.5,568.6 210.8,568.7 210.1,568.7 209.4,568.7 208.8,568.8 208.1,568.8 207.4,568.8 206.7,568.9 206.0,568.9 205.3,568.9 204.6,569.0 203.9,569.0 203.2,569.0 202.6,569.0 201.9,569.1 201.2,569.1 200.5,569.1 199.8,569.2 199.2,569.2 198.5,569.2 197.8,569.2 197.2,569.3 196.5,569.3 195.8,569.3 195.2,569.3 194.5,569.4 193.9,569.4 193.2,569.4 192.6,569.4 191.9,569.5 191.3,569.5 190.7,569.5 190.0,569.5 189.4,569.5 188.7,569.6 188.1,569.6 187.5,569.6 186.8,569.6 186.2,569.6 185.6,569.7 184.9,569.7 184.3,569.7 183.7,569.7 183.1,569.7 182.4,569.7 181.8,569.8 181.2,569.8 180.6,569.8 180.0,569.8 179.3,569.8 178.7,569.8 178.1,569.8 177.5,569.9 176.9,569.9 176.3,569.9 175.6,569.9 175.0,569.9 174.4,569.9 173.8,569.9 173.2,569.9 172.6,569.9 171.9,569.9 171.3,569.9 170.7,570.0 170.1,570.0 169.5,570.0 168.9,570.0 168.3,570.0 167.6,570.0 167.0,570.0 166.4,570.0 165.8,570.0 165.2,570.0 164.5,570.0 163.9,570.0 163.3,570.0 162.7,570.0 162.0,570.0 161.4,570.0 160.8,570.0 160.2,570.0 159.5,570.0 158.9,570.0 158.3,570.0 157.6,570.0 157.0,570.0 156.4,570.0 155.7,570.0 155.1,570.0 154.5,570.0 153.9,570.0 153.2,570.0 152.6,569.9 152.0,569.9 151.4,569.9 150.7,569.9 150.1,569.9 149.5,569.9 148.9,569.9 148.2,569.9 147.6,569.9 147.0,569.8 146.4,569.8 145.8,569.8 145.1,569.8 144.5,569.8 143.9,569.8 143.3,569.8 142.6,569.7 142.0,569.7 141.4,569.7 140.8,569.7 140.2,569.7 139.5,569.7 138.9,569.6 138.3,569.6 137.7,569.6 137.0,569.6 136.4,569.6 135.8,569.5 135.1,569.5 134.5,569.5 133.9,569.5 133.3,569.5 132.6,569.4 132.0,569.4 131.4,569.4 130.7,569.4 130.1,569.3 129.5,569.3 128.8,569.3 128.2,569.3 127.6,569.2 126.9,569.2 126.3,569.2 125.6,569.2 125.0,569.1 124.3,569.1 123.7,569.1 123.1,569.1 122.4,569.0 121.8,569.0 121.1,569.0 120.5,569.0 119.8,568.9 119.1,568.9 118.5,568.9 117.8,568.9 117.2,568.8 116.5,568.8 115.8,568.8 115.1,568.7 114.5,568.7 113.8,568.7 113.0,568.6 112.3,568.6 111.6,568.6 110.8,568.5 110.1,568.5 109.3,568.5 108.6,568.4 107.8,568.4 107.0,568.4 106.2,568.3 105.4,568.3 104.7,568.2 103.9,568.2 103.1,568.2 102.2,568.1 101.4,568.1 100.6,568.0 99.8,568.0 99.0,567.9 98.2,567.9 97.4,567.9 96.6,567.8 95.8,567.8 95.0,567.7 94.1,567.7 93.3,567.6 92.5,567.6 91.7,567.5 90.9,567.5 90.2,567.5 89.4,567.4 88.6,567.4 87.8,567.3 87.0,567.3 86.3,567.2 85.5,567.2 84.8,567.1 84.1,567.1 83.3,567.1 82.6,567.0 81.9,567.0 81.2,566.9 80.5,566.9 79.8,566.9 79.2,566.8 78.5,566.8 77.9,566.8 77.3,566.7 76.7,566.7 76.1,566.6 75.5,566.6 74.9,566.6 74.4,566.6 73.8,566.5 73.3,566.5 72.8,566.5 72.4,566.4 71.9,566.4 71.5,566.4 71.0,566.4 70.6,566.3 70.3,566.3 69.9,566.3 69.9,566.5 70.0,566.6 70.0,566.8 70.0,567.0 70.0,567.2 70.1,567.4 70.1,567.6 70.1,567.8 70.2,568.0 70.2,568.2 70.2,568.4 70.3,568.6 70.3,568.8 70.3,569.0 70.4,569.3 70.4,569.5 70.4,569.7 70.5,570.0 70.5,570.2 70.6,570.4 70.6,570.7 70.6,570.9 70.7,571.2 70.7,571.4 70.8,571.7 70.8,572.0 70.9,572.2 70.9,572.5 70.9,572.8 71.0,573.1 71.0,573.3 71.1,573.6 71.1,573.9 71.2,574.2 71.2,574.5 71.3,574.8 71.3,575.1 71.4,575.4 71.4,575.7 71.5,576.0 71.5,576.3 71.6,576.7 71.6,577.0 71.7,577.3 71.7,577.6 71.8,578.0 71.8,578.3 71.9,578.6 71.9,579.0 72.0,579.3 72.1,579.7 72.1,580.0 72.2,580.4 72.2,580.7 72.3,581.1 72.3,581.4 72.4,581.8 72.5,582.2 72.5,582.5 72.6,582.9 72.6,583.3 72.7,583.6 72.8,584.0 72.8,584.4 72.9,584.8 72.9,585.2 73.0,585.5 73.1,585.9 73.1,586.3 73.2,586.7 73.2,587.1 73.3,587.5 73.4,587.9 73.4,588.3 73.5,588.7 73.6,589.1 73.6,589.5 73.7,590.0 73.7,590.4 73.8,590.8 73.9,591.2 73.9,591.6 74.0,592.1 74.1,592.5 74.1,592.9 74.2,593.3 74.3,593.8 74.3,594.2 74.4,594.6 74.5,595.1 74.5,595.5 74.6,596.0 74.7,596.4 74.7,596.8 74.8,597.3 74.9,597.7 74.9,598.2 75.0,598.6 75.1,599.1 75.1,599.5 75.2,600.0 75.3,600.5 75.3,600.9 75.4,601.4 75.5,601.9 75.5,602.3 75.6,602.8 75.7,603.3 75.8,603.8 75.8,604.3 75.9,604.8 76.0,605.3 76.0,605.8 76.1,606.3 76.2,606.8 76.3,607.4 76.3,607.9 76.4,608.4 76.5,608.9 76.6,609.5 76.7,610.0 76.7,610.6 76.8,611.1 76.9,611.7 77.0,612.2 77.0,612.8 77.1,613.3 77.2,613.9 77.3,614.4 77.4,615.0 77.4,615.6 77.5,616.1 77.6,616.7 77.7,617.3 77.8,617.9 77.9,618.5 77.9,619.0 78.0,619.6 78.1,620.2 78.2,620.8 78.3,621.4 78.4,622.0 78.4,622.6 78.5,623.2 78.6,623.8 78.7,624.4 78.8,625.0 78.9,625.6 79.0,626.2 79.0,626.8 79.1,627.4 79.2,628.0 79.3,628.7 79.4,629.3 79.5,629.9 79.6,630.5 79.6,631.1 79.7,631.7 79.8,632.3 79.9,633.0 80.0,633.6 80.1,634.2 80.2,634.8 80.3,635.4 80.3,636.1 80.4,636.7 80.5,637.3 80.6,637.9 80.7,638.6 80.8,639.2 80.9,639.8 80.9,640.4 81.0,641.0 81.1,641.7 81.2,642.3 81.3,642.9 81.4,643.5 81.5,644.1 81.6,644.8 81.6,645.4 81.7,646.0 81.8,646.6 81.9,647.2 82.0,647.8 82.1,648.4 82.2,649.0 82.2,649.7 82.3,650.3 82.4,650.9 82.5,651.5 82.6,652.1 82.7,652.7 82.8,653.3 82.8,653.9 82.9,654.5 83.0,655.1 83.1,655.7 83.2,656.3 83.3,656.8 83.3,657.4 83.4,658.0 83.5,658.6 83.6,659.2 83.7,659.8 83.7,660.3 83.8,660.9 83.9,661.5 84.0,662.1 84.1,662.7 84.2,663.3 84.2,663.9 84.3,664.5 84.4,665.1 84.5,665.6 84.6,666.2 84.6,666.8 84.7,667.4 84.8,668.0 84.9,668.6 85.0,669.2 85.0,669.8 85.1,670.4 85.2,671.0 85.3,671.6 85.4,672.2 85.5,672.8 85.5,673.4 85.6,674.0 85.7,674.6 85.8,675.2 85.9,675.8 85.9,676.4 86.0,677.0 86.1,677.6 86.2,678.2 86.3,678.8 86.3,679.4 86.4,680.0 86.5,680.6 86.6,681.2 86.7,681.8 86.8,682.4 86.8,683.0 86.9,683.6 87.0,684.2 87.1,684.8 87.2,685.4 87.2,686.0 87.3,686.6 87.4,687.2 87.5,687.8 87.6,688.4 87.6,689.0 87.7,689.6 87.8,690.2 87.9,690.8 88.0,691.4 88.1,691.9 88.1,692.5 88.2,693.1 88.3,693.7 88.4,694.3 88.5,694.9 88.5,695.5 88.6,696.1 88.7,696.7 88.8,697.2 88.9,697.8 88.9,698.4 89.0,699.0 89.1,699.6 89.2,700.1 89.3,700.7 89.3,701.3 89.4,701.9 89.5,702.5 89.6,703.0 89.7,703.6 89.8,704.2 89.8,704.7 89.9,705.3 90.0,705.9 90.1,706.4 90.2,707.0 90.2,707.5 90.3,708.1 90.4,708.7 90.5,709.2 90.6,709.8 90.6,710.3 90.7,710.9 90.8,711.4 90.9,712.0 91.0,712.5 91.1,713.0 91.1,713.6 91.2,714.1 91.3,714.7 91.4,715.2 91.5,715.7 91.5,716.2 91.6,716.8 91.7,717.3 91.8,717.8 91.9,718.3 91.9,718.9 92.0,719.4 92.1,719.9 92.2,720.4 92.3,720.9 92.4,721.4 92.4,721.9 92.5,722.5 92.6,723.0 92.7,723.5 92.8,724.0 92.9,724.5 92.9,725.0 93.0,725.5 93.1,726.0 93.2,726.5 93.3,727.0 93.4,727.5 93.4,728.0 93.5,728.5 93.6,729.0 93.7,729.5 93.8,729.9 93.9,730.4 94.0,730.9 94.0,731.4 94.1,731.9 94.2,732.4 94.3,732.9 94.4,733.3 94.5,733.8 94.6,734.3 94.6,734.8 94.7,735.3 94.8,735.7 94.9,736.2 95.0,736.7 95.1,737.2 95.1,737.6 95.2,738.1 95.3,738.6 95.4,739.0 95.5,739.5 95.6,740.0 95.7,740.4 95.7,740.9 95.8,741.4 95.9,741.8 96.0,742.3 96.1,742.7 96.2,743.2 96.2,743.7 96.3,744.1 96.4,744.6 96.5,745.0 96.6,745.5 96.7,745.9 96.7,746.4 96.8,746.8 96.9,747.3 97.0,747.7 97.1,748.2 97.2,748.6 97.2,749.1 97.3,749.5 97.4,750.0 97.5,750.4 97.6,750.9 97.6,751.3 97.7,751.7 97.8,752.2 97.9,752.6 98.0,753.1 98.0,753.5 98.1,753.9 98.2,754.4 98.3,754.8 98.4,755.2 98.4,755.7 98.5,756.1 98.6,756.5 98.7,757.0 98.7,757.4 98.8,757.8 98.9,758.3 99.0,758.7 99.0,759.1 99.1,759.5 99.2,760.0 99.3,760.4 99.3,760.8 99.4,761.2 99.5,761.7 99.5,762.1 99.6,762.5 99.7,762.9 99.8,763.4 99.8,763.8 99.9,764.2 100.0,764.6 100.0,765.0 100.1,765.5 100.2,765.9 100.2,766.3 100.3,766.7 100.4,767.2 100.5,767.6 100.5,768.0 100.6,768.5 100.7,768.9 100.7,769.3 100.8,769.8 100.9,770.2 100.9,770.7 101.0,771.1 101.1,771.5 101.2,772.0 101.2,772.4 101.3,772.9 101.4,773.3 101.4,773.7 101.5,774.2 101.6,774.6 101.6,775.1 101.7,775.5 101.8,775.9 101.8,776.4 101.9,776.8 102.0,777.3 102.0,777.7 102.1,778.1 102.2,778.6 102.2,779.0 102.3,779.5 102.4,779.9 102.4,780.3 102.5,780.8 102.6,781.2 102.6,781.6 102.7,782.0 102.8,782.5 102.8,782.9 102.9,783.3 103.0,783.7 103.0,784.2 103.1,784.6 103.2,785.0 103.2,785.4 103.3,785.8 103.3,786.2 103.4,786.6 103.5,787.0 103.5,787.5 103.6,787.9 103.6,788.2 103.7,788.6 103.8,789.0 103.8,789.4 103.9,789.8 103.9,790.2 104.0,790.6 104.0,790.9 104.1,791.3 104.2,791.7 104.2,792.1 104.3,792.4 104.3,792.8 104.4,793.1 104.4,793.5 104.5,793.8 104.5,794.2 104.6,794.5 104.6,794.8 104.7,795.2 104.7,795.5 104.8,795.8 104.8,796.1 104.9,796.5 104.9,796.8 105.0,797.1 105.0,797.4 105.0,797.7 105.1,797.9 105.1,798.2 105.2,798.5 105.2,798.8 105.3,799.0 105.3,799.3 105.3,799.6 105.4,799.8 105.4,800.1 105.4,800.3 105.5,800.5 105.5,800.8 105.5,801.0 105.6,801.2 105.6,801.4 105.6,801.6 105.7,801.8 105.7,802.0 Z"/></clipPath>
<path d="M105.7,802.0 106.0,802.0 106.3,802.1 106.6,802.1 106.9,802.2 107.3,802.2 107.6,802.3 108.0,802.4 108.5,802.4 108.9,802.5 109.3,802.6 109.8,802.6 110.3,802.7 110.8,802.8 111.3,802.9 111.8,802.9 112.3,803.0 112.8,803.1 113.4,803.2 114.0,803.3 114.5,803.4 115.1,803.4 115.7,803.5 116.3,803.6 116.9,803.7 117.5,803.8 118.1,803.9 118.7,803.9 119.3,804.0 119.9,804.1 120.5,804.2 121.1,804.3 121.8,804.3 122.4,804.4 123.0,804.5 123.6,804.5 124.2,804.6 124.8,804.6 125.4,804.7 126.0,804.8 126.6,804.8 127.2,804.8 127.8,804.9 128.5,804.9 129.1,805.0 129.7,805.0 130.4,805.1 131.0,805.1 131.7,805.1 132.4,805.2 133.0,805.2 133.7,805.2 134.4,805.3 135.1,805.3 135.7,805.3 136.4,805.4 137.1,805.4 137.8,805.4 138.5,805.5 139.2,805.5 139.9,805.5 140.6,805.5 141.3,805.6 142.0,805.6 142.7,805.6 143.4,805.6 144.0,805.7 144.7,805.7 145.4,805.7 146.1,805.7 146.8,805.8 147.5,805.8 148.2,805.8 148.9,805.8 149.6,805.9 150.2,805.9 150.9,805.9 151.6,805.9 152.2,805.9 152.9,806.0 153.6,806.0 154.2,806.0 154.9,806.0 155.6,806.0 156.3,806.1 156.9,806.1 157.6,806.1 158.3,806.1 158.9,806.1 159.6,806.2 160.3,806.2 160.9,806.2 161.6,806.2 162.3,806.2 162.9,806.2 163.6,806.3 164.3,806.3 164.9,806.3 165.6,806.3 166.3,806.3 166.9,806.3 167.6,806.3 168.3,806.3 169.0,806.3 169.6,806.4 170.3,806.4 171.0,806.4 171.6,806.4 172.3,806.4 173.0,806.4 173.6,806.4 174.3,806.4 175.0,806.4 175.6,806.4 176.3,806.4 177.0,806.4 177.6,806.4 178.3,806.4 179.0,806.4 179.6,806.4 180.3,806.4 181.0,806.4 181.6,806.4 182.3,806.4 183.0,806.4 183.7,806.3 184.3,806.3 185.0,806.3 185.7,806.3 186.3,806.3 187.0,806.3 187.7,806.3 188.3,806.3 189.0,806.3 189.7,806.2 190.3,806.2 191.0,806.2 191.7,806.2 192.3,806.2 193.0,806.2 193.7,806.1 194.3,806.1 195.0,806.1 195.7,806.1 196.4,806.1 197.0,806.0 197.7,806.0 198.4,806.0 199.0,806.0 199.7,806.0 200.4,805.9 201.0,805.9 201.7,805.9 202.4,805.9 203.0,805.9 203.7,805.8 204.4,805.8 205.0,805.8 205.7,805.8 206.4,805.7 207.0,805.7 207.7,805.7 208.4,805.7 209.0,805.6 209.7,805.6 210.4,805.6 211.1,805.5 211.7,805.5 212.4,805.5 213.1,805.5 213.7,805.4 214.4,805.4 215.1,805.4 215.7,805.3 216.4,805.3 217.1,805.3 217.7,805.2 218.4,805.2 219.1,805.2 219.7,805.1 220.4,805.1 221.1,805.1 221.7,805.0 222.4,805.0 223.1,804.9 223.8,804.9 224.4,804.9 225.1,804.8 225.8,804.8 226.4,804.7 227.1,804.7 227.8,804.7 228.4,804.6 229.1,804.6 229.8,804.5 230.4,804.5 231.1,804.4 231.8,804.4 232.4,804.3 233.1,804.3 233.8,804.2 234.4,804.2 235.1,804.1 235.7,804.1 236.4,804.0 237.1,804.0 237.7,803.9 238.4,803.8 239.1,803.8 239.7,803.7 240.4,803.7 241.1,803.6 241.7,803.6 242.4,803.5 243.1,803.4 243.7,803.4 244.4,803.3 245.1,803.3 245.8,803.2 246.4,803.1 247.1,803.1 247.8,803.0 248.5,803.0 249.1,802.9 249.8,802.8 250.5,802.8 251.2,802.7 251.9,802.7 252.6,802.6 253.3,802.5 254.0,802.5 254.7,802.4 255.4,802.4 256.2,802.3 256.9,802.2 257.6,802.2 258.4,802.1 259.1,802.1 259.9,802.0 260.6,801.9 261.4,801.9 262.1,801.8 262.9,801.7 263.6,801.7 264.4,801.6 265.1,801.5 265.9,801.5 266.6,801.4 267.4,801.4 268.1,801.3 268.9,801.2 269.6,801.2 270.4,801.1 271.1,801.0 271.8,801.0 272.6,800.9 273.3,800.8 274.0,800.8 274.7,800.7 275.4,800.6 276.1,800.6 276.7,800.5 277.4,800.5 278.1,800.4 278.7,800.3 279.4,800.3 280.0,800.2 280.6,800.1 281.2,800.1 281.8,800.0 282.3,800.0 282.9,799.9 283.4,799.9 283.9,799.8 284.5,799.8 285.0,799.7 285.4,799.7 285.9,799.6 286.4,799.6 286.9,799.5 287.3,799.5 287.8,799.4 288.2,799.4 288.7,799.3 289.2,799.3 289.6,799.2 290.1,799.2 290.5,799.1 291.0,799.1 291.5,799.0 291.9,799.0 292.4,798.9 292.9,798.8 293.4,798.8 293.9,798.7 294.5,798.6 295.0,798.6 295.6,798.5 296.2,798.4 296.7,798.3 297.4,798.2 298.0,798.1 298.6,798.0 299.3,797.9 300.0,797.8 300.7,797.7 301.5,797.6 302.3,797.4 303.1,797.3 303.9,797.1 304.7,797.0 305.6,796.8 306.5,796.7 307.4,796.5 308.3,796.3 309.3,796.2 310.2,796.0 311.2,795.8 312.2,795.6 313.1,795.5 314.1,795.3 315.1,795.1 316.1,794.9 317.1,794.7 318.1,794.5 319.1,794.3 320.0,794.1 321.0,794.0 322.0,793.8 322.9,793.6 323.9,793.4 324.8,793.2 325.7,793.1 326.6,792.9 327.5,792.7 328.4,792.5 329.2,792.4 330.0,792.2 330.8,792.1 331.6,791.9 332.3,791.8 333.0,791.6 333.7,791.5 334.3,791.4 335.0,791.3 335.5,791.1 336.1,791.0 336.6,790.9 337.2,790.8 337.6,790.7 338.1,790.6 338.6,790.5 339.0,790.4 339.4,790.3 339.8,790.2 340.2,790.1 340.6,790.0 341.0,790.0 341.3,789.9 341.7,789.8 342.0,789.7 342.4,789.6 342.7,789.6 343.1,789.5 343.4,789.4 343.8,789.3 344.1,789.2 344.4,789.2 344.8,789.1 345.2,789.0 345.5,788.9 345.9,788.9 346.3,788.8 346.7,788.7 347.1,788.6 347.6,788.5 348.0,788.5 348.5,788.4 349.0,788.3 349.5,788.2 350.0,788.1 350.5,788.0 351.1,787.9 351.7,787.8 352.3,787.7 352.9,787.6 353.5,787.6 354.1,787.5 354.7,787.4 355.3,787.3 356.0,787.2 356.6,787.1 357.3,787.0 357.9,786.9 358.6,786.8 359.2,786.7 359.9,786.6 360.6,786.5 361.3,786.4 362.0,786.4 362.6,786.3 363.3,786.2 364.0,786.1 364.7,786.0 365.4,785.9 366.1,785.8 366.8,785.7 367.5,785.6 368.2,785.5 368.9,785.4 369.6,785.3 370.3,785.2 371.0,785.1 371.6,785.0 372.3,784.9 373.0,784.8 373.7,784.7 374.3,784.6 375.0,784.5 375.7,784.4 376.3,784.3 377.0,784.2 377.6,784.1 378.3,784.0 378.9,783.9 379.6,783.8 380.3,783.7 380.9,783.5 381.6,783.4 382.2,783.3 382.9,783.2 383.6,783.1 384.2,783.0 384.9,782.9 385.5,782.8 386.2,782.7 386.8,782.6 387.5,782.4 388.2,782.3 388.8,782.2 389.5,782.1 390.1,782.0 390.8,781.9 391.4,781.7 392.1,781.6 392.8,781.5 393.4,781.4 394.1,781.3 394.7,781.2 395.4,781.0 396.1,780.9 396.7,780.8 397.4,780.7 398.0,780.6 398.7,780.4 399.3,780.3 400.0,780.2 400.7,780.1 401.3,780.0 402.0,779.8 402.6,779.7 403.3,779.6 403.9,779.5 404.6,779.3 405.3,779.2 405.9,779.1 406.6,779.0 407.2,778.8 407.9,778.7 408.6,778.6 409.2,778.5 409.9,778.3 410.5,778.2 411.2,778.1 411.8,778.0 412.5,777.8 413.2,777.7 413.8,777.6 414.5,777.4 415.1,777.3 415.8,777.2 416.4,777.0 417.1,776.9 417.8,776.8 418.4,776.6 419.1,776.5 419.7,776.4 420.4,776.2 421.1,776.1 421.7,775.9 422.4,775.8 423.0,775.6 423.7,775.5 424.3,775.3 425.0,775.2 425.7,775.0 426.3,774.9 427.0,774.7 427.7,774.6 428.4,774.4 429.1,774.2 429.8,774.1 430.5,773.9 431.3,773.7 432.0,773.5 432.7,773.4 433.4,773.2 434.2,773.0 434.9,772.8 435.6,772.6 436.3,772.4 437.1,772.3 437.8,772.1 438.5,771.9 439.2,771.7 439.9,771.5 440.6,771.3 441.3,771.2 441.9,771.0 442.6,770.8 443.3,770.6 443.9,770.5 444.5,770.3 445.2,770.1 445.8,770.0 446.4,769.8 446.9,769.6 447.5,769.5 448.0,769.3 448.6,769.2 449.1,769.1 449.5,768.9 450.0,768.8 450.4,768.7 450.9,768.6 451.3,768.4 451.7,768.3 452.1,768.2 452.4,768.1 452.8,768.0 453.2,767.9 453.5,767.8 453.8,767.6 454.1,767.5 454.4,767.4 454.7,767.3 455.0,767.2 455.2,767.2 455.5,767.1 455.7,767.0 456.0,766.9 456.2,766.8 456.4,766.7 456.6,766.6 456.8,766.6 457.0,766.5 457.2,766.4 457.4,766.3 457.6,766.3 457.8,766.2 457.9,766.1 458.1,766.1 458.2,766.0 458.4,765.9 458.5,765.9 458.7,765.8 458.8,765.8 458.9,765.7 459.1,765.7 459.2,765.6 459.3,765.6 459.3,765.2 459.2,764.8 459.2,764.5 459.2,764.1 459.1,763.7 459.1,763.3 459.0,762.8 459.0,762.4 459.0,762.0 458.9,761.5 458.9,761.1 458.8,760.7 458.8,760.2 458.8,759.7 458.7,759.3 458.7,758.8 458.6,758.3 458.6,757.8 458.5,757.3 458.5,756.8 458.4,756.3 458.4,755.8 458.3,755.3 458.3,754.7 458.2,754.2 458.2,753.7 458.1,753.1 458.1,752.6 458.0,752.0 458.0,751.4 457.9,750.9 457.9,750.3 457.8,749.7 457.8,749.1 457.7,748.5 457.6,747.9 457.6,747.3 457.5,746.7 457.5,746.1 457.4,745.5 457.4,744.8 457.3,744.2 457.2,743.6 457.2,742.9 457.1,742.3 457.1,741.6 457.0,741.0 456.9,740.3 456.9,739.6 456.8,739.0 456.7,738.3 456.7,737.6 456.6,736.9 456.6,736.2 456.5,735.5 456.4,734.8 456.4,734.1 456.3,733.4 456.2,732.7 456.2,732.0 456.1,731.2 456.0,730.5 455.9,729.8 455.9,729.0 455.8,728.3 455.7,727.6 455.7,726.8 455.6,726.1 455.5,725.3 455.5,724.5 455.4,723.8 455.3,723.0 455.2,722.2 455.2,721.4 455.1,720.7 455.0,719.9 454.9,719.1 454.9,718.3 454.8,717.5 454.7,716.7 454.6,715.9 454.6,715.1 454.5,714.3 454.4,713.5 454.3,712.7 454.3,711.8 454.2,711.0 454.1,710.2 454.0,709.4 454.0,708.5 453.9,707.7 453.8,706.9 453.7,706.0 453.6,705.2 453.6,704.3 453.5,703.5 453.4,702.6 453.3,701.8 453.2,700.9 453.2,700.0 453.1,699.2 453.0,698.3 452.9,697.5 452.8,696.6 452.8,695.7 452.7,694.8 452.6,694.0 452.5,693.1 452.4,692.2 452.3,691.3 452.3,690.4 452.2,689.6 452.1,688.7 452.0,687.8 451.9,686.9 451.8,686.0 451.8,685.1 451.7,684.2 451.6,683.3 451.5,682.4 451.4,681.5 451.3,680.6 451.3,679.7 451.2,678.8 451.1,677.9 451.0,677.0 450.9,676.1 450.8,675.2 450.7,674.3 450.7,673.3 450.6,672.4 450.5,671.5 450.4,670.6 450.3,669.7 450.2,668.8 450.2,667.9 450.1,666.9 450.0,666.0 449.9,665.1 449.8,664.2 449.7,663.3 449.6,662.3 449.5,661.4 449.5,660.5 449.4,659.6 449.3,658.7 449.2,657.7 449.1,656.8 449.0,655.9 448.9,655.0 448.9,654.0 448.8,653.1 448.7,652.2 448.6,651.3 448.5,650.3 448.4,649.4 448.3,648.5 448.3,647.6 448.2,646.7 448.1,645.7 448.0,644.8 447.9,643.9 447.8,643.0 447.7,642.1 447.6,641.1 447.6,640.2 447.5,639.3 447.4,638.4 447.3,637.5 447.2,636.6 447.1,635.7 447.1,634.7 447.0,633.8 446.9,632.9 446.8,632.0 446.7,631.1 446.6,630.2 446.5,629.3 446.5,628.4 446.4,627.5 446.3,626.6 446.2,625.7 446.1,624.8 446.0,623.9 446.0,623.0 445.9,622.1 445.8,621.2 445.7,620.3 445.6,619.4 445.5,618.6 445.5,617.7 445.4,616.8 445.3,615.9 445.2,615.0 445.1,614.2 445.0,613.3 445.0,612.4 444.9,611.5 444.8,610.7 444.7,609.8 444.6,609.0 444.6,608.1 444.5,607.2 444.4,606.4 444.3,605.5 444.2,604.7 444.2,603.8 444.1,603.0 444.0,602.1 443.9,601.3 443.8,600.5 443.8,599.6 443.7,598.8 443.6,598.0 443.5,597.2 443.5,596.3 443.4,595.5 443.3,594.7 443.2,593.9 443.2,593.1 443.1,592.3 443.0,591.5 442.9,590.7 442.9,589.9 442.8,589.1 442.7,588.3 442.6,587.6 442.6,586.8 442.5,586.0 442.4,585.2 442.3,584.5 442.3,583.7 442.2,582.9 442.1,582.2 442.1,581.4 442.0,580.7 441.9,580.0 441.9,579.2 441.8,578.5 441.7,577.8 441.6,577.0 441.6,576.3 441.5,575.6 441.4,574.9 441.4,574.2 441.3,573.5 441.2,572.8 441.2,572.1 441.1,571.4 441.1,570.7 441.0,570.0 440.9,569.4 440.9,568.7 440.8,568.0 440.7,567.4 440.7,566.7 440.6,566.1 440.6,565.4 440.5,564.8 440.4,564.2 440.4,563.5 440.3,562.9 440.3,562.3 440.2,561.7 440.2,561.1 440.1,560.5 440.0,559.9 440.0,559.3 439.9,558.7 439.9,558.1 439.8,557.6 439.8,557.0 439.7,556.4 439.7,555.9 439.6,555.3 439.6,554.8 439.5,554.3 439.5,553.7 439.4,553.2 439.4,552.7 439.3,552.2 439.3,551.7 439.2,551.2 439.2,550.7 439.1,550.2 439.1,549.7 439.0,549.3 439.0,548.8 439.0,548.3 438.9,547.9 438.9,547.5 438.8,547.0 438.8,546.6 438.8,546.2 438.7,545.7 438.7,545.3 438.6,544.9 438.6,544.5 438.6,544.2 438.5,543.8 438.5,543.4 438.4,543.4 438.2,543.4 438.1,543.4 437.9,543.5 437.8,543.5 437.6,543.5 437.5,543.5 437.3,543.5 437.2,543.5 437.0,543.5 436.9,543.6 436.7,543.6 436.6,543.6 436.4,543.6 436.3,543.6 436.1,543.6 435.9,543.6 435.8,543.6 435.6,543.7 435.4,543.7 435.2,543.7 435.0,543.7 434.8,543.7 434.6,543.7 434.4,543.8 434.2,543.8 434.0,543.8 433.8,543.8 433.6,543.8 433.4,543.8 433.1,543.9 432.9,543.9 432.7,543.9 432.4,543.9 432.2,544.0 431.9,544.0 431.6,544.0 431.3,544.0 431.1,544.1 430.8,544.1 430.5,544.1 430.2,544.2 429.9,544.2 429.5,544.2 429.2,544.3 428.9,544.3 428.5,544.3 428.2,544.4 427.8,544.4 427.4,544.5 427.0,544.5 426.7,544.6 426.2,544.6 425.8,544.7 425.4,544.7 425.0,544.8 424.5,544.8 424.1,544.9 423.6,544.9 423.1,545.0 422.7,545.1 422.2,545.1 421.7,545.2 421.1,545.3 420.6,545.3 420.1,545.4 419.5,545.5 418.9,545.6 418.3,545.7 417.7,545.8 417.1,545.8 416.5,545.9 415.8,546.0 415.2,546.1 414.5,546.2 413.8,546.3 413.1,546.4 412.4,546.5 411.6,546.7 410.9,546.8 410.1,546.9 409.4,547.0 408.6,547.1 407.8,547.2 407.0,547.4 406.2,547.5 405.4,547.6 404.6,547.7 403.7,547.9 402.9,548.0 402.0,548.1 401.2,548.3 400.3,548.4 399.4,548.5 398.5,548.7 397.7,548.8 396.8,548.9 395.9,549.1 395.0,549.2 394.0,549.4 393.1,549.5 392.2,549.7 391.3,549.8 390.4,549.9 389.4,550.1 388.5,550.2 387.6,550.4 386.7,550.5 385.7,550.7 384.8,550.8 383.8,550.9 382.9,551.1 382.0,551.2 381.0,551.4 380.1,551.5 379.2,551.6 378.2,551.8 377.3,551.9 376.4,552.1 375.5,552.2 374.5,552.3 373.6,552.5 372.7,552.6 371.8,552.7 370.9,552.9 370.0,553.0 369.1,553.1 368.2,553.3 367.3,553.4 366.4,553.5 365.6,553.6 364.7,553.8 363.8,553.9 363.0,554.0 362.2,554.1 361.3,554.2 360.5,554.3 359.6,554.5 358.8,554.6 357.9,554.7 357.1,554.8 356.3,554.9 355.4,555.0 354.6,555.2 353.7,555.3 352.9,555.4 352.0,555.5 351.2,555.6 350.4,555.7 349.5,555.8 348.7,555.9 347.8,556.1 347.0,556.2 346.1,556.3 345.3,556.4 344.4,556.5 343.6,556.6 342.8,556.7 341.9,556.8 341.1,556.9 340.2,557.1 339.4,557.2 338.5,557.3 337.7,557.4 336.9,557.5 336.0,557.6 335.2,557.7 334.3,557.8 333.5,557.9 332.6,558.0 331.8,558.1 331.0,558.2 330.1,558.3 329.3,558.5 328.4,558.6 327.6,558.7 326.7,558.8 325.9,558.9 325.1,559.0 324.2,559.1 323.4,559.2 322.5,559.3 321.7,559.4 320.8,559.5 320.0,559.6 319.1,559.7 318.3,559.8 317.5,559.9 316.6,560.0 315.8,560.1 314.9,560.2 314.1,560.3 313.2,560.4 312.4,560.4 311.6,560.5 310.7,560.6 309.9,560.7 309.0,560.8 308.2,560.9 307.3,561.0 306.5,561.1 305.7,561.2 304.8,561.3 304.0,561.4 303.1,561.5 302.3,561.6 301.4,561.6 300.6,561.7 299.7,561.8 298.9,561.9 298.0,562.0 297.1,562.1 296.3,562.2 295.4,562.2 294.6,562.3 293.7,562.4 292.8,562.5 292.0,562.6 291.1,562.7 290.3,562.8 289.4,562.8 288.5,562.9 287.7,563.0 286.8,563.1 285.9,563.2 285.1,563.2 284.2,563.3 283.4,563.4 282.5,563.5 281.6,563.6 280.8,563.6 279.9,563.7 279.1,563.8 278.2,563.9 277.3,564.0 276.5,564.0 275.6,564.1 274.8,564.2 273.9,564.3 273.1,564.3 272.2,564.4 271.4,564.5 270.5,564.5 269.7,564.6 268.8,564.7 268.0,564.8 267.1,564.8 266.3,564.9 265.5,565.0 264.6,565.0 263.8,565.1 263.0,565.2 262.1,565.2 261.3,565.3 260.5,565.4 259.7,565.4 258.8,565.5 258.0,565.6 257.2,565.6 256.4,565.7 255.6,565.8 254.8,565.8 254.0,565.9 253.2,566.0 252.4,566.0 251.6,566.1 250.8,566.1 250.0,566.2 249.2,566.3 248.4,566.3 247.7,566.4 246.9,566.4 246.1,566.5 245.3,566.5 244.5,566.6 243.8,566.7 243.0,566.7 242.2,566.8 241.5,566.8 240.7,566.9 239.9,566.9 239.2,567.0 238.4,567.0 237.7,567.1 236.9,567.1 236.2,567.2 235.4,567.2 234.7,567.3 233.9,567.3 233.2,567.4 232.4,567.4 231.7,567.5 230.9,567.5 230.2,567.6 229.5,567.6 228.7,567.7 228.0,567.7 227.3,567.8 226.5,567.8 225.8,567.8 225.1,567.9 224.3,567.9 223.6,568.0 222.9,568.0 222.2,568.1 221.5,568.1 220.7,568.1 220.0,568.2 219.3,568.2 218.6,568.3 217.9,568.3 217.2,568.3 216.5,568.4 215.8,568.4 215.0,568.4 214.3,568.5 213.6,568.5 212.9,568.6 212.2,568.6 211.5,568.6 210.8,568.7 210.1,568.7 209.4,568.7 208.8,568.8 208.1,568.8 207.4,568.8 206.7,568.9 206.0,568.9 205.3,568.9 204.6,569.0 203.9,569.0 203.2,569.0 202.6,569.0 201.9,569.1 201.2,569.1 200.5,569.1 199.8,569.2 199.2,569.2 198.5,569.2 197.8,569.2 197.2,569.3 196.5,569.3 195.8,569.3 195.2,569.3 194.5,569.4 193.9,569.4 193.2,569.4 192.6,569.4 191.9,569.5 191.3,569.5 190.7,569.5 190.0,569.5 189.4,569.5 188.7,569.6 188.1,569.6 187.5,569.6 186.8,569.6 186.2,569.6 185.6,569.7 184.9,569.7 184.3,569.7 183.7,569.7 183.1,569.7 182.4,569.7 181.8,569.8 181.2,569.8 180.6,569.8 180.0,569.8 179.3,569.8 178.7,569.8 178.1,569.8 177.5,569.9 176.9,569.9 176.3,569.9 175.6,569.9 175.0,569.9 174.4,569.9 173.8,569.9 173.2,569.9 172.6,569.9 171.9,569.9 171.3,569.9 170.7,570.0 170.1,570.0 169.5,570.0 168.9,570.0 168.3,570.0 167.6,570.0 167.0,570.0 166.4,570.0 165.8,570.0 165.2,570.0 164.5,570.0 163.9,570.0 163.3,570.0 162.7,570.0 162.0,570.0 161.4,570.0 160.8,570.0 160.2,570.0 159.5,570.0 158.9,570.0 158.3,570.0 157.6,570.0 157.0,570.0 156.4,570.0 155.7,570.0 155.1,570.0 154.5,570.0 153.9,570.0 153.2,570.0 152.6,569.9 152.0,569.9 151.4,569.9 150.7,569.9 150.1,569.9 149.5,569.9 148.9,569.9 148.2,569.9 147.6,569.9 147.0,569.8 146.4,569.8 145.8,569.8 145.1,569.8 144.5,569.8 143.9,569.8 143.3,569.8 142.6,569.7 142.0,569.7 141.4,569.7 140.8,569.7 140.2,569.7 139.5,569.7 138.9,569.6 138.3,569.6 137.7,569.6 137.0,569.6 136.4,569.6 135.8,569.5 135.1,569.5 134.5,569.5 133.9,569.5 133.3,569.5 132.6,569.4 132.0,569.4 131.4,569.4 130.7,569.4 130.1,569.3 129.5,569.3 128.8,569.3 128.2,569.3 127.6,569.2 126.9,569.2 126.3,569.2 125.6,569.2 125.0,569.1 124.3,569.1 123.7,569.1 123.1,569.1 122.4,569.0 121.8,569.0 121.1,569.0 120.5,569.0 119.8,568.9 119.1,568.9 118.5,568.9 117.8,568.9 117.2,568.8 116.5,568.8 115.8,568.8 115.1,568.7 114.5,568.7 113.8,568.7 113.0,568.6 112.3,568.6 111.6,568.6 110.8,568.5 110.1,568.5 109.3,568.5 108.6,568.4 107.8,568.4 107.0,568.4 106.2,568.3 105.4,568.3 104.7,568.2 103.9,568.2 103.1,568.2 102.2,568.1 101.4,568.1 100.6,568.0 99.8,568.0 99.0,567.9 98.2,567.9 97.4,567.9 96.6,567.8 95.8,567.8 95.0,567.7 94.1,567.7 93.3,567.6 92.5,567.6 91.7,567.5 90.9,567.5 90.2,567.5 89.4,567.4 88.6,567.4 87.8,567.3 87.0,567.3 86.3,567.2 85.5,567.2 84.8,567.1 84.1,567.1 83.3,567.1 82.6,567.0 81.9,567.0 81.2,566.9 80.5,566.9 79.8,566.9 79.2,566.8 78.5,566.8 77.9,566.8 77.3,566.7 76.7,566.7 76.1,566.6 75.5,566.6 74.9,566.6 74.4,566.6 73.8,566.5 73.3,566.5 72.8,566.5 72.4,566.4 71.9,566.4 71.5,566.4 71.0,566.4 70.6,566.3 70.3,566.3 69.9,566.3 69.9,566.5 70.0,566.6 70.0,566.8 70.0,567.0 70.0,567.2 70.1,567.4 70.1,567.6 70.1,567.8 70.2,568.0 70.2,568.2 70.2,568.4 70.3,568.6 70.3,568.8 70.3,569.0 70.4,569.3 70.4,569.5 70.4,569.7 70.5,570.0 70.5,570.2 70.6,570.4 70.6,570.7 70.6,570.9 70.7,571.2 70.7,571.4 70.8,571.7 70.8,572.0 70.9,572.2 70.9,572.5 70.9,572.8 71.0,573.1 71.0,573.3 71.1,573.6 71.1,573.9 71.2,574.2 71.2,574.5 71.3,574.8 71.3,575.1 71.4,575.4 71.4,575.7 71.5,576.0 71.5,576.3 71.6,576.7 71.6,577.0 71.7,577.3 71.7,577.6 71.8,578.0 71.8,578.3 71.9,578.6 71.9,579.0 72.0,579.3 72.1,579.7 72.1,580.0 72.2,580.4 72.2,580.7 72.3,581.1 72.3,581.4 72.4,581.8 72.5,582.2 72.5,582.5 72.6,582.9 72.6,583.3 72.7,583.6 72.8,584.0 72.8,584.4 72.9,584.8 72.9,585.2 73.0,585.5 73.1,585.9 73.1,586.3 73.2,586.7 73.2,587.1 73.3,587.5 73.4,587.9 73.4,588.3 73.5,588.7 73.6,589.1 73.6,589.5 73.7,590.0 73.7,590.4 73.8,590.8 73.9,591.2 73.9,591.6 74.0,592.1 74.1,592.5 74.1,592.9 74.2,593.3 74.3,593.8 74.3,594.2 74.4,594.6 74.5,595.1 74.5,595.5 74.6,596.0 74.7,596.4 74.7,596.8 74.8,597.3 74.9,597.7 74.9,598.2 75.0,598.6 75.1,599.1 75.1,599.5 75.2,600.0 75.3,600.5 75.3,600.9 75.4,601.4 75.5,601.9 75.5,602.3 75.6,602.8 75.7,603.3 75.8,603.8 75.8,604.3 75.9,604.8 76.0,605.3 76.0,605.8 76.1,606.3 76.2,606.8 76.3,607.4 76.3,607.9 76.4,608.4 76.5,608.9 76.6,609.5 76.7,610.0 76.7,610.6 76.8,611.1 76.9,611.7 77.0,612.2 77.0,612.8 77.1,613.3 77.2,613.9 77.3,614.4 77.4,615.0 77.4,615.6 77.5,616.1 77.6,616.7 77.7,617.3 77.8,617.9 77.9,618.5 77.9,619.0 78.0,619.6 78.1,620.2 78.2,620.8 78.3,621.4 78.4,622.0 78.4,622.6 78.5,623.2 78.6,623.8 78.7,624.4 78.8,625.0 78.9,625.6 79.0,626.2 79.0,626.8 79.1,627.4 79.2,628.0 79.3,628.7 79.4,629.3 79.5,629.9 79.6,630.5 79.6,631.1 79.7,631.7 79.8,632.3 79.9,633.0 80.0,633.6 80.1,634.2 80.2,634.8 80.3,635.4 80.3,636.1 80.4,636.7 80.5,637.3 80.6,637.9 80.7,638.6 80.8,639.2 80.9,639.8 80.9,640.4 81.0,641.0 81.1,641.7 81.2,642.3 81.3,642.9 81.4,643.5 81.5,644.1 81.6,644.8 81.6,645.4 81.7,646.0 81.8,646.6 81.9,647.2 82.0,647.8 82.1,648.4 82.2,649.0 82.2,649.7 82.3,650.3 82.4,650.9 82.5,651.5 82.6,652.1 82.7,652.7 82.8,653.3 82.8,653.9 82.9,654.5 83.0,655.1 83.1,655.7 83.2,656.3 83.3,656.8 83.3,657.4 83.4,658.0 83.5,658.6 83.6,659.2 83.7,659.8 83.7,660.3 83.8,660.9 83.9,661.5 84.0,662.1 84.1,662.7 84.2,663.3 84.2,663.9 84.3,664.5 84.4,665.1 84.5,665.6 84.6,666.2 84.6,666.8 84.7,667.4 84.8,668.0 84.9,668.6 85.0,669.2 85.0,669.8 85.1,670.4 85.2,671.0 85.3,671.6 85.4,672.2 85.5,672.8 85.5,673.4 85.6,674.0 85.7,674.6 85.8,675.2 85.9,675.8 85.9,676.4 86.0,677.0 86.1,677.6 86.2,678.2 86.3,678.8 86.3,679.4 86.4,680.0 86.5,680.6 86.6,681.2 86.7,681.8 86.8,682.4 86.8,683.0 86.9,683.6 87.0,684.2 87.1,684.8 87.2,685.4 87.2,686.0 87.3,686.6 87.4,687.2 87.5,687.8 87.6,688.4 87.6,689.0 87.7,689.6 87.8,690.2 87.9,690.8 88.0,691.4 88.1,691.9 88.1,692.5 88.2,693.1 88.3,693.7 88.4,694.3 88.5,694.9 88.5,695.5 88.6,696.1 88.7,696.7 88.8,697.2 88.9,697.8 88.9,698.4 89.0,699.0 89.1,699.6 89.2,700.1 89.3,700.7 89.3,701.3 89.4,701.9 89.5,702.5 89.6,703.0 89.7,703.6 89.8,704.2 89.8,704.7 89.9,705.3 90.0,705.9 90.1,706.4 90.2,707.0 90.2,707.5 90.3,708.1 90.4,708.7 90.5,709.2 90.6,709.8 90.6,710.3 90.7,710.9 90.8,711.4 90.9,712.0 91.0,712.5 91.1,713.0 91.1,713.6 91.2,714.1 91.3,714.7 91.4,715.2 91.5,715.7 91.5,716.2 91.6,716.8 91.7,717.3 91.8,717.8 91.9,718.3 91.9,718.9 92.0,719.4 92.1,719.9 92.2,720.4 92.3,720.9 92.4,721.4 92.4,721.9 92.5,722.5 92.6,723.0 92.7,723.5 92.8,724.0 92.9,724.5 92.9,725.0 93.0,725.5 93.1,726.0 93.2,726.5 93.3,727.0 93.4,727.5 93.4,728.0 93.5,728.5 93.6,729.0 93.7,729.5 93.8,729.9 93.9,730.4 94.0,730.9 94.0,731.4 94.1,731.9 94.2,732.4 94.3,732.9 94.4,733.3 94.5,733.8 94.6,734.3 94.6,734.8 94.7,735.3 94.8,735.7 94.9,736.2 95.0,736.7 95.1,737.2 95.1,737.6 95.2,738.1 95.3,738.6 95.4,739.0 95.5,739.5 95.6,740.0 95.7,740.4 95.7,740.9 95.8,741.4 95.9,741.8 96.0,742.3 96.1,742.7 96.2,743.2 96.2,743.7 96.3,744.1 96.4,744.6 96.5,745.0 96.6,745.5 96.7,745.9 96.7,746.4 96.8,746.8 96.9,747.3 97.0,747.7 97.1,748.2 97.2,748.6 97.2,749.1 97.3,749.5 97.4,750.0 97.5,750.4 97.6,750.9 97.6,751.3 97.7,751.7 97.8,752.2 97.9,752.6 98.0,753.1 98.0,753.5 98.1,753.9 98.2,754.4 98.3,754.8 98.4,755.2 98.4,755.7 98.5,756.1 98.6,756.5 98.7,757.0 98.7,757.4 98.8,757.8 98.9,758.3 99.0,758.7 99.0,759.1 99.1,759.5 99.2,760.0 99.3,760.4 99.3,760.8 99.4,761.2 99.5,761.7 99.5,762.1 99.6,762.5 99.7,762.9 99.8,763.4 99.8,763.8 99.9,764.2 100.0,764.6 100.0,765.0 100.1,765.5 100.2,765.9 100.2,766.3 100.3,766.7 100.4,767.2 100.5,767.6 100.5,768.0 100.6,768.5 100.7,768.9 100.7,769.3 100.8,769.8 100.9,770.2 100.9,770.7 101.0,771.1 101.1,771.5 101.2,772.0 101.2,772.4 101.3,772.9 101.4,773.3 101.4,773.7 101.5,774.2 101.6,774.6 101.6,775.1 101.7,775.5 101.8,775.9 101.8,776.4 101.9,776.8 102.0,777.3 102.0,777.7 102.1,778.1 102.2,778.6 102.2,779.0 102.3,779.5 102.4,779.9 102.4,780.3 102.5,780.8 102.6,781.2 102.6,781.6 102.7,782.0 102.8,782.5 102.8,782.9 102.9,783.3 103.0,783.7 103.0,784.2 103.1,784.6 103.2,785.0 103.2,785.4 103.3,785.8 103.3,786.2 103.4,786.6 103.5,787.0 103.5,787.5 103.6,787.9 103.6,788.2 103.7,788.6 103.8,789.0 103.8,789.4 103.9,789.8 103.9,790.2 104.0,790.6 104.0,790.9 104.1,791.3 104.2,791.7 104.2,792.1 104.3,792.4 104.3,792.8 104.4,793.1 104.4,793.5 104.5,793.8 104.5,794.2 104.6,794.5 104.6,794.8 104.7,795.2 104.7,795.5 104.8,795.8 104.8,796.1 104.9,796.5 104.9,796.8 105.0,797.1 105.0,797.4 105.0,797.7 105.1,797.9 105.1,798.2 105.2,798.5 105.2,798.8 105.3,799.0 105.3,799.3 105.3,799.6 105.4,799.8 105.4,800.1 105.4,800.3 105.5,800.5 105.5,800.8 105.5,801.0 105.6,801.2 105.6,801.4 105.6,801.6 105.7,801.8 105.7,802.0 Z" fill="#96a0ff" fill-opacity="0.550"/>
<path d="M115.2,803.5 112.0,781.9 108.6,760.5 104.8,739.0 101.3,717.6 98.2,696.1 95.3,674.5 92.4,653.0 89.4,631.4 86.4,609.9 83.2,588.3 79.8,566.9 M124.9,804.7 121.8,783.1 118.4,761.5 114.7,740.1 111.2,718.6 108.1,697.0 105.3,675.4 102.3,653.8 99.4,632.2 96.4,610.6 93.3,589.0 89.9,567.4 M134.8,805.3 131.7,783.7 128.4,762.2 124.7,740.7 121.2,719.2 118.2,697.6 115.4,676.0 112.5,654.3 109.6,632.7 106.6,611.1 103.5,589.6 100.2,568.0 M144.9,805.7 141.8,784.1 138.5,762.6 134.9,741.1 131.5,719.6 128.5,698.0 125.7,676.4 122.8,654.8 119.9,633.2 117.0,611.6 113.9,590.1 110.6,568.5 M155.1,806.0 152.1,784.5 148.9,763.0 145.3,741.5 141.9,720.0 138.9,698.4 136.1,676.8 133.3,655.2 130.4,633.7 127.5,612.1 124.5,590.5 121.2,569.0 M165.6,806.3 162.5,784.8 159.3,763.2 155.8,741.8 152.5,720.3 149.5,698.7 146.8,677.2 143.9,655.6 141.1,634.0 138.2,612.5 135.2,590.9 132.0,569.4 M176.1,806.4 173.1,784.9 170.0,763.4 166.5,742.0 163.2,720.5 160.3,698.9 157.6,677.4 154.8,655.9 151.9,634.3 149.1,612.8 146.1,591.2 143.0,569.8 M186.9,806.3 183.9,784.8 180.8,763.3 177.4,741.9 174.1,720.5 171.2,699.0 168.5,677.5 165.7,655.9 162.9,634.4 160.1,612.9 157.2,591.4 154.1,570.0 M197.7,806.0 194.8,784.6 191.7,763.1 188.4,741.7 185.2,720.3 182.3,698.8 179.6,677.4 176.9,655.9 174.1,634.4 171.3,612.9 168.4,591.4 165.3,570.0 M208.8,805.6 205.9,784.2 202.9,762.8 199.5,741.4 196.4,720.0 193.6,698.6 190.9,677.1 188.2,655.6 185.4,634.2 182.7,612.7 179.8,591.3 176.8,569.9 M220.0,805.1 217.1,783.7 214.1,762.3 210.9,741.0 207.8,719.6 205.0,698.1 202.3,676.7 199.6,655.3 196.9,633.8 194.2,612.4 191.3,591.0 188.4,569.6 M231.3,804.4 228.5,783.0 225.5,761.6 222.4,740.3 219.3,719.0 216.6,697.6 213.9,676.1 211.3,654.7 208.6,633.3 205.9,611.9 203.1,590.5 200.1,569.1 M242.8,803.5 240.0,782.1 237.1,760.8 234.0,739.5 231.0,718.2 228.3,696.8 225.7,675.4 223.0,654.0 220.4,632.7 217.7,611.3 214.9,589.9 212.0,568.6 M254.4,802.4 251.7,781.1 248.8,759.8 245.8,738.6 242.8,717.3 240.1,695.9 237.6,674.6 235.0,653.2 232.3,631.9 229.7,610.6 227.0,589.3 224.1,567.9 M266.2,801.5 263.5,780.2 260.7,758.9 257.7,737.6 254.8,716.3 252.2,695.0 249.6,673.7 247.0,652.4 244.5,631.1 241.8,609.8 239.2,588.5 236.3,567.2 M278.2,800.4 275.5,779.1 272.8,757.8 269.8,736.6 267.0,715.3 264.4,694.0 261.8,672.7 259.3,651.4 256.7,630.1 254.1,608.8 251.5,587.6 248.7,566.3 M290.3,799.2 287.7,777.9 284.9,756.7 282.0,735.4 279.3,714.2 276.7,692.9 274.2,671.7 271.7,650.4 269.2,629.1 266.6,607.8 264.0,586.6 261.3,565.3 M302.5,797.4 299.9,776.2 297.2,755.0 294.4,733.9 291.7,712.7 289.1,691.5 286.7,670.3 284.2,649.0 281.7,627.8 279.2,606.6 276.7,585.4 274.0,564.2 M314.7,795.2 312.2,774.1 309.6,753.0 306.9,731.9 304.2,710.8 301.7,689.7 299.3,668.6 296.9,647.5 294.4,626.4 292.0,605.3 289.5,584.2 286.9,563.1 M327.2,792.8 324.7,771.8 322.1,750.8 319.5,729.8 316.9,708.8 314.4,687.8 312.1,666.8 309.7,645.8 307.3,624.8 304.9,603.8 302.4,582.8 299.9,561.8 M339.7,790.3 337.3,769.4 334.8,748.5 332.2,727.6 329.7,706.7 327.3,685.8 325.0,664.9 322.6,644.0 320.3,623.1 317.9,602.2 315.5,581.3 313.0,560.4 M352.4,787.7 350.0,766.9 347.6,746.1 345.1,725.3 342.6,704.5 340.3,683.7 338.0,662.9 335.7,642.1 333.4,621.2 331.1,600.4 328.8,579.6 326.4,558.8 M365.4,785.9 363.1,765.1 360.7,744.3 358.2,723.5 355.8,702.7 353.5,681.9 351.3,661.1 349.0,640.3 346.8,619.5 344.5,598.7 342.2,577.9 339.8,557.1 M378.5,783.9 376.2,763.2 373.9,742.4 371.5,721.6 369.2,700.8 366.9,680.0 364.7,659.2 362.5,638.5 360.3,617.7 358.0,596.9 355.8,576.1 353.5,555.3 M391.7,781.7 389.5,760.9 387.3,740.2 384.9,719.5 382.6,698.7 380.4,678.0 378.3,657.2 376.1,636.4 373.9,615.7 371.7,594.9 369.5,574.2 367.2,553.4 M405.1,779.2 402.9,758.5 400.7,737.8 398.5,717.1 396.2,696.4 394.1,675.7 392.0,655.0 389.8,634.2 387.7,613.5 385.5,592.8 383.3,572.1 381.1,551.3 M418.6,776.6 416.5,755.9 414.3,735.3 412.1,714.6 410.0,693.9 407.9,673.2 405.8,652.6 403.7,631.9 401.6,611.2 399.5,590.5 397.4,569.9 395.2,549.2 M432.2,773.5 430.1,752.9 428.0,732.3 425.9,711.7 423.8,691.1 421.8,670.5 419.7,650.0 417.7,629.4 415.6,608.8 413.6,588.2 411.5,567.6 409.4,547.0 M445.8,770.0 443.8,749.5 441.8,729.0 439.8,708.6 437.8,688.1 435.8,667.7 433.8,647.2 431.8,626.7 429.8,606.3 427.8,585.8 425.9,565.4 423.9,544.9 M104.5,794.1 109.4,794.9 114.2,795.6 119.1,796.3 124.1,796.8 129.1,797.1 134.2,797.4 139.3,797.6 144.5,797.8 149.7,798.0 154.9,798.2 160.2,798.3 165.5,798.4 170.9,798.5 176.3,798.5 181.8,798.5 187.2,798.4 192.8,798.3 198.4,798.1 204.0,797.9 209.6,797.7 215.3,797.5 221.0,797.2 226.8,796.8 232.6,796.4 238.5,795.9 244.3,795.4 250.3,794.9 256.2,794.4 262.2,793.9 268.3,793.4 274.4,792.8 280.5,792.3 286.7,791.7 292.8,790.9 299.0,790.0 305.3,789.0 311.5,787.8 317.8,786.7 324.1,785.5 330.5,784.3 336.9,783.0 343.3,781.6 349.8,780.4 356.4,779.4 363.0,778.5 369.7,777.6 376.3,776.5 383.1,775.4 389.8,774.3 396.6,773.1 403.4,771.8 410.3,770.5 417.1,769.2 424.1,767.7 430.9,766.1 437.9,764.3 444.8,762.5 451.8,760.6 458.6,758.2 M103.3,786.3 108.2,787.0 113.0,787.7 118.0,788.3 122.9,788.9 128.0,789.2 133.1,789.5 138.2,789.7 143.3,789.9 148.6,790.1 153.8,790.3 159.1,790.4 164.4,790.5 169.8,790.6 175.2,790.6 180.7,790.6 186.2,790.5 191.7,790.4 197.3,790.2 202.9,790.1 208.6,789.8 214.3,789.6 220.0,789.3 225.8,789.0 231.6,788.5 237.4,788.1 243.3,787.6 249.3,787.1 255.2,786.6 261.2,786.1 267.3,785.6 273.4,785.0 279.5,784.4 285.7,783.9 291.9,783.1 298.1,782.2 304.3,781.2 310.6,780.1 316.9,778.9 323.2,777.8 329.6,776.6 336.0,775.3 342.4,773.9 348.9,772.7 355.5,771.7 362.1,770.8 368.8,769.9 375.5,768.9 382.2,767.8 389.0,766.7 395.8,765.5 402.6,764.2 409.5,762.9 416.4,761.6 423.3,760.1 430.2,758.5 437.1,756.8 444.1,755.0 451.1,753.1 457.9,750.8 M102.2,778.4 107.0,779.1 111.9,779.8 116.8,780.4 121.8,781.0 126.8,781.3 131.9,781.6 137.0,781.8 142.2,782.0 147.4,782.2 152.7,782.4 158.0,782.5 163.3,782.6 168.7,782.7 174.1,782.7 179.6,782.7 185.1,782.6 190.6,782.5 196.2,782.4 201.8,782.2 207.5,782.0 213.2,781.7 219.0,781.4 224.7,781.1 230.6,780.7 236.4,780.2 242.3,779.8 248.3,779.3 254.2,778.8 260.2,778.3 266.3,777.8 272.4,777.2 278.5,776.6 284.7,776.1 290.9,775.4 297.2,774.5 303.4,773.4 309.7,772.4 316.0,771.2 322.3,770.1 328.7,768.9 335.1,767.7 341.6,766.3 348.1,765.1 354.7,764.1 361.3,763.2 368.0,762.3 374.7,761.3 381.4,760.2 388.2,759.1 395.0,757.9 401.8,756.6 408.7,755.3 415.6,754.0 422.5,752.5 429.4,750.9 436.4,749.3 443.4,747.5 450.4,745.7 457.2,743.4 M100.9,770.6 105.8,771.3 110.7,771.9 115.6,772.6 120.6,773.1 125.6,773.4 130.7,773.7 135.9,773.9 141.0,774.1 146.3,774.3 151.5,774.5 156.8,774.6 162.2,774.7 167.6,774.8 173.0,774.8 178.5,774.8 184.0,774.8 189.5,774.7 195.1,774.5 200.7,774.3 206.4,774.1 212.1,773.9 217.9,773.6 223.7,773.3 229.5,772.9 235.4,772.4 241.3,771.9 247.2,771.4 253.2,771.0 259.2,770.5 265.3,770.0 271.4,769.4 277.6,768.8 283.7,768.3 290.0,767.6 296.2,766.7 302.4,765.7 308.7,764.6 315.0,763.5 321.4,762.4 327.8,761.2 334.2,760.0 340.7,758.6 347.2,757.5 353.8,756.5 360.4,755.6 367.1,754.7 373.8,753.7 380.6,752.6 387.3,751.5 394.2,750.3 401.0,749.0 407.9,747.8 414.8,746.4 421.7,745.0 428.7,743.4 435.6,741.7 442.6,740.0 449.6,738.2 456.5,736.0 M99.7,762.7 104.5,763.4 109.4,764.1 114.4,764.7 119.3,765.2 124.4,765.5 129.5,765.8 134.7,766.0 139.8,766.2 145.1,766.4 150.3,766.6 155.6,766.7 161.0,766.8 166.4,766.9 171.8,767.0 177.3,767.0 182.8,766.9 188.4,766.8 194.0,766.6 199.6,766.5 205.3,766.3 211.0,766.0 216.8,765.8 222.6,765.4 228.4,765.0 234.3,764.6 240.2,764.1 246.2,763.6 252.2,763.1 258.2,762.7 264.3,762.2 270.4,761.6 276.5,761.1 282.7,760.5 289.0,759.8 295.2,758.9 301.5,757.9 307.8,756.9 314.1,755.8 320.5,754.7 326.9,753.5 333.3,752.3 339.8,751.0 346.3,749.8 352.9,748.9 359.6,748.0 366.3,747.1 373.0,746.0 379.7,745.0 386.5,743.8 393.4,742.7 400.2,741.4 407.1,740.2 414.0,738.8 421.0,737.4 427.9,735.8 434.9,734.2 441.9,732.5 448.9,730.7 455.8,728.6 M98.3,754.9 103.2,755.5 108.1,756.2 113.0,756.8 118.0,757.3 123.1,757.6 128.2,757.9 133.4,758.1 138.5,758.3 143.8,758.5 149.0,758.7 154.4,758.8 159.7,759.0 165.1,759.1 170.6,759.1 176.1,759.1 181.6,759.0 187.2,758.9 192.8,758.8 198.4,758.6 204.1,758.4 209.9,758.2 215.6,757.9 221.4,757.6 227.3,757.2 233.2,756.8 239.1,756.3 245.1,755.8 251.1,755.3 257.1,754.9 263.2,754.4 269.3,753.8 275.5,753.3 281.7,752.7 287.9,752.0 294.2,751.1 300.5,750.2 306.8,749.1 313.1,748.1 319.5,747.0 325.9,745.8 332.4,744.7 338.8,743.4 345.4,742.2 352.0,741.3 358.7,740.4 365.4,739.4 372.1,738.4 378.9,737.4 385.7,736.2 392.5,735.1 399.4,733.8 406.3,732.6 413.2,731.3 420.2,729.8 427.1,728.3 434.1,726.7 441.1,725.0 448.2,723.3 455.1,721.2 M96.9,747.1 101.8,747.7 106.7,748.3 111.6,748.9 116.6,749.4 121.7,749.8 126.8,750.0 132.0,750.3 137.2,750.5 142.5,750.6 147.7,750.8 153.1,751.0 158.4,751.1 163.9,751.2 169.3,751.2 174.8,751.2 180.3,751.2 185.9,751.1 191.5,751.0 197.2,750.8 202.9,750.6 208.7,750.4 214.4,750.1 220.3,749.8 226.1,749.4 232.0,749.0 237.9,748.5 243.9,748.0 249.9,747.5 256.0,747.1 262.1,746.6 268.2,746.1 274.4,745.5 280.6,744.9 286.9,744.2 293.1,743.4 299.4,742.4 305.7,741.4 312.1,740.4 318.5,739.3 324.9,738.2 331.4,737.0 337.9,735.7 344.4,734.6 351.1,733.6 357.7,732.7 364.5,731.8 371.2,730.8 378.0,729.7 384.8,728.6 391.7,727.5 398.5,726.2 405.5,725.0 412.4,723.7 419.4,722.3 426.4,720.7 433.4,719.1 440.4,717.5 447.5,715.8 454.4,713.8 M95.4,739.3 100.3,739.9 105.3,740.5 110.2,741.1 115.3,741.5 120.4,741.9 125.5,742.1 130.7,742.4 135.9,742.6 141.1,742.8 146.4,742.9 151.8,743.1 157.1,743.2 162.6,743.3 168.0,743.4 173.5,743.4 179.1,743.3 184.7,743.2 190.3,743.1 196.0,743.0 201.7,742.8 207.4,742.5 213.2,742.3 219.1,742.0 224.9,741.6 230.8,741.1 236.8,740.7 242.8,740.2 248.8,739.8 254.9,739.3 261.0,738.8 267.1,738.3 273.3,737.7 279.5,737.1 285.8,736.5 292.1,735.6 298.4,734.7 304.7,733.7 311.1,732.6 317.5,731.6 324.0,730.5 330.4,729.4 336.9,728.1 343.5,727.0 350.2,726.0 356.8,725.1 363.6,724.2 370.3,723.2 377.1,722.1 384.0,721.0 390.8,719.9 397.7,718.7 404.7,717.4 411.6,716.1 418.6,714.7 425.6,713.2 432.6,711.6 439.7,710.0 446.8,708.3 453.8,706.3 M94.0,731.4 99.0,732.0 103.9,732.6 108.9,733.2 113.9,733.7 119.0,734.0 124.1,734.3 129.3,734.5 134.5,734.7 139.8,734.9 145.1,735.1 150.5,735.2 155.8,735.4 161.3,735.5 166.8,735.5 172.3,735.5 177.8,735.5 183.4,735.4 189.1,735.3 194.8,735.1 200.5,734.9 206.3,734.7 212.0,734.4 217.9,734.1 223.8,733.8 229.7,733.3 235.6,732.9 241.6,732.4 247.7,732.0 253.8,731.5 259.9,731.0 266.0,730.5 272.2,729.9 278.5,729.3 284.8,728.7 291.0,727.9 297.4,726.9 303.7,726.0 310.1,724.9 316.5,723.9 323.0,722.8 329.5,721.7 336.0,720.4 342.6,719.3 349.2,718.4 355.9,717.5 362.7,716.6 369.5,715.6 376.3,714.5 383.1,713.4 390.0,712.3 396.9,711.1 403.8,709.8 410.8,708.5 417.8,707.1 424.8,705.7 431.9,704.1 438.9,702.5 446.0,700.9 453.1,698.9 M92.7,723.6 97.6,724.2 102.6,724.8 107.6,725.3 112.6,725.8 117.7,726.1 122.9,726.4 128.1,726.6 133.3,726.8 138.6,727.0 143.9,727.2 149.2,727.4 154.6,727.5 160.1,727.6 165.5,727.7 171.1,727.7 176.6,727.6 182.3,727.5 187.9,727.4 193.6,727.3 199.3,727.1 205.1,726.9 210.9,726.6 216.8,726.3 222.7,725.9 228.6,725.5 234.5,725.1 240.6,724.6 246.6,724.2 252.7,723.7 258.8,723.2 265.0,722.7 271.2,722.1 277.5,721.6 283.7,720.9 290.0,720.1 296.4,719.2 302.7,718.2 309.1,717.2 315.6,716.2 322.0,715.1 328.5,714.0 335.1,712.8 341.7,711.7 348.3,710.8 355.1,709.9 361.8,709.0 368.6,708.0 375.4,706.9 382.3,705.8 389.2,704.7 396.1,703.5 403.0,702.2 410.0,700.9 417.0,699.6 424.0,698.1 431.1,696.6 438.2,695.0 445.3,693.4 452.4,691.5 M91.5,715.8 96.4,716.3 101.3,716.9 106.4,717.4 111.4,717.9 116.5,718.2 121.6,718.5 126.9,718.7 132.1,718.9 137.4,719.1 142.7,719.3 148.1,719.5 153.5,719.6 158.9,719.7 164.4,719.8 169.9,719.8 175.5,719.8 181.1,719.7 186.8,719.6 192.5,719.4 198.2,719.2 204.0,719.0 209.8,718.8 215.7,718.5 221.6,718.1 227.5,717.7 233.5,717.2 239.5,716.8 245.6,716.3 251.7,715.9 257.8,715.4 264.0,714.9 270.2,714.3 276.5,713.8 282.8,713.1 289.1,712.3 295.4,711.4 301.8,710.5 308.2,709.5 314.6,708.5 321.1,707.4 327.6,706.4 334.2,705.2 340.8,704.1 347.5,703.1 354.2,702.3 361.0,701.3 367.7,700.3 374.6,699.3 381.4,698.2 388.3,697.1 395.3,695.9 402.2,694.6 409.2,693.4 416.3,692.0 423.3,690.6 430.4,689.0 437.5,687.5 444.6,685.9 451.7,684.1 M90.3,707.9 95.2,708.4 100.2,709.0 105.2,709.5 110.2,710.0 115.4,710.3 120.5,710.6 125.7,710.8 131.0,711.0 136.3,711.2 141.6,711.4 147.0,711.6 152.4,711.7 157.8,711.8 163.3,711.9 168.9,711.9 174.4,711.9 180.1,711.8 185.7,711.7 191.4,711.6 197.2,711.4 203.0,711.2 208.8,710.9 214.7,710.6 220.6,710.3 226.5,709.9 232.5,709.4 238.5,709.0 244.6,708.5 250.7,708.1 256.8,707.6 263.0,707.1 269.2,706.5 275.5,706.0 281.8,705.3 288.1,704.5 294.5,703.7 300.9,702.7 307.3,701.8 313.7,700.8 320.2,699.8 326.8,698.7 333.3,697.5 339.9,696.5 346.6,695.5 353.3,694.6 360.1,693.7 366.9,692.7 373.8,691.7 380.6,690.6 387.5,689.5 394.5,688.3 401.4,687.0 408.4,685.8 415.5,684.4 422.5,683.0 429.6,681.5 436.7,680.0 443.9,678.5 451.0,676.7 M89.2,700.0 94.1,700.6 99.1,701.1 104.1,701.6 109.1,702.0 114.3,702.4 119.4,702.6 124.6,702.9 129.9,703.1 135.2,703.3 140.5,703.5 145.9,703.7 151.3,703.8 156.8,703.9 162.3,704.0 167.8,704.0 173.4,704.0 179.0,703.9 184.7,703.8 190.4,703.7 196.2,703.5 202.0,703.3 207.8,703.1 213.7,702.8 219.6,702.4 225.5,702.0 231.5,701.6 237.5,701.1 243.6,700.7 249.7,700.2 255.9,699.8 262.1,699.3 268.3,698.7 274.6,698.2 280.9,697.5 287.2,696.8 293.6,695.9 299.9,695.0 306.4,694.0 312.8,693.1 319.4,692.1 325.9,691.0 332.5,689.9 339.1,688.8 345.8,687.9 352.5,687.0 359.3,686.1 366.1,685.1 372.9,684.1 379.8,683.0 386.7,681.8 393.7,680.7 400.7,679.5 407.7,678.2 414.7,676.9 421.8,675.4 428.9,674.0 436.0,672.5 443.2,671.0 450.3,669.3 M88.1,692.1 93.0,692.7 98.0,693.2 103.0,693.7 108.1,694.1 113.2,694.4 118.4,694.7 123.6,695.0 128.8,695.2 134.1,695.4 139.5,695.6 144.9,695.7 150.3,695.9 155.7,696.0 161.2,696.1 166.8,696.1 172.4,696.1 178.0,696.0 183.7,695.9 189.4,695.8 195.2,695.6 201.0,695.4 206.8,695.2 212.7,694.9 218.6,694.6 224.5,694.2 230.5,693.8 236.6,693.3 242.7,692.9 248.8,692.4 254.9,692.0 261.1,691.5 267.4,690.9 273.6,690.4 280.0,689.7 286.3,689.0 292.7,688.1 299.1,687.2 305.5,686.3 312.0,685.4 318.5,684.4 325.0,683.3 331.6,682.2 338.2,681.2 344.9,680.3 351.7,679.4 358.5,678.5 365.3,677.5 372.1,676.4 379.0,675.4 385.9,674.2 392.9,673.1 399.9,671.9 406.9,670.6 414.0,669.3 421.0,667.9 428.1,666.4 435.3,665.0 442.5,663.5 449.6,661.9 M87.0,684.3 92.0,684.8 96.9,685.3 102.0,685.8 107.0,686.2 112.2,686.5 117.3,686.8 122.6,687.0 127.8,687.3 133.1,687.5 138.4,687.7 143.8,687.8 149.2,688.0 154.7,688.1 160.2,688.2 165.8,688.2 171.4,688.2 177.0,688.2 182.7,688.1 188.4,687.9 194.2,687.8 200.0,687.6 205.8,687.3 211.7,687.0 217.6,686.7 223.6,686.3 229.6,685.9 235.6,685.5 241.7,685.1 247.8,684.6 254.0,684.1 260.2,683.6 266.4,683.1 272.7,682.5 279.0,681.9 285.4,681.2 291.8,680.4 298.2,679.5 304.6,678.6 311.1,677.6 317.6,676.7 324.2,675.7 330.8,674.6 337.4,673.5 344.1,672.6 350.8,671.7 357.6,670.8 364.5,669.8 371.3,668.8 378.2,667.8 385.1,666.6 392.1,665.5 399.1,664.3 406.1,663.0 413.2,661.7 420.3,660.3 427.4,658.9 434.5,657.5 441.8,656.1 448.9,654.5 M85.9,676.4 90.9,676.9 95.9,677.4 100.9,677.9 106.0,678.3 111.1,678.6 116.3,678.9 121.5,679.1 126.8,679.3 132.1,679.5 137.4,679.7 142.8,679.9 148.2,680.1 153.7,680.2 159.2,680.3 164.8,680.3 170.4,680.3 176.0,680.3 181.7,680.2 187.4,680.1 193.2,679.9 199.0,679.7 204.9,679.5 210.7,679.2 216.7,678.9 222.6,678.5 228.6,678.1 234.7,677.7 240.8,677.2 246.9,676.8 253.1,676.3 259.3,675.8 265.5,675.3 271.8,674.7 278.1,674.1 284.5,673.4 290.9,672.6 297.3,671.7 303.7,670.9 310.2,669.9 316.8,669.0 323.3,668.0 329.9,666.9 336.6,665.9 343.3,665.0 350.0,664.1 356.8,663.2 363.6,662.2 370.5,661.2 377.4,660.1 384.4,659.0 391.3,657.9 398.3,656.7 405.4,655.4 412.4,654.1 419.5,652.8 426.7,651.4 433.8,650.0 441.0,648.6 448.2,647.1 M84.9,668.5 89.8,669.0 94.8,669.5 99.9,669.9 104.9,670.3 110.1,670.7 115.2,670.9 120.5,671.2 125.7,671.4 131.1,671.6 136.4,671.8 141.8,672.0 147.2,672.2 152.7,672.3 158.2,672.4 163.8,672.4 169.4,672.4 175.0,672.4 180.7,672.3 186.5,672.2 192.2,672.0 198.0,671.8 203.9,671.6 209.8,671.3 215.7,671.0 221.7,670.6 227.7,670.2 233.7,669.8 239.8,669.4 246.0,669.0 252.1,668.5 258.3,668.0 264.6,667.5 270.9,666.9 277.2,666.3 283.6,665.6 290.0,664.8 296.4,664.0 302.9,663.1 309.4,662.2 315.9,661.3 322.5,660.3 329.1,659.3 335.7,658.3 342.4,657.4 349.2,656.5 356.0,655.6 362.8,654.6 369.7,653.6 376.6,652.5 383.6,651.4 390.5,650.3 397.6,649.1 404.6,647.9 411.7,646.6 418.8,645.2 425.9,643.9 433.1,642.5 440.3,641.1 447.5,639.7 M83.8,660.7 88.8,661.1 93.7,661.6 98.8,662.0 103.9,662.4 109.0,662.7 114.2,663.0 119.4,663.3 124.7,663.5 130.0,663.7 135.3,663.9 140.8,664.1 146.2,664.3 151.7,664.4 157.2,664.5 162.8,664.5 168.4,664.5 174.0,664.5 179.7,664.4 185.5,664.3 191.2,664.2 197.0,664.0 202.9,663.7 208.8,663.5 214.7,663.2 220.7,662.8 226.7,662.4 232.8,662.0 238.9,661.6 245.0,661.1 251.2,660.7 257.4,660.2 263.7,659.7 270.0,659.1 276.3,658.5 282.7,657.8 289.1,657.1 295.5,656.2 302.0,655.4 308.5,654.5 315.0,653.6 321.6,652.7 328.2,651.6 334.9,650.6 341.6,649.7 348.4,648.8 355.2,647.9 362.0,647.0 368.9,646.0 375.8,644.9 382.8,643.8 389.7,642.7 396.8,641.5 403.8,640.3 410.9,639.0 418.0,637.7 425.2,636.3 432.4,635.0 439.6,633.7 446.8,632.3 M82.7,652.8 87.7,653.2 92.6,653.7 97.7,654.1 102.8,654.5 107.9,654.8 113.1,655.1 118.4,655.3 123.6,655.6 128.9,655.8 134.3,656.0 139.7,656.2 145.1,656.3 150.6,656.5 156.2,656.6 161.7,656.6 167.3,656.7 173.0,656.6 178.7,656.6 184.4,656.4 190.2,656.3 196.0,656.1 201.9,655.9 207.8,655.6 213.7,655.3 219.7,655.0 225.7,654.6 231.8,654.2 237.9,653.8 244.1,653.3 250.2,652.9 256.5,652.4 262.7,651.9 269.0,651.3 275.4,650.7 281.8,650.0 288.2,649.3 294.6,648.5 301.1,647.7 307.6,646.8 314.2,645.9 320.7,645.0 327.4,644.0 334.0,643.0 340.8,642.1 347.5,641.2 354.4,640.3 361.2,639.3 368.1,638.3 375.0,637.3 382.0,636.2 389.0,635.1 396.0,633.9 403.0,632.7 410.2,631.4 417.3,630.1 424.5,628.8 431.6,627.5 438.9,626.2 446.1,624.9 M81.6,644.9 86.6,645.3 91.6,645.8 96.6,646.2 101.7,646.6 106.9,646.9 112.0,647.2 117.3,647.4 122.6,647.7 127.9,647.9 133.2,648.1 138.7,648.3 144.1,648.4 149.6,648.6 155.1,648.7 160.7,648.8 166.3,648.8 172.0,648.7 177.7,648.7 183.4,648.6 189.2,648.4 195.0,648.3 200.9,648.0 206.8,647.8 212.8,647.5 218.8,647.1 224.8,646.7 230.8,646.4 237.0,645.9 243.1,645.5 249.3,645.1 255.5,644.6 261.8,644.1 268.1,643.5 274.5,642.9 280.8,642.3 287.3,641.5 293.7,640.7 300.2,639.9 306.7,639.1 313.3,638.2 319.9,637.3 326.5,636.3 333.2,635.4 339.9,634.5 346.7,633.6 353.5,632.7 360.4,631.7 367.3,630.7 374.2,629.7 381.2,628.6 388.2,627.5 395.2,626.3 402.3,625.1 409.4,623.9 416.5,622.6 423.7,621.3 430.9,620.0 438.2,618.7 445.4,617.5 M80.5,637.0 85.5,637.5 90.5,637.9 95.5,638.3 100.6,638.7 105.8,639.0 111.0,639.2 116.2,639.5 121.5,639.7 126.8,640.0 132.2,640.2 137.6,640.4 143.0,640.5 148.6,640.7 154.1,640.8 159.7,640.9 165.3,640.9 171.0,640.9 176.7,640.8 182.4,640.7 188.2,640.6 194.0,640.4 199.9,640.2 205.8,639.9 211.8,639.6 217.8,639.3 223.8,638.9 229.9,638.5 236.0,638.1 242.2,637.7 248.3,637.2 254.6,636.8 260.9,636.3 267.2,635.7 273.5,635.1 279.9,634.5 286.3,633.8 292.8,633.0 299.3,632.2 305.8,631.4 312.4,630.5 319.0,629.6 325.7,628.7 332.3,627.7 339.1,626.8 345.9,626.0 352.7,625.1 359.6,624.1 366.5,623.1 373.4,622.1 380.4,621.0 387.4,619.9 394.4,618.7 401.5,617.5 408.6,616.3 415.8,615.0 423.0,613.7 430.2,612.5 437.5,611.3 444.7,610.1 M79.4,629.2 84.4,629.6 89.4,630.0 94.4,630.4 99.5,630.7 104.7,631.0 109.9,631.3 115.2,631.6 120.4,631.8 125.8,632.0 131.1,632.3 136.6,632.5 142.0,632.6 147.5,632.8 153.0,632.9 158.6,633.0 164.3,633.0 169.9,633.0 175.6,632.9 181.4,632.8 187.2,632.7 193.0,632.5 198.9,632.3 204.8,632.1 210.8,631.8 216.8,631.4 222.8,631.1 228.9,630.7 235.0,630.3 241.2,629.9 247.4,629.4 253.6,629.0 259.9,628.4 266.2,627.9 272.6,627.3 279.0,626.7 285.4,626.0 291.9,625.3 298.4,624.5 304.9,623.7 311.5,622.8 318.1,622.0 324.8,621.0 331.5,620.1 338.3,619.2 345.0,618.3 351.9,617.4 358.7,616.5 365.7,615.5 372.6,614.5 379.6,613.4 386.6,612.3 393.7,611.1 400.7,610.0 407.9,608.7 415.0,607.5 422.2,606.2 429.5,605.0 436.8,603.8 444.0,602.7 M78.3,621.3 83.3,621.7 88.3,622.1 93.4,622.5 98.5,622.8 103.6,623.1 108.8,623.4 114.1,623.7 119.4,623.9 124.7,624.1 130.1,624.3 135.5,624.5 141.0,624.7 146.5,624.9 152.0,625.0 157.6,625.1 163.2,625.1 168.9,625.1 174.6,625.1 180.4,625.0 186.2,624.8 192.0,624.7 197.9,624.5 203.8,624.2 209.8,623.9 215.8,623.6 221.9,623.2 227.9,622.9 234.1,622.5 240.2,622.1 246.4,621.6 252.7,621.1 259.0,620.6 265.3,620.1 271.7,619.5 278.1,618.9 284.5,618.2 291.0,617.5 297.5,616.7 304.1,616.0 310.7,615.1 317.3,614.3 324.0,613.4 330.7,612.5 337.4,611.6 344.2,610.7 351.1,609.8 357.9,608.8 364.9,607.9 371.8,606.8 378.8,605.8 385.8,604.7 392.9,603.5 400.0,602.4 407.1,601.2 414.3,599.9 421.5,598.7 428.7,597.5 436.0,596.3 443.4,595.2 M77.1,613.4 82.2,613.8 87.2,614.2 92.3,614.6 97.4,614.9 102.5,615.2 107.7,615.5 113.0,615.7 118.3,616.0 123.6,616.2 129.0,616.4 134.4,616.6 139.9,616.8 145.4,617.0 151.0,617.1 156.6,617.2 162.2,617.2 167.9,617.2 173.6,617.2 179.4,617.1 185.2,617.0 191.0,616.8 196.9,616.6 202.8,616.4 208.8,616.1 214.8,615.8 220.9,615.4 227.0,615.0 233.1,614.7 239.3,614.2 245.5,613.8 251.7,613.3 258.0,612.8 264.4,612.3 270.8,611.8 277.2,611.1 283.6,610.5 290.1,609.8 296.6,609.0 303.2,608.3 309.8,607.5 316.4,606.6 323.1,605.7 329.8,604.8 336.6,603.9 343.4,603.1 350.2,602.2 357.1,601.2 364.0,600.2 371.0,599.2 378.0,598.2 385.0,597.1 392.1,595.9 399.2,594.8 406.3,593.6 413.5,592.4 420.7,591.1 428.0,590.0 435.3,588.9 442.7,587.8 M76.0,605.6 81.0,605.9 86.0,606.3 91.1,606.6 96.3,607.0 101.4,607.3 106.6,607.6 111.9,607.8 117.2,608.1 122.6,608.3 127.9,608.5 133.4,608.7 138.8,608.9 144.4,609.1 149.9,609.2 155.5,609.3 161.2,609.3 166.8,609.3 172.6,609.3 178.3,609.2 184.2,609.1 190.0,608.9 195.9,608.7 201.8,608.5 207.8,608.2 213.8,607.9 219.9,607.6 226.0,607.2 232.1,606.8 238.3,606.4 244.5,606.0 250.8,605.5 257.1,605.0 263.4,604.5 269.8,604.0 276.2,603.3 282.7,602.7 289.2,602.0 295.7,601.3 302.3,600.5 308.9,599.8 315.5,598.9 322.2,598.1 328.9,597.2 335.7,596.3 342.5,595.4 349.4,594.5 356.3,593.6 363.2,592.6 370.2,591.6 377.2,590.6 384.2,589.5 391.3,588.4 398.4,587.2 405.6,586.0 412.8,584.8 420.0,583.6 427.3,582.5 434.6,581.4 442.0,580.4 M74.9,597.7 79.9,598.0 84.9,598.4 90.0,598.7 95.1,599.1 100.3,599.4 105.5,599.6 110.8,599.9 116.1,600.2 121.5,600.4 126.8,600.6 132.3,600.8 137.7,601.0 143.3,601.2 148.8,601.3 154.4,601.4 160.1,601.5 165.8,601.5 171.5,601.4 177.3,601.4 183.1,601.2 189.0,601.1 194.9,600.9 200.8,600.7 206.8,600.4 212.8,600.1 218.9,599.8 225.0,599.4 231.1,599.0 237.3,598.6 243.6,598.2 249.8,597.7 256.1,597.2 262.5,596.7 268.9,596.2 275.3,595.6 281.8,594.9 288.3,594.3 294.8,593.6 301.4,592.8 308.0,592.1 314.7,591.3 321.4,590.4 328.1,589.5 334.9,588.7 341.7,587.8 348.6,586.9 355.5,586.0 362.4,585.0 369.4,584.0 376.4,583.0 383.4,581.9 390.5,580.8 397.6,579.6 404.8,578.5 412.0,577.3 419.3,576.1 426.5,575.0 433.9,573.9 441.3,573.0 M73.7,589.8 78.7,590.2 83.7,590.5 88.8,590.8 94.0,591.2 99.2,591.5 104.4,591.7 109.7,592.0 114.9,592.3 120.3,592.5 125.7,592.7 131.2,592.9 136.6,593.1 142.2,593.3 147.7,593.4 153.3,593.5 159.0,593.6 164.7,593.6 170.4,593.6 176.2,593.5 182.0,593.4 187.9,593.2 193.8,593.0 199.8,592.8 205.8,592.5 211.8,592.3 217.9,591.9 224.0,591.6 230.1,591.2 236.3,590.8 242.6,590.4 248.8,589.9 255.2,589.4 261.5,588.9 267.9,588.4 274.3,587.8 280.8,587.2 287.3,586.5 293.9,585.8 300.5,585.1 307.1,584.4 313.8,583.6 320.5,582.8 327.2,581.9 334.0,581.1 340.8,580.2 347.7,579.3 354.6,578.4 361.6,577.4 368.5,576.4 375.6,575.4 382.6,574.3 389.7,573.2 396.9,572.0 404.0,570.9 411.2,569.7 418.5,568.6 425.8,567.4 433.2,566.5 440.6,565.6 M72.4,582.0 77.5,582.3 82.5,582.6 87.6,582.9 92.8,583.3 98.0,583.6 103.2,583.8 108.5,584.1 113.8,584.4 119.1,584.6 124.5,584.8 130.0,585.0 135.5,585.2 141.0,585.4 146.6,585.5 152.2,585.7 157.9,585.7 163.6,585.7 169.3,585.7 175.1,585.6 181.0,585.5 186.8,585.4 192.7,585.2 198.7,585.0 204.7,584.7 210.7,584.4 216.8,584.1 222.9,583.8 229.1,583.4 235.3,583.0 241.6,582.6 247.8,582.1 254.2,581.6 260.5,581.1 266.9,580.6 273.4,580.0 279.9,579.4 286.4,578.8 292.9,578.1 299.5,577.4 306.2,576.7 312.9,575.9 319.6,575.1 326.3,574.3 333.1,573.4 340.0,572.6 346.9,571.7 353.8,570.7 360.7,569.8 367.7,568.8 374.8,567.8 381.8,566.7 388.9,565.6 396.1,564.5 403.3,563.3 410.5,562.2 417.8,561.0 425.1,559.9 432.5,559.0 439.9,558.2 M71.2,574.1 76.2,574.4 81.3,574.8 86.4,575.1 91.5,575.4 96.7,575.7 102.0,575.9 107.3,576.2 112.6,576.5 118.0,576.7 123.4,576.9 128.8,577.1 134.3,577.3 139.9,577.5 145.4,577.7 151.1,577.8 156.7,577.8 162.5,577.9 168.2,577.8 174.0,577.8 179.8,577.7 185.7,577.5 191.7,577.3 197.6,577.1 203.6,576.9 209.7,576.6 215.8,576.3 221.9,575.9 228.1,575.6 234.3,575.2 240.5,574.8 246.8,574.3 253.2,573.8 259.5,573.3 265.9,572.8 272.4,572.2 278.9,571.7 285.4,571.0 292.0,570.4 298.6,569.7 305.3,569.0 312.0,568.3 318.7,567.5 325.4,566.7 332.3,565.8 339.1,564.9 346.0,564.0 352.9,563.1 359.9,562.2 366.9,561.2 373.9,560.2 381.0,559.1 388.1,558.0 395.3,556.9 402.5,555.7 409.7,554.6 417.0,553.5 424.3,552.4 431.8,551.5 439.2,550.8" fill="none" stroke="#6a6aa0" stroke-width="0.55" stroke-opacity="0.17" clip-path="url(#clipB)"/>
<circle cx="395.40" cy="538.40" r="5.20" fill="url(#gGreen)" />
<circle cx="345.40" cy="578.80" r="5.20" fill="url(#gGreen)" />
<circle cx="354.70" cy="642.90" r="5.20" fill="url(#gGreen)" />
<circle cx="258.40" cy="661.80" r="5.20" fill="url(#gBlue)" />
<circle cx="163.30" cy="724.00" r="5.20" fill="url(#gOrange)" />
<circle cx="182.10" cy="727.60" r="5.20" fill="url(#gOrange)" />
<circle cx="153.40" cy="778.40" r="5.20" fill="url(#gOrange)" />
<circle cx="417.10" cy="575.40" r="4.60" fill="#ff50a0" />
<circle cx="336.00" cy="639.20" r="5.00" fill="#e6007e" />
<circle cx="354.40" cy="650.50" r="5.00" fill="#ff0000" />
<circle cx="153.80" cy="720.60" r="5.00" fill="#00ffff" />
<circle cx="137.60" cy="739.00" r="5.00" fill="#00ffff" />
<circle cx="221.00" cy="746.00" r="5.50" fill="#6600cc" />
<path d="M229.50,737.35 L233.00,743.44 L226.00,743.44 Z" fill="#e000d0"/>
<path d="M406.70,572.32 L410.70,579.28 L402.70,579.28 Z" fill="#b8b018"/>
<path d="M173.20,704.88 L176.95,711.41 L169.45,711.41 Z" fill="#c8640a"/>
<path d="M165.30,727.99 L169.05,734.51 L161.55,734.51 Z" fill="#c8640a"/>
<ellipse cx="84.70" cy="720.40" rx="2" ry="2.8" fill="#ff0000" transform="rotate(15 84.70 720.40)"/>
<ellipse cx="87.40" cy="723.20" rx="2" ry="2.8" fill="#ff0000" transform="rotate(15 87.40 723.20)"/>
<ellipse cx="82.20" cy="746.90" rx="2" ry="2.8" fill="#ff0000" transform="rotate(15 82.20 746.90)"/>
<ellipse cx="85.00" cy="752.30" rx="2" ry="2.8" fill="#ff0000" transform="rotate(15 85.00 752.30)"/>
<path d="M45.32,535.23 L72.10,825.28 M72.10,825.28 L319.49,913.99 L484.50,787.33" fill="none" stroke="#000" stroke-width="1.40" stroke-linecap="square"/>
<path d="M92.02,832.42 L87.20,835.08 M112.39,839.72 L108.89,841.65 M133.25,847.20 L128.43,849.86 M154.59,854.86 L151.09,856.79 M176.45,862.70 L171.63,865.36 M198.85,870.73 L195.35,872.66 M221.79,878.95 L216.97,881.61 M245.30,887.39 L241.80,889.32 M269.41,896.03 L264.59,898.69 M294.13,904.90 L290.63,906.83 M319.49,913.99 L314.67,916.65 M332.40,904.08 L338.05,906.11 M357.28,884.99 L362.93,887.02 M380.98,866.79 L386.63,868.82 M403.59,849.43 L409.24,851.46 M425.19,832.86 L430.84,834.89 M445.83,817.01 L451.48,819.04 M465.58,801.85 L471.23,803.88 M484.50,787.33 L490.15,789.36 M72.10,825.28 L66.60,826.16 M70.04,802.94 L66.54,803.50 M67.95,780.28 L62.45,781.16 M65.83,757.32 L62.33,757.88 M63.68,734.03 L58.18,734.91 M61.50,710.41 L58.00,710.97 M59.29,686.45 L53.79,687.33 M57.04,662.15 L53.54,662.71 M54.77,637.50 L49.27,638.38 M52.46,612.49 L48.96,613.05 M50.11,587.12 L44.61,588.00 M47.74,561.36 L44.24,561.92 M45.32,535.23 L39.82,536.11" fill="none" stroke="#000" stroke-width="1.30"/>
<g font-family="Liberation Sans, sans-serif" fill="#000">
<rect x="524.3" y="38.4" width="160.2" height="161.1" fill="#fff" stroke="#606060" stroke-width="1"/>
<circle cx="543.00" cy="50.20" r="6.40" fill="#ff8000" />
<text x="564.0" y="55.2" font-size="14.4">Shi et al.<tspan font-size="10" dy="-6.3">24</tspan></text>
<circle cx="543.00" cy="70.20" r="6.40" fill="#e6007e" />
<text x="564.0" y="75.2" font-size="14.4">Arifin<tspan font-size="10" dy="-6.3">25</tspan></text>
<circle cx="543.00" cy="90.20" r="6.60" fill="url(#gBlue)" />
<text x="564.0" y="95.2" font-size="14.4">JNC TN<tspan font-size="10" dy="-6.3">89</tspan></text>
<circle cx="543.00" cy="110.20" r="6.40" fill="#00ffff" />
<text x="564.0" y="115.2" font-size="14.4">Sun et al.<tspan font-size="10" dy="-6.3">28</tspan></text>
<circle cx="543.00" cy="130.20" r="6.40" fill="#ff0000" />
<text x="564.0" y="135.2" font-size="14.4">Hakami and Seif<tspan font-size="10" dy="-6.3">90</tspan></text>
<circle cx="543.00" cy="150.20" r="6.40" fill="#6600cc" />
<text x="564.0" y="155.2" font-size="14.4">Puppala et al.<tspan font-size="10" dy="-6.3">97</tspan></text>
<circle cx="543.00" cy="170.20" r="6.40" fill="#008000" />
<text x="564.0" y="175.2" font-size="14.4">Lin and Cerato<tspan font-size="10" dy="-6.3">27</tspan></text>
<circle cx="543.00" cy="190.20" r="6.40" fill="#800000" />
<text x="564.0" y="195.2" font-size="14.4">Abduljauwad<tspan font-size="10" dy="-6.3">98</tspan></text>
<text x="467" y="59" font-size="17">(a)</text>
<rect x="537.0" y="495.5" width="168.5" height="303.5" fill="#fff" stroke="#606060" stroke-width="1"/>
<circle cx="556.80" cy="508.10" r="6.40" fill="#ff50a0" />
<text x="577.5" y="513.1" font-size="14.6">Tripathy et al.<tspan font-size="10" dy="-6.3">91</tspan></text>
<circle cx="556.80" cy="528.17" r="6.40" fill="#00ffff" />
<text x="577.5" y="533.2" font-size="14.6">Shi et al.<tspan font-size="10" dy="-6.3">24</tspan></text>
<circle cx="556.80" cy="548.24" r="6.60" fill="url(#gBlue)" />
<text x="577.5" y="553.2" font-size="14.6">Arifin<tspan font-size="10" dy="-6.3">25</tspan></text>
<path d="M556.80,561.71 L563.40,574.11 L550.20,574.11 Z" fill="#ff00ff"/>
<text x="577.5" y="573.3" font-size="14.6">Samingan<tspan font-size="10" dy="-6.3">92</tspan></text>
<circle cx="556.80" cy="588.38" r="6.40" fill="#ff0000" />
<text x="577.5" y="593.4" font-size="14.6">JNC TN<tspan font-size="10" dy="-6.3">89</tspan></text>
<path d="M556.80,601.85 L563.40,614.25 L550.20,614.25 Z" fill="#ffff00"/>
<text x="577.5" y="613.5" font-size="14.6">Villar and Lloret<tspan font-size="10" dy="-6.3">95</tspan></text>
<circle cx="556.80" cy="628.52" r="6.60" fill="url(#gGreen)" />
<text x="577.5" y="633.5" font-size="14.6">Komine<tspan font-size="10" dy="-6.3">93</tspan></text>
<circle cx="556.80" cy="648.59" r="6.40" fill="#6600cc" />
<text x="577.5" y="653.6" font-size="14.6">Agus and Schanz<tspan font-size="10" dy="-6.3">99</tspan></text>
<circle cx="556.80" cy="668.66" r="6.40" fill="#e6007e" />
<text x="577.5" y="673.7" font-size="14.6">Sun et al.<tspan font-size="10" dy="-6.3">28</tspan></text>
<path d="M556.80,682.13 L563.40,694.53 L550.20,694.53 Z" fill="#ff8000"/>
<text x="577.5" y="693.7" font-size="14.6">Alexander et al.<tspan font-size="10" dy="-6.3">88</tspan></text>
<circle cx="556.80" cy="708.80" r="6.60" fill="url(#gOrangeL)" />
<text x="577.5" y="713.8" font-size="14.6">Lin and Cerato<tspan font-size="10" dy="-6.3">27</tspan></text>
<path d="M556.80,722.27 L563.40,734.67 L550.20,734.67 Z" fill="#0000ff"/>
<text x="577.5" y="733.9" font-size="14.6">Li et al.<tspan font-size="10" dy="-6.3">100</tspan></text>
<circle cx="556.80" cy="748.94" r="6.40" fill="#ff00ff" />
<text x="577.5" y="753.9" font-size="14.6">Abduljauwad<tspan font-size="10" dy="-6.3">98</tspan></text>
<circle cx="556.80" cy="769.01" r="6.60" fill="url(#gDRed)" />
<text x="577.5" y="774.0" font-size="14.6">Plötze et al.<tspan font-size="10" dy="-6.3">94</tspan></text>
<path d="M556.80,782.48 L563.40,794.88 L550.20,794.88 Z" fill="#ff0000"/>
<text x="577.5" y="794.1" font-size="14.6">Abduljauwad<tspan font-size="10" dy="-6.3">101</tspan></text>
<text x="436.5" y="523.8" font-size="18">(b)</text>
</g>
<g font-family="Liberation Sans, sans-serif" fill="#000">
<text transform="matrix(0.7691,-0.3471,0.3433,1.0385,80.45,359.68)" font-size="16" text-anchor="end" >0</text>
<text transform="matrix(0.7773,-0.3282,0.3177,1.0466,77.95,319.55)" font-size="16" text-anchor="end" >20</text>
<text transform="matrix(0.7855,-0.3082,0.2908,1.0544,75.41,278.61)" font-size="16" text-anchor="end" >40</text>
<text transform="matrix(0.7934,-0.2870,0.2625,1.0618,72.81,236.85)" font-size="16" text-anchor="end" >60</text>
<text transform="matrix(0.8011,-0.2647,0.2327,1.0687,70.16,194.23)" font-size="16" text-anchor="end" >80</text>
<text transform="matrix(0.8085,-0.2413,0.2015,1.0750,67.45,150.73)" font-size="16" text-anchor="end" >100</text>
<text transform="matrix(0.8155,-0.2166,0.1687,1.0807,64.69,106.33)" font-size="16" text-anchor="end" >120</text>
<text transform="matrix(0.8219,-0.1907,0.1345,1.0854,61.87,60.99)" font-size="16" text-anchor="end" >140</text>
<text transform="matrix(0.7347,-0.4148,0.9606,0.2778,110.25,365.64)" font-size="16" text-anchor="end" >0</text>
<text transform="matrix(0.7206,-0.4389,0.9606,0.2778,164.90,381.67)" font-size="16" text-anchor="end" >20</text>
<text transform="matrix(0.7038,-0.4654,0.9606,0.2778,222.56,398.58)" font-size="16" text-anchor="end" >40</text>
<text transform="matrix(0.6836,-0.4946,0.9606,0.2778,283.48,416.46)" font-size="16" text-anchor="end" >60</text>
<text transform="matrix(0.6592,-0.5266,0.9606,0.2778,347.94,435.38)" font-size="16" text-anchor="end" >80</text>
<text transform="matrix(0.8105,0.2344,-0.6348,0.5071,360.45,435.00)" font-size="16" text-anchor="start" >0</text>
<text transform="matrix(0.8143,0.2209,-0.6348,0.5071,398.62,404.32)" font-size="16" text-anchor="start" >50</text>
<text transform="matrix(0.8175,0.2089,-0.6348,0.5071,433.55,376.25)" font-size="16" text-anchor="start" >100</text>
<text transform="matrix(0.8202,0.1980,-0.6348,0.5071,465.65,350.45)" font-size="16" text-anchor="start" >150</text>
<text transform="matrix(0.8225,0.1881,-0.6348,0.5071,495.24,326.67)" font-size="16" text-anchor="start" >200</text>
<text transform="matrix(0.0891,1.2343,-0.9000,0.2625,26.00,127.00)" font-size="16" text-anchor="start" >Total CEC (meq/100g)</text>
<text transform="matrix(1.0471,0.3161,-0.8396,0.5432,176.16,409.13)" font-size="16" text-anchor="middle" >MMC (%)</text>
<text transform="matrix(0.5412,-0.4729,1.0908,0.2753,488.28,378.59)" font-size="16" text-anchor="middle" >S<tspan font-size="11" dy="3">a</tspan><tspan dy="-3"> (%)</tspan></text>
<text transform="matrix(0.7675,-0.3506,0.3480,1.0369,65.80,833.18)" font-size="16" text-anchor="end" >0</text>
<text transform="matrix(0.7757,-0.3319,0.3228,1.0450,61.65,788.18)" font-size="16" text-anchor="end" >20</text>
<text transform="matrix(0.7839,-0.3121,0.2961,1.0529,57.38,741.93)" font-size="16" text-anchor="end" >40</text>
<text transform="matrix(0.7920,-0.2910,0.2678,1.0604,52.99,694.35)" font-size="16" text-anchor="end" >60</text>
<text transform="matrix(0.7999,-0.2686,0.2379,1.0676,48.47,645.40)" font-size="16" text-anchor="end" >80</text>
<text transform="matrix(0.8074,-0.2448,0.2062,1.0741,43.81,595.02)" font-size="16" text-anchor="end" >100</text>
<text transform="matrix(0.8146,-0.2197,0.1728,1.0800,39.02,543.13)" font-size="16" text-anchor="end" >120</text>
<text transform="matrix(0.8159,-0.4617,1.0296,0.3692,89.59,839.19)" font-size="16" text-anchor="end" >0</text>
<text transform="matrix(0.8050,-0.4805,1.0296,0.3692,130.93,854.16)" font-size="16" text-anchor="end" >20</text>
<text transform="matrix(0.7926,-0.5007,1.0296,0.3692,174.25,869.87)" font-size="16" text-anchor="end" >40</text>
<text transform="matrix(0.7784,-0.5224,1.0296,0.3692,219.74,886.34)" font-size="16" text-anchor="end" >60</text>
<text transform="matrix(0.7623,-0.5458,1.0296,0.3692,267.52,903.65)" font-size="16" text-anchor="end" >80</text>
<text transform="matrix(0.7437,-0.5708,1.0296,0.3692,317.79,921.87)" font-size="16" text-anchor="end" >100</text>
<text transform="matrix(0.8550,0.3004,-0.6445,0.4947,338.97,910.65)" font-size="16" text-anchor="start" >0</text>
<text transform="matrix(0.8586,0.2899,-0.6445,0.4947,363.89,891.43)" font-size="16" text-anchor="start" >1000</text>
<text transform="matrix(0.8619,0.2799,-0.6445,0.4947,387.63,873.11)" font-size="16" text-anchor="start" >2000</text>
<text transform="matrix(0.8649,0.2706,-0.6445,0.4947,410.28,855.64)" font-size="16" text-anchor="start" >3000</text>
<text transform="matrix(0.8676,0.2618,-0.6445,0.4947,431.91,838.96)" font-size="16" text-anchor="start" >4000</text>
<text transform="matrix(0.8701,0.2534,-0.6445,0.4947,452.58,823.01)" font-size="16" text-anchor="start" >5000</text>
<text transform="matrix(0.8724,0.2455,-0.6445,0.4947,472.36,807.75)" font-size="16" text-anchor="start" >6000</text>
<text transform="matrix(0.8744,0.2380,-0.6445,0.4947,491.31,793.14)" font-size="16" text-anchor="start" >7000</text>
<text transform="matrix(0.1343,1.2365,-0.9300,0.2713,3.80,606.00)" font-size="16" text-anchor="start" >Total CEC (meq/100g)</text>
<text transform="matrix(1.0512,0.4007,-0.8681,0.5567,142.00,896.21)" font-size="16" text-anchor="middle" >MMC (%)</text>
<text transform="matrix(0.6217,-0.5231,1.1940,0.3700,477.38,866.13)" font-size="16" text-anchor="middle" >S<tspan font-size="11" dy="3">p</tspan><tspan dy="-3"> (kPa)</tspan></text>
</g>
</svg></body></html>
